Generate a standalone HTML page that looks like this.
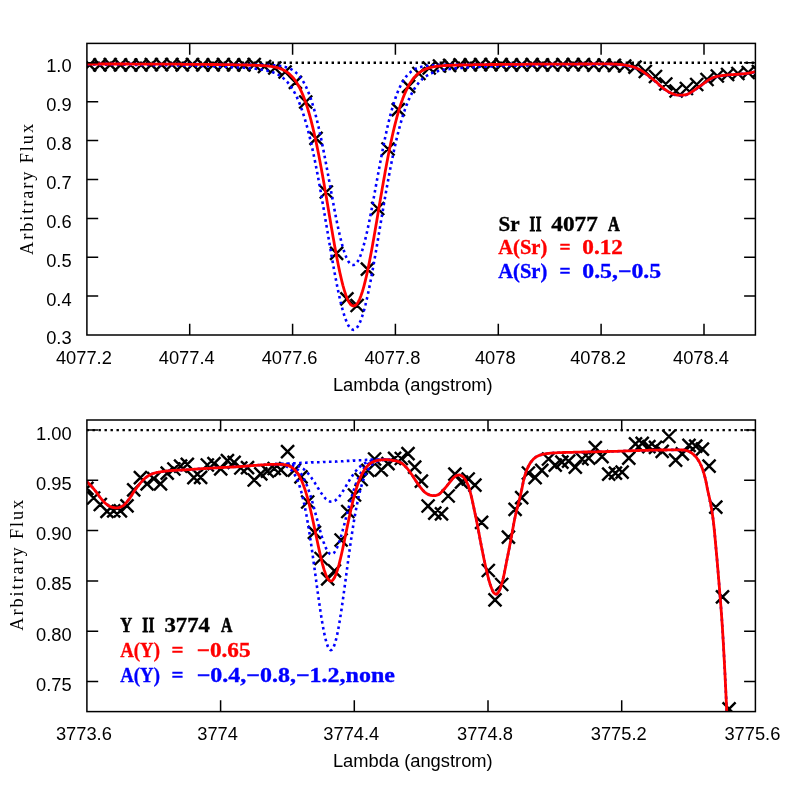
<!DOCTYPE html>
<html><head><meta charset="utf-8"><title>Spectral fits</title>
<style>html,body{margin:0;padding:0;background:#fff}svg{display:block;will-change:transform}</style></head>
<body>
<svg width="797" height="797" viewBox="0 0 797 797">
<rect width="797" height="797" fill="#fff"/>
<defs><clipPath id="c1"><rect x="86.9" y="43.4" width="668.5" height="291.6"/></clipPath><clipPath id="c2"><rect x="86.9" y="420.0" width="668.5" height="291.6"/></clipPath></defs>
<g clip-path="url(#c1)">
<path d="M86.9 62.8H755.4" stroke="#000" stroke-width="2.4" stroke-dasharray="2.4 3.6" stroke-dashoffset="1.3" fill="none"/>
<path d="M83.1 58.3l13.0 13.0M83.1 71.3l13.0 -13.0M93.4 58.4l13.0 13.0M93.4 71.4l13.0 -13.0M103.7 58.2l13.0 13.0M103.7 71.2l13.0 -13.0M114.0 58.3l13.0 13.0M114.0 71.3l13.0 -13.0M124.3 58.5l13.0 13.0M124.3 71.5l13.0 -13.0M134.5 58.5l13.0 13.0M134.5 71.5l13.0 -13.0M144.8 58.1l13.0 13.0M144.8 71.1l13.0 -13.0M155.1 58.1l13.0 13.0M155.1 71.1l13.0 -13.0M165.4 58.0l13.0 13.0M165.4 71.0l13.0 -13.0M175.7 58.3l13.0 13.0M175.7 71.3l13.0 -13.0M186.0 58.0l13.0 13.0M186.0 71.0l13.0 -13.0M196.3 58.3l13.0 13.0M196.3 71.3l13.0 -13.0M206.6 58.4l13.0 13.0M206.6 71.4l13.0 -13.0M216.9 58.2l13.0 13.0M216.9 71.2l13.0 -13.0M227.2 58.4l13.0 13.0M227.2 71.4l13.0 -13.0M237.4 58.4l13.0 13.0M237.4 71.4l13.0 -13.0M247.7 58.0l13.0 13.0M247.7 71.0l13.0 -13.0M258.0 60.0l13.0 13.0M258.0 73.0l13.0 -13.0M268.3 61.5l13.0 13.0M268.3 74.5l13.0 -13.0M278.6 65.5l13.0 13.0M278.6 78.5l13.0 -13.0M288.9 75.8l13.0 13.0M288.9 88.8l13.0 -13.0M299.2 95.5l13.0 13.0M299.2 108.5l13.0 -13.0M309.5 131.9l13.0 13.0M309.5 144.9l13.0 -13.0M319.8 185.5l13.0 13.0M319.8 198.5l13.0 -13.0M330.1 246.8l13.0 13.0M330.1 259.8l13.0 -13.0M340.4 292.3l13.0 13.0M340.4 305.3l13.0 -13.0M350.6 299.0l13.0 13.0M350.6 312.0l13.0 -13.0M360.9 262.7l13.0 13.0M360.9 275.7l13.0 -13.0M371.2 202.0l13.0 13.0M371.2 215.0l13.0 -13.0M381.5 142.5l13.0 13.0M381.5 155.5l13.0 -13.0M391.8 103.2l13.0 13.0M391.8 116.2l13.0 -13.0M402.1 79.9l13.0 13.0M402.1 92.9l13.0 -13.0M412.4 67.0l13.0 13.0M412.4 80.0l13.0 -13.0M422.7 61.5l13.0 13.0M422.7 74.5l13.0 -13.0M433.0 59.5l13.0 13.0M433.0 72.5l13.0 -13.0M443.2 58.8l13.0 13.0M443.2 71.8l13.0 -13.0M453.5 58.3l13.0 13.0M453.5 71.3l13.0 -13.0M463.8 58.3l13.0 13.0M463.8 71.3l13.0 -13.0M474.1 58.2l13.0 13.0M474.1 71.2l13.0 -13.0M484.4 58.2l13.0 13.0M484.4 71.2l13.0 -13.0M494.7 58.2l13.0 13.0M494.7 71.2l13.0 -13.0M505.0 58.4l13.0 13.0M505.0 71.4l13.0 -13.0M515.3 58.3l13.0 13.0M515.3 71.3l13.0 -13.0M525.6 58.1l13.0 13.0M525.6 71.1l13.0 -13.0M535.9 58.3l13.0 13.0M535.9 71.3l13.0 -13.0M546.1 58.5l13.0 13.0M546.1 71.5l13.0 -13.0M556.4 58.2l13.0 13.0M556.4 71.2l13.0 -13.0M566.7 58.1l13.0 13.0M566.7 71.1l13.0 -13.0M577.0 58.2l13.0 13.0M577.0 71.2l13.0 -13.0M587.3 58.6l13.0 13.0M587.3 71.6l13.0 -13.0M597.6 58.5l13.0 13.0M597.6 71.5l13.0 -13.0M607.9 58.8l13.0 13.0M607.9 71.8l13.0 -13.0M618.2 59.5l13.0 13.0M618.2 72.5l13.0 -13.0M628.5 60.7l13.0 13.0M628.5 73.7l13.0 -13.0M638.8 65.0l13.0 13.0M638.8 78.0l13.0 -13.0M649.0 70.0l13.0 13.0M649.0 83.0l13.0 -13.0M659.3 77.5l13.0 13.0M659.3 90.5l13.0 -13.0M669.6 84.5l13.0 13.0M669.6 97.5l13.0 -13.0M679.9 82.0l13.0 13.0M679.9 95.0l13.0 -13.0M690.2 78.0l13.0 13.0M690.2 91.0l13.0 -13.0M700.5 73.0l13.0 13.0M700.5 86.0l13.0 -13.0M710.8 69.5l13.0 13.0M710.8 82.5l13.0 -13.0M721.1 68.0l13.0 13.0M721.1 81.0l13.0 -13.0M731.4 67.0l13.0 13.0M731.4 80.0l13.0 -13.0M741.7 66.0l13.0 13.0M741.7 79.0l13.0 -13.0M751.9 65.0l13.0 13.0M751.9 78.0l13.0 -13.0" stroke="#000" stroke-width="2.45" fill="none"/>
<path d="M86.9 64.5 L87.4 64.5 L87.9 64.5 L88.4 64.5 L88.9 64.5 L89.4 64.5 L89.9 64.5 L90.4 64.5 L90.9 64.5 L91.4 64.5 L91.9 64.5 L92.4 64.5 L92.9 64.5 L93.4 64.5 L93.9 64.5 L94.4 64.5 L94.9 64.5 L95.4 64.5 L95.9 64.5 L96.4 64.5 L96.9 64.6 L97.4 64.6 L97.9 64.6 L98.4 64.6 L98.9 64.6 L99.4 64.6 L99.9 64.6 L100.4 64.6 L100.9 64.6 L101.4 64.6 L101.9 64.6 L102.4 64.6 L102.9 64.6 L103.4 64.6 L103.9 64.6 L104.4 64.6 L104.9 64.6 L105.4 64.6 L105.9 64.6 L106.4 64.6 L106.9 64.6 L107.4 64.6 L107.9 64.6 L108.4 64.6 L108.9 64.6 L109.4 64.6 L109.9 64.6 L110.4 64.6 L110.9 64.6 L111.4 64.6 L111.9 64.7 L112.4 64.7 L112.9 64.7 L113.4 64.7 L113.9 64.7 L114.4 64.7 L114.9 64.7 L115.4 64.7 L115.9 64.7 L116.4 64.7 L116.9 64.7 L117.4 64.7 L117.9 64.7 L118.4 64.7 L118.9 64.7 L119.4 64.7 L119.9 64.7 L120.4 64.7 L120.9 64.7 L121.4 64.7 L121.9 64.7 L122.4 64.7 L122.9 64.7 L123.4 64.7 L123.9 64.7 L124.4 64.8 L124.9 64.8 L125.4 64.8 L125.9 64.8 L126.4 64.8 L126.9 64.8 L127.4 64.8 L127.9 64.8 L128.4 64.8 L128.9 64.8 L129.4 64.8 L129.9 64.8 L130.4 64.8 L130.9 64.8 L131.4 64.8 L131.9 64.8 L132.4 64.8 L132.9 64.8 L133.4 64.8 L133.9 64.8 L134.4 64.8 L134.9 64.8 L135.4 64.9 L135.9 64.9 L136.4 64.9 L136.9 64.9 L137.4 64.9 L137.9 64.9 L138.4 64.9 L138.9 64.9 L139.4 64.9 L139.9 64.9 L140.4 64.9 L140.9 64.9 L141.4 64.9 L141.9 64.9 L142.4 64.9 L142.9 64.9 L143.4 64.9 L143.9 64.9 L144.4 64.9 L144.9 65.0 L145.4 65.0 L145.9 65.0 L146.4 65.0 L146.9 65.0 L147.4 65.0 L147.9 65.0 L148.4 65.0 L148.9 65.0 L149.4 65.0 L149.9 65.0 L150.4 65.0 L150.9 65.0 L151.4 65.0 L151.9 65.0 L152.4 65.0 L152.9 65.0 L153.4 65.1 L153.9 65.1 L154.4 65.1 L154.9 65.1 L155.4 65.1 L155.9 65.1 L156.4 65.1 L156.9 65.1 L157.4 65.1 L157.9 65.1 L158.4 65.1 L158.9 65.1 L159.4 65.1 L159.9 65.1 L160.4 65.1 L160.9 65.2 L161.4 65.2 L161.9 65.2 L162.4 65.2 L162.9 65.2 L163.4 65.2 L163.9 65.2 L164.4 65.2 L164.9 65.2 L165.4 65.2 L165.9 65.2 L166.4 65.2 L166.9 65.2 L167.4 65.2 L167.9 65.3 L168.4 65.3 L168.9 65.3 L169.4 65.3 L169.9 65.3 L170.4 65.3 L170.9 65.3 L171.4 65.3 L171.9 65.3 L172.4 65.3 L172.9 65.3 L173.4 65.3 L173.9 65.4 L174.4 65.4 L174.9 65.4 L175.4 65.4 L175.9 65.4 L176.4 65.4 L176.9 65.4 L177.4 65.4 L177.9 65.4 L178.4 65.4 L178.9 65.4 L179.4 65.5 L179.9 65.5 L180.4 65.5 L180.9 65.5 L181.4 65.5 L181.9 65.5 L182.4 65.5 L182.9 65.5 L183.4 65.5 L183.9 65.5 L184.4 65.5 L184.9 65.6 L185.4 65.6 L185.9 65.6 L186.4 65.6 L186.9 65.6 L187.4 65.6 L187.9 65.6 L188.4 65.6 L188.9 65.6 L189.4 65.7 L189.9 65.7 L190.4 65.7 L190.9 65.7 L191.4 65.7 L191.9 65.7 L192.4 65.7 L192.9 65.7 L193.4 65.7 L193.9 65.8 L194.4 65.8 L194.9 65.8 L195.4 65.8 L195.9 65.8 L196.4 65.8 L196.9 65.8 L197.4 65.8 L197.9 65.9 L198.4 65.9 L198.9 65.9 L199.4 65.9 L199.9 65.9 L200.4 65.9 L200.9 65.9 L201.4 65.9 L201.9 66.0 L202.4 66.0 L202.9 66.0 L203.4 66.0 L203.9 66.0 L204.4 66.0 L204.9 66.0 L205.4 66.1 L205.9 66.1 L206.4 66.1 L206.9 66.1 L207.4 66.1 L207.9 66.1 L208.4 66.2 L208.9 66.2 L209.4 66.2 L209.9 66.2 L210.4 66.2 L210.9 66.2 L211.4 66.2 L211.9 66.3 L212.4 66.3 L212.9 66.3 L213.4 66.3 L213.9 66.3 L214.4 66.3 L214.9 66.4 L215.4 66.4 L215.9 66.4 L216.4 66.4 L216.9 66.4 L217.4 66.5 L217.9 66.5 L218.4 66.5 L218.9 66.5 L219.4 66.5 L219.9 66.5 L220.4 66.6 L220.9 66.6 L221.4 66.6 L221.9 66.6 L222.4 66.6 L222.9 66.7 L223.4 66.7 L223.9 66.7 L224.4 66.7 L224.9 66.8 L225.4 66.8 L225.9 66.8 L226.4 66.8 L226.9 66.8 L227.4 66.9 L227.9 66.9 L228.4 66.9 L228.9 66.9 L229.4 67.0 L229.9 67.0 L230.4 67.0 L230.9 67.0 L231.4 67.1 L231.9 67.1 L232.4 67.1 L232.9 67.1 L233.4 67.2 L233.9 67.2 L234.4 67.2 L234.9 67.2 L235.4 67.3 L235.9 67.3 L236.4 67.3 L236.9 67.3 L237.4 67.4 L237.9 67.4 L238.4 67.4 L238.9 67.5 L239.4 67.5 L239.9 67.5 L240.4 67.6 L240.9 67.6 L241.4 67.6 L241.9 67.7 L242.4 67.7 L242.9 67.7 L243.4 67.8 L243.9 67.8 L244.4 67.8 L244.9 67.9 L245.4 67.9 L245.9 67.9 L246.4 68.0 L246.9 68.0 L247.4 68.0 L247.9 68.1 L248.4 68.1 L248.9 68.2 L249.4 68.2 L249.9 68.3 L250.4 68.3 L250.9 68.3 L251.4 68.4 L251.9 68.4 L252.4 68.5 L252.9 68.5 L253.4 68.6 L253.9 68.6 L254.4 68.7 L254.9 68.7 L255.4 68.8 L255.9 68.8 L256.4 68.9 L256.9 69.0 L257.4 69.0 L257.9 69.1 L258.4 69.2 L258.9 69.2 L259.4 69.3 L259.9 69.4 L260.4 69.4 L260.9 69.5 L261.4 69.6 L261.9 69.7 L262.4 69.7 L262.9 69.8 L263.4 69.9 L263.9 70.0 L264.4 70.1 L264.9 70.2 L265.4 70.3 L265.9 70.4 L266.4 70.5 L266.9 70.6 L267.4 70.7 L267.9 70.9 L268.4 71.0 L268.9 71.1 L269.4 71.2 L269.9 71.4 L270.4 71.5 L270.9 71.7 L271.4 71.8 L271.9 72.0 L272.4 72.2 L272.9 72.3 L273.4 72.5 L273.9 72.7 L274.4 72.9 L274.9 73.1 L275.4 73.3 L275.9 73.6 L276.4 73.8 L276.9 74.0 L277.4 74.3 L277.9 74.5 L278.4 74.8 L278.9 75.1 L279.4 75.4 L279.9 75.7 L280.4 76.0 L280.9 76.4 L281.4 76.7 L281.9 77.1 L282.4 77.4 L282.9 77.8 L283.4 78.2 L283.9 78.7 L284.4 79.1 L284.9 79.6 L285.4 80.0 L285.9 80.5 L286.4 81.0 L286.9 81.6 L287.4 82.1 L287.9 82.7 L288.4 83.3 L288.9 83.9 L289.4 84.5 L289.9 85.2 L290.4 85.9 L290.9 86.6 L291.4 87.3 L291.9 88.1 L292.4 88.9 L292.9 89.7 L293.4 90.5 L293.9 91.4 L294.4 92.3 L294.9 93.2 L295.4 94.2 L295.9 95.2 L296.4 96.2 L296.9 97.3 L297.4 98.4 L297.9 99.5 L298.4 100.7 L298.9 101.8 L299.4 103.1 L299.9 104.3 L300.4 105.6 L300.9 107.0 L301.4 108.4 L301.9 109.8 L302.4 111.2 L302.9 112.7 L303.4 114.3 L303.9 115.8 L304.4 117.5 L304.9 119.1 L305.4 120.8 L305.9 122.5 L306.4 124.3 L306.9 126.1 L307.4 128.0 L307.9 129.9 L308.4 131.8 L308.9 133.8 L309.4 135.8 L309.9 137.9 L310.4 140.0 L310.9 142.2 L311.4 144.4 L311.9 146.6 L312.4 148.9 L312.9 151.2 L313.4 153.5 L313.9 155.9 L314.4 158.3 L314.9 160.8 L315.4 163.3 L315.9 165.8 L316.4 168.4 L316.9 171.0 L317.4 173.6 L317.9 176.3 L318.4 179.0 L318.9 181.7 L319.4 184.5 L319.9 187.3 L320.4 190.1 L320.9 192.9 L321.4 195.8 L321.9 198.6 L322.4 201.5 L322.9 204.4 L323.4 207.4 L323.9 210.3 L324.4 213.3 L324.9 216.2 L325.4 219.2 L325.9 222.2 L326.4 225.2 L326.9 228.1 L327.4 231.1 L327.9 234.1 L328.4 237.1 L328.9 240.1 L329.4 243.0 L329.9 246.0 L330.4 248.9 L330.9 251.8 L331.4 254.7 L331.9 257.6 L332.4 260.5 L332.9 263.3 L333.4 266.1 L333.9 268.9 L334.4 271.6 L334.9 274.3 L335.4 277.0 L335.9 279.6 L336.4 282.2 L336.9 284.8 L337.4 287.3 L337.9 289.7 L338.4 292.1 L338.9 294.4 L339.4 296.7 L339.9 298.9 L340.4 301.1 L340.9 303.1 L341.4 305.2 L341.9 307.1 L342.4 309.0 L342.9 310.8 L343.4 312.5 L343.9 314.2 L344.4 315.8 L344.9 317.3 L345.4 318.7 L345.9 320.1 L346.4 321.3 L346.9 322.5 L347.4 323.6 L347.9 324.6 L348.4 325.5 L348.9 326.3 L349.4 327.1 L349.9 327.7 L350.4 328.3 L350.9 328.7 L351.4 329.1 L351.9 329.4 L352.4 329.6 L352.9 329.7 L353.4 329.8 L353.9 329.7 L354.4 329.6 L354.9 329.4 L355.4 329.1 L355.9 328.7 L356.4 328.2 L356.9 327.6 L357.4 327.0 L357.9 326.2 L358.4 325.4 L358.9 324.5 L359.4 323.5 L359.9 322.4 L360.4 321.2 L360.9 319.9 L361.4 318.6 L361.9 317.1 L362.4 315.6 L362.9 314.0 L363.4 312.4 L363.9 310.6 L364.4 308.8 L364.9 306.9 L365.4 305.0 L365.9 302.9 L366.4 300.8 L366.9 298.7 L367.4 296.5 L367.9 294.2 L368.4 291.9 L368.9 289.5 L369.4 287.0 L369.9 284.5 L370.4 282.0 L370.9 279.4 L371.4 276.8 L371.9 274.1 L372.4 271.4 L372.9 268.6 L373.4 265.9 L373.9 263.0 L374.4 260.2 L374.9 257.3 L375.4 254.5 L375.9 251.6 L376.4 248.6 L376.9 245.7 L377.4 242.7 L377.9 239.8 L378.4 236.8 L378.9 233.8 L379.4 230.8 L379.9 227.9 L380.4 224.9 L380.9 221.9 L381.4 218.9 L381.9 215.9 L382.4 213.0 L382.9 210.0 L383.4 207.1 L383.9 204.1 L384.4 201.2 L384.9 198.3 L385.4 195.5 L385.9 192.6 L386.4 189.8 L386.9 187.0 L387.4 184.2 L387.9 181.5 L388.4 178.7 L388.9 176.0 L389.4 173.4 L389.9 170.7 L390.4 168.1 L390.9 165.6 L391.4 163.1 L391.9 160.6 L392.4 158.1 L392.9 155.7 L393.4 153.3 L393.9 150.9 L394.4 148.6 L394.9 146.4 L395.4 144.2 L395.9 142.0 L396.4 139.8 L396.9 137.7 L397.4 135.7 L397.9 133.6 L398.4 131.6 L398.9 129.7 L399.4 127.8 L399.9 126.0 L400.4 124.1 L400.9 122.4 L401.4 120.6 L401.9 118.9 L402.4 117.3 L402.9 115.7 L403.4 114.1 L403.9 112.6 L404.4 111.1 L404.9 109.6 L405.4 108.2 L405.9 106.9 L406.4 105.5 L406.9 104.2 L407.4 103.0 L407.9 101.7 L408.4 100.5 L408.9 99.4 L409.4 98.3 L409.9 97.2 L410.4 96.1 L410.9 95.1 L411.4 94.1 L411.9 93.1 L412.4 92.2 L412.9 91.3 L413.4 90.4 L413.9 89.6 L414.4 88.8 L414.9 88.0 L415.4 87.3 L415.9 86.5 L416.4 85.8 L416.9 85.1 L417.4 84.5 L417.9 83.8 L418.4 83.2 L418.9 82.6 L419.4 82.1 L419.9 81.5 L420.4 81.0 L420.9 80.5 L421.4 80.0 L421.9 79.5 L422.4 79.1 L422.9 78.6 L423.4 78.2 L423.9 77.8 L424.4 77.4 L424.9 77.0 L425.4 76.7 L425.9 76.3 L426.4 76.0 L426.9 75.7 L427.4 75.4 L427.9 75.1 L428.4 74.8 L428.9 74.5 L429.4 74.3 L429.9 74.0 L430.4 73.8 L430.9 73.5 L431.4 73.3 L431.9 73.1 L432.4 72.9 L432.9 72.7 L433.4 72.5 L433.9 72.3 L434.4 72.1 L434.9 72.0 L435.4 71.8 L435.9 71.7 L436.4 71.5 L436.9 71.4 L437.4 71.2 L437.9 71.1 L438.4 71.0 L438.9 70.8 L439.4 70.7 L439.9 70.6 L440.4 70.5 L440.9 70.4 L441.4 70.3 L441.9 70.2 L442.4 70.1 L442.9 70.0 L443.4 69.9 L443.9 69.8 L444.4 69.7 L444.9 69.7 L445.4 69.6 L445.9 69.5 L446.4 69.4 L446.9 69.3 L447.4 69.3 L447.9 69.2 L448.4 69.1 L448.9 69.1 L449.4 69.0 L449.9 69.0 L450.4 68.9 L450.9 68.8 L451.4 68.8 L451.9 68.7 L452.4 68.7 L452.9 68.6 L453.4 68.6 L453.9 68.5 L454.4 68.5 L454.9 68.4 L455.4 68.4 L455.9 68.3 L456.4 68.3 L456.9 68.2 L457.4 68.2 L457.9 68.2 L458.4 68.1 L458.9 68.1 L459.4 68.0 L459.9 68.0 L460.4 68.0 L460.9 67.9 L461.4 67.9 L461.9 67.9 L462.4 67.8 L462.9 67.8 L463.4 67.8 L463.9 67.7 L464.4 67.7 L464.9 67.7 L465.4 67.6 L465.9 67.6 L466.4 67.6 L466.9 67.5 L467.4 67.5 L467.9 67.5 L468.4 67.4 L468.9 67.4 L469.4 67.4 L469.9 67.3 L470.4 67.3 L470.9 67.3 L471.4 67.3 L471.9 67.2 L472.4 67.2 L472.9 67.2 L473.4 67.2 L473.9 67.1 L474.4 67.1 L474.9 67.1 L475.4 67.1 L475.9 67.0 L476.4 67.0 L476.9 67.0 L477.4 67.0 L477.9 66.9 L478.4 66.9 L478.9 66.9 L479.4 66.9 L479.9 66.8 L480.4 66.8 L480.9 66.8 L481.4 66.8 L481.9 66.8 L482.4 66.7 L482.9 66.7 L483.4 66.7 L483.9 66.7 L484.4 66.6 L484.9 66.6 L485.4 66.6 L485.9 66.6 L486.4 66.6 L486.9 66.5 L487.4 66.5 L487.9 66.5 L488.4 66.5 L488.9 66.5 L489.4 66.5 L489.9 66.4 L490.4 66.4 L490.9 66.4 L491.4 66.4 L491.9 66.4 L492.4 66.3 L492.9 66.3 L493.4 66.3 L493.9 66.3 L494.4 66.3 L494.9 66.3 L495.4 66.2 L495.9 66.2 L496.4 66.2 L496.9 66.2 L497.4 66.2 L497.9 66.2 L498.4 66.1 L498.9 66.1 L499.4 66.1 L499.9 66.1 L500.4 66.1 L500.9 66.1 L501.4 66.1 L501.9 66.0 L502.4 66.0 L502.9 66.0 L503.4 66.0 L503.9 66.0 L504.4 66.0 L504.9 66.0 L505.4 65.9 L505.9 65.9 L506.4 65.9 L506.9 65.9 L507.4 65.9 L507.9 65.9 L508.4 65.9 L508.9 65.9 L509.4 65.8 L509.9 65.8 L510.4 65.8 L510.9 65.8 L511.4 65.8 L511.9 65.8 L512.4 65.8 L512.9 65.8 L513.4 65.7 L513.9 65.7 L514.4 65.7 L514.9 65.7 L515.4 65.7 L515.9 65.7 L516.4 65.7 L516.9 65.7 L517.4 65.7 L517.9 65.6 L518.4 65.6 L518.9 65.6 L519.4 65.6 L519.9 65.6 L520.4 65.6 L520.9 65.6 L521.4 65.6 L521.9 65.6 L522.4 65.5 L522.9 65.5 L523.4 65.5 L523.9 65.5 L524.4 65.5 L524.9 65.5 L525.4 65.5 L525.9 65.5 L526.4 65.5 L526.9 65.5 L527.4 65.4 L527.9 65.4 L528.4 65.4 L528.9 65.4 L529.4 65.4 L529.9 65.4 L530.4 65.4 L530.9 65.4 L531.4 65.4 L531.9 65.4 L532.4 65.4 L532.9 65.4 L533.4 65.3 L533.9 65.3 L534.4 65.3 L534.9 65.3 L535.4 65.3 L535.9 65.3 L536.4 65.3 L536.9 65.3 L537.4 65.3 L537.9 65.3 L538.4 65.3 L538.9 65.3 L539.4 65.2 L539.9 65.2 L540.4 65.2 L540.9 65.2 L541.4 65.2 L541.9 65.2 L542.4 65.2 L542.9 65.2 L543.4 65.2 L543.9 65.2 L544.4 65.2 L544.9 65.2 L545.4 65.2 L545.9 65.2 L546.4 65.1 L546.9 65.1 L547.4 65.1 L547.9 65.1 L548.4 65.1 L548.9 65.1 L549.4 65.1 L549.9 65.1 L550.4 65.1 L550.9 65.1 L551.4 65.1 L551.9 65.1 L552.4 65.1 L552.9 65.1 L553.4 65.1 L553.9 65.0 L554.4 65.0 L554.9 65.0 L555.4 65.0 L555.9 65.0 L556.4 65.0 L556.9 65.0 L557.4 65.0 L557.9 65.0 L558.4 65.0 L558.9 65.0 L559.4 65.0 L559.9 65.0 L560.4 65.0 L560.9 65.0 L561.4 65.0 L561.9 65.0 L562.4 64.9 L562.9 64.9 L563.4 64.9 L563.9 64.9 L564.4 64.9 L564.9 64.9 L565.4 64.9 L565.9 64.9 L566.4 64.9 L566.9 64.9 L567.4 64.9 L567.9 64.9 L568.4 64.9 L568.9 64.9 L569.4 64.9 L569.9 64.9 L570.4 64.9 L570.9 64.9 L571.4 64.9 L571.9 64.8 L572.4 64.8 L572.9 64.8 L573.4 64.8 L573.9 64.8 L574.4 64.8 L574.9 64.8 L575.4 64.8 L575.9 64.8 L576.4 64.8 L576.9 64.8 L577.4 64.8 L577.9 64.8 L578.4 64.8 L578.9 64.8 L579.4 64.8 L579.9 64.8 L580.4 64.8 L580.9 64.8 L581.4 64.8 L581.9 64.8 L582.4 64.7 L582.9 64.7 L583.4 64.7 L583.9 64.7 L584.4 64.7 L584.9 64.7 L585.4 64.7 L585.9 64.7 L586.4 64.7 L586.9 64.7 L587.4 64.7 L587.9 64.7 L588.4 64.7 L588.9 64.7 L589.4 64.6 L589.9 64.6 L590.4 64.6 L590.9 64.6 L591.4 64.6 L591.9 64.6 L592.4 64.6 L592.9 64.6 L593.4 64.6 L593.9 64.6 L594.4 64.6 L594.9 64.6 L595.4 64.6 L595.9 64.6 L596.4 64.6 L596.9 64.5 L597.4 64.5 L597.9 64.5 L598.4 64.5 L598.9 64.5 L599.4 64.5 L599.9 64.5 L600.4 64.5 L600.9 64.5 L601.4 64.5 L601.9 64.5 L602.4 64.5 L602.9 64.5 L603.4 64.5 L603.9 64.5 L604.4 64.5 L604.9 64.5 L605.4 64.5 L605.9 64.5 L606.4 64.5 L606.9 64.5 L607.4 64.5 L607.9 64.5 L608.4 64.5 L608.9 64.5 L609.4 64.5 L609.9 64.5 L610.4 64.5 L610.9 64.5 L611.4 64.5 L611.9 64.6 L612.4 64.6 L612.9 64.6 L613.4 64.6 L613.9 64.6 L614.4 64.6 L614.9 64.7 L615.4 64.7 L615.9 64.7 L616.4 64.7 L616.9 64.8 L617.4 64.8 L617.9 64.9 L618.4 64.9 L618.9 64.9 L619.4 65.0 L619.9 65.0 L620.4 65.1 L620.9 65.1 L621.4 65.2 L621.9 65.2 L622.4 65.3 L622.9 65.3 L623.4 65.4 L623.9 65.4 L624.4 65.5 L624.9 65.6 L625.4 65.6 L625.9 65.7 L626.4 65.8 L626.9 65.9 L627.4 66.0 L627.9 66.1 L628.4 66.2 L628.9 66.3 L629.4 66.4 L629.9 66.5 L630.4 66.6 L630.9 66.8 L631.4 66.9 L631.9 67.0 L632.4 67.1 L632.9 67.3 L633.4 67.5 L633.9 67.6 L634.4 67.8 L634.9 68.0 L635.4 68.2 L635.9 68.4 L636.4 68.6 L636.9 68.8 L637.4 69.0 L637.9 69.2 L638.4 69.5 L638.9 69.7 L639.4 69.9 L639.9 70.2 L640.4 70.5 L640.9 70.8 L641.4 71.1 L641.9 71.4 L642.4 71.7 L642.9 72.0 L643.4 72.4 L643.9 72.7 L644.4 73.1 L644.9 73.5 L645.4 73.8 L645.9 74.2 L646.4 74.6 L646.9 75.0 L647.4 75.4 L647.9 75.8 L648.4 76.2 L648.9 76.6 L649.4 77.0 L649.9 77.4 L650.4 77.8 L650.9 78.2 L651.4 78.6 L651.9 79.0 L652.4 79.4 L652.9 79.8 L653.4 80.2 L653.9 80.5 L654.4 80.9 L654.9 81.3 L655.4 81.7 L655.9 82.1 L656.4 82.5 L656.9 83.0 L657.4 83.4 L657.9 83.9 L658.4 84.3 L658.9 84.8 L659.4 85.3 L659.9 85.8 L660.4 86.2 L660.9 86.7 L661.4 87.1 L661.9 87.5 L662.4 87.9 L662.9 88.3 L663.4 88.7 L663.9 89.1 L664.4 89.5 L664.9 89.8 L665.4 90.2 L665.9 90.5 L666.4 90.8 L666.9 91.1 L667.4 91.5 L667.9 91.7 L668.4 92.0 L668.9 92.3 L669.4 92.6 L669.9 92.9 L670.4 93.2 L670.9 93.4 L671.4 93.7 L671.9 93.9 L672.4 94.1 L672.9 94.3 L673.4 94.5 L673.9 94.6 L674.4 94.7 L674.9 94.9 L675.4 95.0 L675.9 95.1 L676.4 95.3 L676.9 95.3 L677.4 95.4 L677.9 95.5 L678.4 95.5 L678.9 95.6 L679.4 95.5 L679.9 95.5 L680.4 95.5 L680.9 95.5 L681.4 95.5 L681.9 95.5 L682.4 95.4 L682.9 95.4 L683.4 95.4 L683.9 95.3 L684.4 95.3 L684.9 95.2 L685.4 95.1 L685.9 95.0 L686.4 94.9 L686.9 94.7 L687.4 94.5 L687.9 94.3 L688.4 94.1 L688.9 93.8 L689.4 93.6 L689.9 93.4 L690.4 93.1 L690.9 92.8 L691.4 92.5 L691.9 92.1 L692.4 91.8 L692.9 91.4 L693.4 91.1 L693.9 90.7 L694.4 90.3 L694.9 90.0 L695.4 89.6 L695.9 89.3 L696.4 88.9 L696.9 88.5 L697.4 88.2 L697.9 87.8 L698.4 87.5 L698.9 87.1 L699.4 86.8 L699.9 86.4 L700.4 86.1 L700.9 85.7 L701.4 85.4 L701.9 85.1 L702.4 84.7 L702.9 84.4 L703.4 84.0 L703.9 83.7 L704.4 83.3 L704.9 83.0 L705.4 82.6 L705.9 82.2 L706.4 81.8 L706.9 81.4 L707.4 81.0 L707.9 80.7 L708.4 80.3 L708.9 80.0 L709.4 79.7 L709.9 79.5 L710.4 79.2 L710.9 78.9 L711.4 78.7 L711.9 78.4 L712.4 78.2 L712.9 78.0 L713.4 77.8 L713.9 77.6 L714.4 77.4 L714.9 77.2 L715.4 77.1 L715.9 77.0 L716.4 76.9 L716.9 76.7 L717.4 76.6 L717.9 76.5 L718.4 76.4 L718.9 76.4 L719.4 76.3 L719.9 76.2 L720.4 76.1 L720.9 76.0 L721.4 76.0 L721.9 75.9 L722.4 75.8 L722.9 75.7 L723.4 75.7 L723.9 75.6 L724.4 75.6 L724.9 75.5 L725.4 75.4 L725.9 75.4 L726.4 75.3 L726.9 75.3 L727.4 75.3 L727.9 75.2 L728.4 75.2 L728.9 75.1 L729.4 75.1 L729.9 75.1 L730.4 75.0 L730.9 75.0 L731.4 74.9 L731.9 74.9 L732.4 74.9 L732.9 74.9 L733.4 74.8 L733.9 74.8 L734.4 74.8 L734.9 74.7 L735.4 74.7 L735.9 74.6 L736.4 74.6 L736.9 74.6 L737.4 74.5 L737.9 74.5 L738.4 74.5 L738.9 74.4 L739.4 74.4 L739.9 74.3 L740.4 74.3 L740.9 74.3 L741.4 74.2 L741.9 74.2 L742.4 74.1 L742.9 74.1 L743.4 74.1 L743.9 74.0 L744.4 74.0 L744.9 73.9 L745.4 73.9 L745.9 73.8 L746.4 73.7 L746.9 73.7 L747.4 73.6 L747.9 73.5 L748.4 73.5 L748.9 73.4 L749.4 73.3 L749.9 73.2 L750.4 73.1 L750.9 73.0 L751.4 72.8 L751.9 72.7 L752.4 72.6 L752.9 72.5 L753.4 72.4 L753.9 72.3 L754.4 72.1 L754.9 72.0 L755.4 71.9" stroke="#00f" stroke-width="2.6" stroke-dasharray="2.6 3.4" fill="none"/>
<path d="M86.9 63.9 L87.4 63.9 L87.9 63.9 L88.4 63.9 L88.9 63.9 L89.4 63.9 L89.9 63.9 L90.4 63.9 L90.9 63.9 L91.4 63.9 L91.9 63.9 L92.4 63.9 L92.9 63.9 L93.4 63.9 L93.9 63.9 L94.4 63.9 L94.9 63.9 L95.4 63.9 L95.9 63.9 L96.4 63.9 L96.9 63.9 L97.4 63.9 L97.9 63.9 L98.4 63.9 L98.9 63.9 L99.4 63.9 L99.9 63.9 L100.4 63.9 L100.9 63.9 L101.4 63.9 L101.9 63.9 L102.4 63.9 L102.9 63.9 L103.4 63.9 L103.9 63.9 L104.4 63.9 L104.9 63.9 L105.4 63.9 L105.9 63.9 L106.4 63.9 L106.9 63.9 L107.4 63.9 L107.9 63.9 L108.4 63.9 L108.9 63.9 L109.4 63.9 L109.9 63.9 L110.4 63.9 L110.9 63.9 L111.4 63.9 L111.9 63.9 L112.4 63.9 L112.9 63.9 L113.4 63.9 L113.9 63.9 L114.4 63.9 L114.9 63.9 L115.4 63.9 L115.9 63.9 L116.4 63.9 L116.9 63.9 L117.4 63.9 L117.9 63.9 L118.4 63.9 L118.9 63.9 L119.4 63.9 L119.9 63.9 L120.4 63.9 L120.9 63.9 L121.4 63.9 L121.9 63.9 L122.4 63.9 L122.9 63.9 L123.4 63.9 L123.9 63.9 L124.4 63.9 L124.9 63.9 L125.4 63.9 L125.9 63.9 L126.4 63.9 L126.9 63.9 L127.4 63.9 L127.9 63.9 L128.4 63.9 L128.9 63.9 L129.4 63.9 L129.9 63.9 L130.4 63.9 L130.9 63.9 L131.4 63.9 L131.9 64.0 L132.4 64.0 L132.9 64.0 L133.4 64.0 L133.9 64.0 L134.4 64.0 L134.9 64.0 L135.4 64.0 L135.9 64.0 L136.4 64.0 L136.9 64.0 L137.4 64.0 L137.9 64.0 L138.4 64.0 L138.9 64.0 L139.4 64.0 L139.9 64.0 L140.4 64.0 L140.9 64.0 L141.4 64.0 L141.9 64.0 L142.4 64.0 L142.9 64.0 L143.4 64.0 L143.9 64.0 L144.4 64.0 L144.9 64.0 L145.4 64.0 L145.9 64.0 L146.4 64.0 L146.9 64.0 L147.4 64.0 L147.9 64.0 L148.4 64.0 L148.9 64.0 L149.4 64.0 L149.9 64.0 L150.4 64.0 L150.9 64.0 L151.4 64.0 L151.9 64.0 L152.4 64.0 L152.9 64.0 L153.4 64.0 L153.9 64.0 L154.4 64.0 L154.9 64.0 L155.4 64.0 L155.9 64.0 L156.4 64.0 L156.9 64.0 L157.4 64.0 L157.9 64.0 L158.4 64.0 L158.9 64.0 L159.4 64.0 L159.9 64.0 L160.4 64.0 L160.9 64.0 L161.4 64.0 L161.9 64.0 L162.4 64.0 L162.9 64.0 L163.4 64.0 L163.9 64.0 L164.4 64.0 L164.9 64.0 L165.4 64.0 L165.9 64.0 L166.4 64.0 L166.9 64.0 L167.4 64.0 L167.9 64.0 L168.4 64.0 L168.9 64.0 L169.4 64.0 L169.9 64.0 L170.4 64.0 L170.9 64.0 L171.4 64.0 L171.9 64.0 L172.4 64.0 L172.9 64.0 L173.4 64.0 L173.9 64.1 L174.4 64.1 L174.9 64.1 L175.4 64.1 L175.9 64.1 L176.4 64.1 L176.9 64.1 L177.4 64.1 L177.9 64.1 L178.4 64.1 L178.9 64.1 L179.4 64.1 L179.9 64.1 L180.4 64.1 L180.9 64.1 L181.4 64.1 L181.9 64.1 L182.4 64.1 L182.9 64.1 L183.4 64.1 L183.9 64.1 L184.4 64.1 L184.9 64.1 L185.4 64.1 L185.9 64.1 L186.4 64.1 L186.9 64.1 L187.4 64.1 L187.9 64.1 L188.4 64.1 L188.9 64.1 L189.4 64.1 L189.9 64.1 L190.4 64.1 L190.9 64.1 L191.4 64.1 L191.9 64.1 L192.4 64.1 L192.9 64.1 L193.4 64.1 L193.9 64.1 L194.4 64.1 L194.9 64.1 L195.4 64.1 L195.9 64.1 L196.4 64.1 L196.9 64.1 L197.4 64.1 L197.9 64.1 L198.4 64.2 L198.9 64.2 L199.4 64.2 L199.9 64.2 L200.4 64.2 L200.9 64.2 L201.4 64.2 L201.9 64.2 L202.4 64.2 L202.9 64.2 L203.4 64.2 L203.9 64.2 L204.4 64.2 L204.9 64.2 L205.4 64.2 L205.9 64.2 L206.4 64.2 L206.9 64.2 L207.4 64.2 L207.9 64.2 L208.4 64.2 L208.9 64.2 L209.4 64.2 L209.9 64.2 L210.4 64.2 L210.9 64.2 L211.4 64.2 L211.9 64.2 L212.4 64.2 L212.9 64.2 L213.4 64.2 L213.9 64.2 L214.4 64.2 L214.9 64.2 L215.4 64.2 L215.9 64.3 L216.4 64.3 L216.9 64.3 L217.4 64.3 L217.9 64.3 L218.4 64.3 L218.9 64.3 L219.4 64.3 L219.9 64.3 L220.4 64.3 L220.9 64.3 L221.4 64.3 L221.9 64.3 L222.4 64.3 L222.9 64.3 L223.4 64.3 L223.9 64.3 L224.4 64.3 L224.9 64.3 L225.4 64.3 L225.9 64.3 L226.4 64.3 L226.9 64.3 L227.4 64.3 L227.9 64.3 L228.4 64.4 L228.9 64.4 L229.4 64.4 L229.9 64.4 L230.4 64.4 L230.9 64.4 L231.4 64.4 L231.9 64.4 L232.4 64.4 L232.9 64.4 L233.4 64.4 L233.9 64.4 L234.4 64.4 L234.9 64.4 L235.4 64.4 L235.9 64.4 L236.4 64.4 L236.9 64.4 L237.4 64.4 L237.9 64.4 L238.4 64.5 L238.9 64.5 L239.4 64.5 L239.9 64.5 L240.4 64.5 L240.9 64.5 L241.4 64.5 L241.9 64.5 L242.4 64.5 L242.9 64.5 L243.4 64.5 L243.9 64.5 L244.4 64.5 L244.9 64.5 L245.4 64.5 L245.9 64.5 L246.4 64.6 L246.9 64.6 L247.4 64.6 L247.9 64.6 L248.4 64.6 L248.9 64.6 L249.4 64.6 L249.9 64.6 L250.4 64.6 L250.9 64.6 L251.4 64.6 L251.9 64.6 L252.4 64.6 L252.9 64.7 L253.4 64.7 L253.9 64.7 L254.4 64.7 L254.9 64.7 L255.4 64.7 L255.9 64.7 L256.4 64.7 L256.9 64.7 L257.4 64.7 L257.9 64.7 L258.4 64.8 L258.9 64.8 L259.4 64.8 L259.9 64.8 L260.4 64.8 L260.9 64.8 L261.4 64.8 L261.9 64.8 L262.4 64.9 L262.9 64.9 L263.4 64.9 L263.9 64.9 L264.4 64.9 L264.9 64.9 L265.4 64.9 L265.9 65.0 L266.4 65.0 L266.9 65.0 L267.4 65.0 L267.9 65.0 L268.4 65.0 L268.9 65.1 L269.4 65.1 L269.9 65.1 L270.4 65.1 L270.9 65.2 L271.4 65.2 L271.9 65.2 L272.4 65.2 L272.9 65.3 L273.4 65.3 L273.9 65.3 L274.4 65.4 L274.9 65.4 L275.4 65.5 L275.9 65.5 L276.4 65.5 L276.9 65.6 L277.4 65.6 L277.9 65.7 L278.4 65.8 L278.9 65.8 L279.4 65.9 L279.9 65.9 L280.4 66.0 L280.9 66.1 L281.4 66.2 L281.9 66.3 L282.4 66.4 L282.9 66.5 L283.4 66.6 L283.9 66.7 L284.4 66.8 L284.9 66.9 L285.4 67.0 L285.9 67.2 L286.4 67.3 L286.9 67.5 L287.4 67.6 L287.9 67.8 L288.4 68.0 L288.9 68.2 L289.4 68.4 L289.9 68.6 L290.4 68.9 L290.9 69.1 L291.4 69.4 L291.9 69.6 L292.4 69.9 L292.9 70.2 L293.4 70.6 L293.9 70.9 L294.4 71.3 L294.9 71.6 L295.4 72.0 L295.9 72.5 L296.4 72.9 L296.9 73.4 L297.4 73.8 L297.9 74.3 L298.4 74.9 L298.9 75.4 L299.4 76.0 L299.9 76.6 L300.4 77.3 L300.9 78.0 L301.4 78.7 L301.9 79.4 L302.4 80.2 L302.9 81.0 L303.4 81.8 L303.9 82.7 L304.4 83.6 L304.9 84.5 L305.4 85.5 L305.9 86.5 L306.4 87.6 L306.9 88.7 L307.4 89.8 L307.9 91.0 L308.4 92.2 L308.9 93.5 L309.4 94.8 L309.9 96.2 L310.4 97.6 L310.9 99.0 L311.4 100.5 L311.9 102.0 L312.4 103.6 L312.9 105.3 L313.4 106.9 L313.9 108.7 L314.4 110.4 L314.9 112.3 L315.4 114.1 L315.9 116.0 L316.4 118.0 L316.9 120.0 L317.4 122.1 L317.9 124.2 L318.4 126.3 L318.9 128.5 L319.4 130.7 L319.9 133.0 L320.4 135.3 L320.9 137.6 L321.4 140.0 L321.9 142.5 L322.4 144.9 L322.9 147.4 L323.4 149.9 L323.9 152.5 L324.4 155.1 L324.9 157.7 L325.4 160.3 L325.9 163.0 L326.4 165.7 L326.9 168.4 L327.4 171.1 L327.9 173.8 L328.4 176.6 L328.9 179.3 L329.4 182.1 L329.9 184.8 L330.4 187.6 L330.9 190.3 L331.4 193.1 L331.9 195.8 L332.4 198.5 L332.9 201.2 L333.4 203.9 L333.9 206.6 L334.4 209.2 L334.9 211.9 L335.4 214.4 L335.9 217.0 L336.4 219.5 L336.9 222.0 L337.4 224.4 L337.9 226.8 L338.4 229.1 L338.9 231.4 L339.4 233.6 L339.9 235.8 L340.4 237.9 L340.9 239.9 L341.4 241.9 L341.9 243.8 L342.4 245.7 L342.9 247.4 L343.4 249.1 L343.9 250.7 L344.4 252.2 L344.9 253.7 L345.4 255.1 L345.9 256.3 L346.4 257.5 L346.9 258.6 L347.4 259.7 L347.9 260.6 L348.4 261.4 L348.9 262.2 L349.4 262.8 L349.9 263.4 L350.4 263.9 L350.9 264.3 L351.4 264.6 L351.9 264.8 L352.4 264.9 L352.9 265.0 L353.4 265.0 L353.9 264.9 L354.4 264.7 L354.9 264.4 L355.4 264.1 L355.9 263.6 L356.4 263.1 L356.9 262.5 L357.4 261.8 L357.9 261.0 L358.4 260.1 L358.9 259.1 L359.4 258.1 L359.9 256.9 L360.4 255.7 L360.9 254.4 L361.4 252.9 L361.9 251.5 L362.4 249.9 L362.9 248.2 L363.4 246.5 L363.9 244.7 L364.4 242.8 L364.9 240.9 L365.4 238.9 L365.9 236.8 L366.4 234.7 L366.9 232.5 L367.4 230.2 L367.9 227.9 L368.4 225.5 L368.9 223.1 L369.4 220.7 L369.9 218.2 L370.4 215.7 L370.9 213.1 L371.4 210.5 L371.9 207.9 L372.4 205.2 L372.9 202.5 L373.4 199.8 L373.9 197.1 L374.4 194.4 L374.9 191.6 L375.4 188.9 L375.9 186.1 L376.4 183.4 L376.9 180.6 L377.4 177.9 L377.9 175.1 L378.4 172.4 L378.9 169.7 L379.4 167.0 L379.9 164.3 L380.4 161.6 L380.9 159.0 L381.4 156.3 L381.9 153.7 L382.4 151.2 L382.9 148.6 L383.4 146.1 L383.9 143.6 L384.4 141.2 L384.9 138.8 L385.4 136.4 L385.9 134.1 L386.4 131.8 L386.9 129.5 L387.4 127.3 L387.9 125.2 L388.4 123.1 L388.9 121.0 L389.4 119.0 L389.9 117.0 L390.4 115.0 L390.9 113.1 L391.4 111.3 L391.9 109.5 L392.4 107.8 L392.9 106.1 L393.4 104.4 L393.9 102.8 L394.4 101.2 L394.9 99.7 L395.4 98.3 L395.9 96.8 L396.4 95.5 L396.9 94.1 L397.4 92.8 L397.9 91.6 L398.4 90.4 L398.9 89.2 L399.4 88.1 L399.9 87.0 L400.4 86.0 L400.9 85.0 L401.4 84.0 L401.9 83.1 L402.4 82.2 L402.9 81.4 L403.4 80.5 L403.9 79.8 L404.4 79.0 L404.9 78.3 L405.4 77.6 L405.9 76.9 L406.4 76.3 L406.9 75.7 L407.4 75.1 L407.9 74.6 L408.4 74.1 L408.9 73.6 L409.4 73.1 L409.9 72.7 L410.4 72.2 L410.9 71.8 L411.4 71.4 L411.9 71.1 L412.4 70.7 L412.9 70.4 L413.4 70.1 L413.9 69.8 L414.4 69.5 L414.9 69.2 L415.4 69.0 L415.9 68.7 L416.4 68.5 L416.9 68.3 L417.4 68.1 L417.9 67.9 L418.4 67.7 L418.9 67.6 L419.4 67.4 L419.9 67.2 L420.4 67.1 L420.9 67.0 L421.4 66.8 L421.9 66.7 L422.4 66.6 L422.9 66.5 L423.4 66.4 L423.9 66.3 L424.4 66.2 L424.9 66.1 L425.4 66.1 L425.9 66.0 L426.4 65.9 L426.9 65.8 L427.4 65.8 L427.9 65.7 L428.4 65.7 L428.9 65.6 L429.4 65.6 L429.9 65.5 L430.4 65.5 L430.9 65.4 L431.4 65.4 L431.9 65.4 L432.4 65.3 L432.9 65.3 L433.4 65.3 L433.9 65.2 L434.4 65.2 L434.9 65.2 L435.4 65.1 L435.9 65.1 L436.4 65.1 L436.9 65.1 L437.4 65.1 L437.9 65.0 L438.4 65.0 L438.9 65.0 L439.4 65.0 L439.9 65.0 L440.4 64.9 L440.9 64.9 L441.4 64.9 L441.9 64.9 L442.4 64.9 L442.9 64.9 L443.4 64.9 L443.9 64.8 L444.4 64.8 L444.9 64.8 L445.4 64.8 L445.9 64.8 L446.4 64.8 L446.9 64.8 L447.4 64.8 L447.9 64.8 L448.4 64.7 L448.9 64.7 L449.4 64.7 L449.9 64.7 L450.4 64.7 L450.9 64.7 L451.4 64.7 L451.9 64.7 L452.4 64.7 L452.9 64.7 L453.4 64.6 L453.9 64.6 L454.4 64.6 L454.9 64.6 L455.4 64.6 L455.9 64.6 L456.4 64.6 L456.9 64.6 L457.4 64.6 L457.9 64.6 L458.4 64.6 L458.9 64.6 L459.4 64.6 L459.9 64.5 L460.4 64.5 L460.9 64.5 L461.4 64.5 L461.9 64.5 L462.4 64.5 L462.9 64.5 L463.4 64.5 L463.9 64.5 L464.4 64.5 L464.9 64.5 L465.4 64.5 L465.9 64.5 L466.4 64.5 L466.9 64.5 L467.4 64.5 L467.9 64.5 L468.4 64.4 L468.9 64.4 L469.4 64.4 L469.9 64.4 L470.4 64.4 L470.9 64.4 L471.4 64.4 L471.9 64.4 L472.4 64.4 L472.9 64.4 L473.4 64.4 L473.9 64.4 L474.4 64.4 L474.9 64.4 L475.4 64.4 L475.9 64.4 L476.4 64.4 L476.9 64.4 L477.4 64.4 L477.9 64.3 L478.4 64.3 L478.9 64.3 L479.4 64.3 L479.9 64.3 L480.4 64.3 L480.9 64.3 L481.4 64.3 L481.9 64.3 L482.4 64.3 L482.9 64.3 L483.4 64.3 L483.9 64.3 L484.4 64.3 L484.9 64.3 L485.4 64.3 L485.9 64.3 L486.4 64.3 L486.9 64.3 L487.4 64.3 L487.9 64.3 L488.4 64.3 L488.9 64.3 L489.4 64.3 L489.9 64.3 L490.4 64.3 L490.9 64.2 L491.4 64.2 L491.9 64.2 L492.4 64.2 L492.9 64.2 L493.4 64.2 L493.9 64.2 L494.4 64.2 L494.9 64.2 L495.4 64.2 L495.9 64.2 L496.4 64.2 L496.9 64.2 L497.4 64.2 L497.9 64.2 L498.4 64.2 L498.9 64.2 L499.4 64.2 L499.9 64.2 L500.4 64.2 L500.9 64.2 L501.4 64.2 L501.9 64.2 L502.4 64.2 L502.9 64.2 L503.4 64.2 L503.9 64.2 L504.4 64.2 L504.9 64.2 L505.4 64.2 L505.9 64.2 L506.4 64.2 L506.9 64.2 L507.4 64.2 L507.9 64.1 L508.4 64.1 L508.9 64.1 L509.4 64.1 L509.9 64.1 L510.4 64.1 L510.9 64.1 L511.4 64.1 L511.9 64.1 L512.4 64.1 L512.9 64.1 L513.4 64.1 L513.9 64.1 L514.4 64.1 L514.9 64.1 L515.4 64.1 L515.9 64.1 L516.4 64.1 L516.9 64.1 L517.4 64.1 L517.9 64.1 L518.4 64.1 L518.9 64.1 L519.4 64.1 L519.9 64.1 L520.4 64.1 L520.9 64.1 L521.4 64.1 L521.9 64.1 L522.4 64.1 L522.9 64.1 L523.4 64.1 L523.9 64.1 L524.4 64.1 L524.9 64.1 L525.4 64.1 L525.9 64.1 L526.4 64.1 L526.9 64.1 L527.4 64.1 L527.9 64.1 L528.4 64.1 L528.9 64.1 L529.4 64.1 L529.9 64.1 L530.4 64.1 L530.9 64.1 L531.4 64.1 L531.9 64.1 L532.4 64.1 L532.9 64.0 L533.4 64.0 L533.9 64.0 L534.4 64.0 L534.9 64.0 L535.4 64.0 L535.9 64.0 L536.4 64.0 L536.9 64.0 L537.4 64.0 L537.9 64.0 L538.4 64.0 L538.9 64.0 L539.4 64.0 L539.9 64.0 L540.4 64.0 L540.9 64.0 L541.4 64.0 L541.9 64.0 L542.4 64.0 L542.9 64.0 L543.4 64.0 L543.9 64.0 L544.4 64.0 L544.9 64.0 L545.4 64.0 L545.9 64.0 L546.4 64.0 L546.9 64.0 L547.4 64.0 L547.9 64.0 L548.4 64.0 L548.9 64.0 L549.4 64.0 L549.9 64.0 L550.4 64.0 L550.9 64.0 L551.4 64.0 L551.9 64.0 L552.4 64.0 L552.9 64.0 L553.4 64.0 L553.9 64.0 L554.4 64.0 L554.9 64.0 L555.4 64.0 L555.9 64.0 L556.4 64.0 L556.9 64.0 L557.4 64.0 L557.9 64.0 L558.4 64.0 L558.9 64.0 L559.4 64.0 L559.9 64.0 L560.4 64.0 L560.9 64.0 L561.4 64.0 L561.9 64.0 L562.4 64.0 L562.9 64.0 L563.4 64.0 L563.9 64.0 L564.4 64.0 L564.9 64.0 L565.4 64.0 L565.9 64.0 L566.4 64.0 L566.9 64.0 L567.4 64.0 L567.9 64.0 L568.4 64.0 L568.9 64.0 L569.4 64.0 L569.9 64.0 L570.4 64.0 L570.9 64.0 L571.4 64.0 L571.9 64.0 L572.4 64.0 L572.9 64.0 L573.4 64.0 L573.9 64.0 L574.4 63.9 L574.9 63.9 L575.4 63.9 L575.9 63.9 L576.4 63.9 L576.9 63.9 L577.4 63.9 L577.9 63.9 L578.4 63.9 L578.9 63.9 L579.4 63.9 L579.9 63.9 L580.4 63.9 L580.9 63.9 L581.4 63.9 L581.9 63.9 L582.4 63.9 L582.9 63.9 L583.4 63.9 L583.9 63.9 L584.4 63.9 L584.9 63.9 L585.4 63.9 L585.9 63.9 L586.4 63.9 L586.9 63.9 L587.4 63.9 L587.9 63.9 L588.4 63.9 L588.9 63.9 L589.4 63.9 L589.9 63.9 L590.4 63.9 L590.9 63.9 L591.4 63.9 L591.9 63.9 L592.4 63.9 L592.9 63.8 L593.4 63.8 L593.9 63.8 L594.4 63.8 L594.9 63.8 L595.4 63.8 L595.9 63.8 L596.4 63.8 L596.9 63.8 L597.4 63.8 L597.9 63.8 L598.4 63.8 L598.9 63.8 L599.4 63.8 L599.9 63.8 L600.4 63.8 L600.9 63.8 L601.4 63.8 L601.9 63.8 L602.4 63.8 L602.9 63.8 L603.4 63.8 L603.9 63.8 L604.4 63.8 L604.9 63.8 L605.4 63.8 L605.9 63.8 L606.4 63.8 L606.9 63.8 L607.4 63.8 L607.9 63.9 L608.4 63.9 L608.9 63.9 L609.4 63.9 L609.9 63.9 L610.4 63.9 L610.9 63.9 L611.4 63.9 L611.9 63.9 L612.4 63.9 L612.9 63.9 L613.4 64.0 L613.9 64.0 L614.4 64.0 L614.9 64.0 L615.4 64.1 L615.9 64.1 L616.4 64.1 L616.9 64.2 L617.4 64.2 L617.9 64.2 L618.4 64.3 L618.9 64.3 L619.4 64.4 L619.9 64.4 L620.4 64.5 L620.9 64.5 L621.4 64.6 L621.9 64.6 L622.4 64.7 L622.9 64.7 L623.4 64.8 L623.9 64.8 L624.4 64.9 L624.9 65.0 L625.4 65.1 L625.9 65.1 L626.4 65.2 L626.9 65.3 L627.4 65.4 L627.9 65.5 L628.4 65.6 L628.9 65.7 L629.4 65.8 L629.9 66.0 L630.4 66.1 L630.9 66.2 L631.4 66.3 L631.9 66.5 L632.4 66.6 L632.9 66.7 L633.4 66.9 L633.9 67.1 L634.4 67.2 L634.9 67.4 L635.4 67.6 L635.9 67.8 L636.4 68.0 L636.9 68.3 L637.4 68.5 L637.9 68.7 L638.4 68.9 L638.9 69.2 L639.4 69.4 L639.9 69.7 L640.4 69.9 L640.9 70.2 L641.4 70.5 L641.9 70.9 L642.4 71.2 L642.9 71.5 L643.4 71.9 L643.9 72.2 L644.4 72.6 L644.9 73.0 L645.4 73.3 L645.9 73.7 L646.4 74.1 L646.9 74.5 L647.4 74.9 L647.9 75.3 L648.4 75.7 L648.9 76.1 L649.4 76.5 L649.9 76.9 L650.4 77.3 L650.9 77.7 L651.4 78.1 L651.9 78.5 L652.4 78.9 L652.9 79.3 L653.4 79.7 L653.9 80.1 L654.4 80.5 L654.9 80.9 L655.4 81.3 L655.9 81.7 L656.4 82.1 L656.9 82.5 L657.4 82.9 L657.9 83.4 L658.4 83.9 L658.9 84.4 L659.4 84.8 L659.9 85.3 L660.4 85.8 L660.9 86.2 L661.4 86.7 L661.9 87.1 L662.4 87.5 L662.9 87.9 L663.4 88.3 L663.9 88.6 L664.4 89.0 L664.9 89.4 L665.4 89.7 L665.9 90.1 L666.4 90.4 L666.9 90.7 L667.4 91.0 L667.9 91.3 L668.4 91.6 L668.9 91.9 L669.4 92.2 L669.9 92.5 L670.4 92.8 L670.9 93.0 L671.4 93.3 L671.9 93.5 L672.4 93.7 L672.9 93.9 L673.4 94.0 L673.9 94.2 L674.4 94.3 L674.9 94.5 L675.4 94.6 L675.9 94.7 L676.4 94.8 L676.9 94.9 L677.4 95.0 L677.9 95.1 L678.4 95.1 L678.9 95.1 L679.4 95.1 L679.9 95.1 L680.4 95.1 L680.9 95.1 L681.4 95.1 L681.9 95.1 L682.4 95.0 L682.9 95.0 L683.4 95.0 L683.9 94.9 L684.4 94.9 L684.9 94.8 L685.4 94.7 L685.9 94.6 L686.4 94.5 L686.9 94.3 L687.4 94.1 L687.9 93.9 L688.4 93.7 L688.9 93.5 L689.4 93.2 L689.9 93.0 L690.4 92.7 L690.9 92.4 L691.4 92.1 L691.9 91.7 L692.4 91.4 L692.9 91.0 L693.4 90.7 L693.9 90.3 L694.4 90.0 L694.9 89.6 L695.4 89.2 L695.9 88.9 L696.4 88.5 L696.9 88.2 L697.4 87.8 L697.9 87.4 L698.4 87.1 L698.9 86.7 L699.4 86.4 L699.9 86.1 L700.4 85.7 L700.9 85.4 L701.4 85.0 L701.9 84.7 L702.4 84.4 L702.9 84.0 L703.4 83.7 L703.9 83.3 L704.4 83.0 L704.9 82.6 L705.4 82.2 L705.9 81.8 L706.4 81.5 L706.9 81.1 L707.4 80.7 L707.9 80.3 L708.4 80.0 L708.9 79.7 L709.4 79.4 L709.9 79.1 L710.4 78.8 L710.9 78.6 L711.4 78.3 L711.9 78.1 L712.4 77.9 L712.9 77.6 L713.4 77.4 L713.9 77.2 L714.4 77.1 L714.9 76.9 L715.4 76.8 L715.9 76.6 L716.4 76.5 L716.9 76.4 L717.4 76.3 L717.9 76.2 L718.4 76.1 L718.9 76.0 L719.4 75.9 L719.9 75.9 L720.4 75.8 L720.9 75.7 L721.4 75.6 L721.9 75.6 L722.4 75.5 L722.9 75.4 L723.4 75.4 L723.9 75.3 L724.4 75.2 L724.9 75.2 L725.4 75.1 L725.9 75.1 L726.4 75.0 L726.9 75.0 L727.4 74.9 L727.9 74.9 L728.4 74.9 L728.9 74.8 L729.4 74.8 L729.9 74.7 L730.4 74.7 L730.9 74.7 L731.4 74.6 L731.9 74.6 L732.4 74.6 L732.9 74.5 L733.4 74.5 L733.9 74.5 L734.4 74.5 L734.9 74.4 L735.4 74.4 L735.9 74.4 L736.4 74.3 L736.9 74.3 L737.4 74.2 L737.9 74.2 L738.4 74.2 L738.9 74.1 L739.4 74.1 L739.9 74.0 L740.4 74.0 L740.9 74.0 L741.4 73.9 L741.9 73.9 L742.4 73.9 L742.9 73.8 L743.4 73.8 L743.9 73.7 L744.4 73.7 L744.9 73.6 L745.4 73.6 L745.9 73.5 L746.4 73.5 L746.9 73.4 L747.4 73.3 L747.9 73.3 L748.4 73.2 L748.9 73.1 L749.4 73.0 L749.9 72.9 L750.4 72.8 L750.9 72.7 L751.4 72.6 L751.9 72.5 L752.4 72.3 L752.9 72.2 L753.4 72.1 L753.9 72.0 L754.4 71.9 L754.9 71.7 L755.4 71.6" stroke="#00f" stroke-width="2.6" stroke-dasharray="2.6 3.4" fill="none"/>
<path d="M86.9 64.0 L87.4 64.0 L87.9 64.0 L88.4 64.0 L88.9 64.0 L89.4 64.0 L89.9 64.0 L90.4 64.0 L90.9 64.0 L91.4 64.0 L91.9 64.0 L92.4 64.0 L92.9 64.0 L93.4 64.0 L93.9 64.0 L94.4 64.0 L94.9 64.0 L95.4 64.0 L95.9 64.0 L96.4 64.0 L96.9 64.0 L97.4 64.0 L97.9 64.0 L98.4 64.0 L98.9 64.0 L99.4 64.0 L99.9 64.0 L100.4 64.0 L100.9 64.0 L101.4 64.0 L101.9 64.0 L102.4 64.0 L102.9 64.0 L103.4 64.0 L103.9 64.0 L104.4 64.0 L104.9 64.0 L105.4 64.0 L105.9 64.0 L106.4 64.0 L106.9 64.0 L107.4 64.0 L107.9 64.0 L108.4 64.0 L108.9 64.0 L109.4 64.0 L109.9 64.0 L110.4 64.0 L110.9 64.0 L111.4 64.0 L111.9 64.0 L112.4 64.0 L112.9 64.0 L113.4 64.0 L113.9 64.0 L114.4 64.0 L114.9 64.0 L115.4 64.0 L115.9 64.0 L116.4 64.0 L116.9 64.0 L117.4 64.0 L117.9 64.0 L118.4 64.0 L118.9 64.0 L119.4 64.0 L119.9 64.0 L120.4 64.0 L120.9 64.0 L121.4 64.0 L121.9 64.0 L122.4 64.0 L122.9 64.0 L123.4 64.0 L123.9 64.0 L124.4 64.0 L124.9 64.0 L125.4 64.0 L125.9 64.0 L126.4 64.0 L126.9 64.0 L127.4 64.0 L127.9 64.0 L128.4 64.0 L128.9 64.0 L129.4 64.0 L129.9 64.1 L130.4 64.1 L130.9 64.1 L131.4 64.1 L131.9 64.1 L132.4 64.1 L132.9 64.1 L133.4 64.1 L133.9 64.1 L134.4 64.1 L134.9 64.1 L135.4 64.1 L135.9 64.1 L136.4 64.1 L136.9 64.1 L137.4 64.1 L137.9 64.1 L138.4 64.1 L138.9 64.1 L139.4 64.1 L139.9 64.1 L140.4 64.1 L140.9 64.1 L141.4 64.1 L141.9 64.1 L142.4 64.1 L142.9 64.1 L143.4 64.1 L143.9 64.1 L144.4 64.1 L144.9 64.1 L145.4 64.1 L145.9 64.1 L146.4 64.1 L146.9 64.1 L147.4 64.1 L147.9 64.1 L148.4 64.1 L148.9 64.1 L149.4 64.1 L149.9 64.1 L150.4 64.1 L150.9 64.1 L151.4 64.1 L151.9 64.1 L152.4 64.1 L152.9 64.1 L153.4 64.1 L153.9 64.1 L154.4 64.1 L154.9 64.1 L155.4 64.1 L155.9 64.1 L156.4 64.1 L156.9 64.1 L157.4 64.1 L157.9 64.1 L158.4 64.1 L158.9 64.1 L159.4 64.1 L159.9 64.1 L160.4 64.2 L160.9 64.2 L161.4 64.2 L161.9 64.2 L162.4 64.2 L162.9 64.2 L163.4 64.2 L163.9 64.2 L164.4 64.2 L164.9 64.2 L165.4 64.2 L165.9 64.2 L166.4 64.2 L166.9 64.2 L167.4 64.2 L167.9 64.2 L168.4 64.2 L168.9 64.2 L169.4 64.2 L169.9 64.2 L170.4 64.2 L170.9 64.2 L171.4 64.2 L171.9 64.2 L172.4 64.2 L172.9 64.2 L173.4 64.2 L173.9 64.2 L174.4 64.2 L174.9 64.2 L175.4 64.2 L175.9 64.2 L176.4 64.2 L176.9 64.2 L177.4 64.2 L177.9 64.2 L178.4 64.2 L178.9 64.2 L179.4 64.2 L179.9 64.2 L180.4 64.2 L180.9 64.2 L181.4 64.3 L181.9 64.3 L182.4 64.3 L182.9 64.3 L183.4 64.3 L183.9 64.3 L184.4 64.3 L184.9 64.3 L185.4 64.3 L185.9 64.3 L186.4 64.3 L186.9 64.3 L187.4 64.3 L187.9 64.3 L188.4 64.3 L188.9 64.3 L189.4 64.3 L189.9 64.3 L190.4 64.3 L190.9 64.3 L191.4 64.3 L191.9 64.3 L192.4 64.3 L192.9 64.3 L193.4 64.3 L193.9 64.3 L194.4 64.3 L194.9 64.3 L195.4 64.3 L195.9 64.3 L196.4 64.3 L196.9 64.4 L197.4 64.4 L197.9 64.4 L198.4 64.4 L198.9 64.4 L199.4 64.4 L199.9 64.4 L200.4 64.4 L200.9 64.4 L201.4 64.4 L201.9 64.4 L202.4 64.4 L202.9 64.4 L203.4 64.4 L203.9 64.4 L204.4 64.4 L204.9 64.4 L205.4 64.4 L205.9 64.4 L206.4 64.4 L206.9 64.4 L207.4 64.4 L207.9 64.4 L208.4 64.4 L208.9 64.5 L209.4 64.5 L209.9 64.5 L210.4 64.5 L210.9 64.5 L211.4 64.5 L211.9 64.5 L212.4 64.5 L212.9 64.5 L213.4 64.5 L213.9 64.5 L214.4 64.5 L214.9 64.5 L215.4 64.5 L215.9 64.5 L216.4 64.5 L216.9 64.5 L217.4 64.5 L217.9 64.5 L218.4 64.5 L218.9 64.6 L219.4 64.6 L219.9 64.6 L220.4 64.6 L220.9 64.6 L221.4 64.6 L221.9 64.6 L222.4 64.6 L222.9 64.6 L223.4 64.6 L223.9 64.6 L224.4 64.6 L224.9 64.6 L225.4 64.6 L225.9 64.6 L226.4 64.6 L226.9 64.7 L227.4 64.7 L227.9 64.7 L228.4 64.7 L228.9 64.7 L229.4 64.7 L229.9 64.7 L230.4 64.7 L230.9 64.7 L231.4 64.7 L231.9 64.7 L232.4 64.7 L232.9 64.7 L233.4 64.7 L233.9 64.8 L234.4 64.8 L234.9 64.8 L235.4 64.8 L235.9 64.8 L236.4 64.8 L236.9 64.8 L237.4 64.8 L237.9 64.8 L238.4 64.8 L238.9 64.8 L239.4 64.8 L239.9 64.9 L240.4 64.9 L240.9 64.9 L241.4 64.9 L241.9 64.9 L242.4 64.9 L242.9 64.9 L243.4 64.9 L243.9 64.9 L244.4 64.9 L244.9 65.0 L245.4 65.0 L245.9 65.0 L246.4 65.0 L246.9 65.0 L247.4 65.0 L247.9 65.0 L248.4 65.0 L248.9 65.1 L249.4 65.1 L249.9 65.1 L250.4 65.1 L250.9 65.1 L251.4 65.1 L251.9 65.1 L252.4 65.2 L252.9 65.2 L253.4 65.2 L253.9 65.2 L254.4 65.2 L254.9 65.2 L255.4 65.3 L255.9 65.3 L256.4 65.3 L256.9 65.3 L257.4 65.3 L257.9 65.4 L258.4 65.4 L258.9 65.4 L259.4 65.4 L259.9 65.5 L260.4 65.5 L260.9 65.5 L261.4 65.5 L261.9 65.6 L262.4 65.6 L262.9 65.6 L263.4 65.7 L263.9 65.7 L264.4 65.7 L264.9 65.8 L265.4 65.8 L265.9 65.9 L266.4 65.9 L266.9 65.9 L267.4 66.0 L267.9 66.0 L268.4 66.1 L268.9 66.2 L269.4 66.2 L269.9 66.3 L270.4 66.3 L270.9 66.4 L271.4 66.5 L271.9 66.6 L272.4 66.6 L272.9 66.7 L273.4 66.8 L273.9 66.9 L274.4 67.0 L274.9 67.1 L275.4 67.2 L275.9 67.3 L276.4 67.5 L276.9 67.6 L277.4 67.7 L277.9 67.9 L278.4 68.0 L278.9 68.2 L279.4 68.3 L279.9 68.5 L280.4 68.7 L280.9 68.9 L281.4 69.1 L281.9 69.3 L282.4 69.5 L282.9 69.7 L283.4 70.0 L283.9 70.2 L284.4 70.5 L284.9 70.8 L285.4 71.1 L285.9 71.4 L286.4 71.7 L286.9 72.0 L287.4 72.4 L287.9 72.8 L288.4 73.1 L288.9 73.6 L289.4 74.0 L289.9 74.4 L290.4 74.9 L290.9 75.4 L291.4 75.9 L291.9 76.4 L292.4 77.0 L292.9 77.5 L293.4 78.1 L293.9 78.7 L294.4 79.4 L294.9 80.1 L295.4 80.8 L295.9 81.5 L296.4 82.3 L296.9 83.0 L297.4 83.9 L297.9 84.7 L298.4 85.6 L298.9 86.5 L299.4 87.5 L299.9 88.4 L300.4 89.5 L300.9 90.5 L301.4 91.6 L301.9 92.7 L302.4 93.9 L302.9 95.1 L303.4 96.3 L303.9 97.6 L304.4 98.9 L304.9 100.3 L305.4 101.7 L305.9 103.1 L306.4 104.6 L306.9 106.1 L307.4 107.7 L307.9 109.3 L308.4 111.0 L308.9 112.7 L309.4 114.4 L309.9 116.2 L310.4 118.0 L310.9 119.9 L311.4 121.8 L311.9 123.8 L312.4 125.8 L312.9 127.9 L313.4 130.0 L313.9 132.1 L314.4 134.3 L314.9 136.5 L315.4 138.8 L315.9 141.1 L316.4 143.5 L316.9 145.9 L317.4 148.3 L317.9 150.8 L318.4 153.3 L318.9 155.8 L319.4 158.4 L319.9 161.1 L320.4 163.7 L320.9 166.4 L321.4 169.1 L321.9 171.9 L322.4 174.6 L322.9 177.4 L323.4 180.3 L323.9 183.1 L324.4 186.0 L324.9 188.9 L325.4 191.8 L325.9 194.7 L326.4 197.6 L326.9 200.6 L327.4 203.5 L327.9 206.5 L328.4 209.4 L328.9 212.4 L329.4 215.4 L329.9 218.3 L330.4 221.3 L330.9 224.2 L331.4 227.2 L331.9 230.1 L332.4 233.0 L332.9 235.9 L333.4 238.7 L333.9 241.6 L334.4 244.4 L334.9 247.2 L335.4 249.9 L335.9 252.6 L336.4 255.3 L336.9 257.9 L337.4 260.5 L337.9 263.1 L338.4 265.5 L338.9 268.0 L339.4 270.4 L339.9 272.7 L340.4 274.9 L340.9 277.1 L341.4 279.3 L341.9 281.3 L342.4 283.3 L342.9 285.3 L343.4 287.1 L343.9 288.9 L344.4 290.6 L344.9 292.2 L345.4 293.7 L345.9 295.2 L346.4 296.5 L346.9 297.8 L347.4 299.0 L347.9 300.1 L348.4 301.1 L348.9 302.0 L349.4 302.8 L349.9 303.5 L350.4 304.2 L350.9 304.7 L351.4 305.1 L351.9 305.5 L352.4 305.7 L352.9 305.9 L353.4 306.0 L353.9 305.9 L354.4 305.8 L354.9 305.6 L355.4 305.3 L355.9 305.0 L356.4 304.5 L356.9 303.9 L357.4 303.2 L357.9 302.5 L358.4 301.6 L358.9 300.6 L359.4 299.6 L359.9 298.5 L360.4 297.2 L360.9 295.9 L361.4 294.5 L361.9 293.0 L362.4 291.5 L362.9 289.8 L363.4 288.1 L363.9 286.3 L364.4 284.4 L364.9 282.4 L365.4 280.4 L365.9 278.3 L366.4 276.2 L366.9 273.9 L367.4 271.6 L367.9 269.3 L368.4 266.9 L368.9 264.4 L369.4 261.9 L369.9 259.3 L370.4 256.7 L370.9 254.1 L371.4 251.4 L371.9 248.7 L372.4 245.9 L372.9 243.1 L373.4 240.3 L373.9 237.4 L374.4 234.6 L374.9 231.7 L375.4 228.8 L375.9 225.8 L376.4 222.9 L376.9 219.9 L377.4 217.0 L377.9 214.0 L378.4 211.1 L378.9 208.1 L379.4 205.1 L379.9 202.2 L380.4 199.2 L380.9 196.3 L381.4 193.4 L381.9 190.4 L382.4 187.5 L382.9 184.7 L383.4 181.8 L383.9 179.0 L384.4 176.2 L384.9 173.4 L385.4 170.6 L385.9 167.9 L386.4 165.2 L386.9 162.5 L387.4 159.9 L387.9 157.3 L388.4 154.7 L388.9 152.2 L389.4 149.7 L389.9 147.2 L390.4 144.8 L390.9 142.4 L391.4 140.1 L391.9 137.8 L392.4 135.5 L392.9 133.3 L393.4 131.1 L393.9 129.0 L394.4 126.9 L394.9 124.9 L395.4 122.9 L395.9 121.0 L396.4 119.1 L396.9 117.2 L397.4 115.4 L397.9 113.6 L398.4 111.9 L398.9 110.2 L399.4 108.6 L399.9 107.0 L400.4 105.4 L400.9 103.9 L401.4 102.5 L401.9 101.0 L402.4 99.7 L402.9 98.3 L403.4 97.0 L403.9 95.7 L404.4 94.5 L404.9 93.3 L405.4 92.2 L405.9 91.1 L406.4 90.0 L406.9 89.0 L407.4 88.0 L407.9 87.0 L408.4 86.1 L408.9 85.2 L409.4 84.3 L409.9 83.5 L410.4 82.7 L410.9 81.9 L411.4 81.2 L411.9 80.4 L412.4 79.8 L412.9 79.1 L413.4 78.5 L413.9 77.8 L414.4 77.3 L414.9 76.7 L415.4 76.2 L415.9 75.6 L416.4 75.1 L416.9 74.7 L417.4 74.2 L417.9 73.8 L418.4 73.4 L418.9 73.0 L419.4 72.6 L419.9 72.2 L420.4 71.9 L420.9 71.5 L421.4 71.2 L421.9 70.9 L422.4 70.6 L422.9 70.4 L423.4 70.1 L423.9 69.9 L424.4 69.6 L424.9 69.4 L425.4 69.2 L425.9 69.0 L426.4 68.8 L426.9 68.6 L427.4 68.4 L427.9 68.2 L428.4 68.1 L428.9 67.9 L429.4 67.8 L429.9 67.7 L430.4 67.5 L430.9 67.4 L431.4 67.3 L431.9 67.2 L432.4 67.1 L432.9 67.0 L433.4 66.9 L433.9 66.8 L434.4 66.7 L434.9 66.6 L435.4 66.5 L435.9 66.4 L436.4 66.4 L436.9 66.3 L437.4 66.2 L437.9 66.2 L438.4 66.1 L438.9 66.1 L439.4 66.0 L439.9 66.0 L440.4 65.9 L440.9 65.9 L441.4 65.8 L441.9 65.8 L442.4 65.8 L442.9 65.7 L443.4 65.7 L443.9 65.6 L444.4 65.6 L444.9 65.6 L445.4 65.5 L445.9 65.5 L446.4 65.5 L446.9 65.5 L447.4 65.4 L447.9 65.4 L448.4 65.4 L448.9 65.4 L449.4 65.3 L449.9 65.3 L450.4 65.3 L450.9 65.3 L451.4 65.3 L451.9 65.2 L452.4 65.2 L452.9 65.2 L453.4 65.2 L453.9 65.2 L454.4 65.2 L454.9 65.1 L455.4 65.1 L455.9 65.1 L456.4 65.1 L456.9 65.1 L457.4 65.1 L457.9 65.1 L458.4 65.0 L458.9 65.0 L459.4 65.0 L459.9 65.0 L460.4 65.0 L460.9 65.0 L461.4 65.0 L461.9 65.0 L462.4 65.0 L462.9 64.9 L463.4 64.9 L463.9 64.9 L464.4 64.9 L464.9 64.9 L465.4 64.9 L465.9 64.9 L466.4 64.9 L466.9 64.9 L467.4 64.9 L467.9 64.8 L468.4 64.8 L468.9 64.8 L469.4 64.8 L469.9 64.8 L470.4 64.8 L470.9 64.8 L471.4 64.8 L471.9 64.8 L472.4 64.8 L472.9 64.8 L473.4 64.7 L473.9 64.7 L474.4 64.7 L474.9 64.7 L475.4 64.7 L475.9 64.7 L476.4 64.7 L476.9 64.7 L477.4 64.7 L477.9 64.7 L478.4 64.7 L478.9 64.7 L479.4 64.7 L479.9 64.7 L480.4 64.6 L480.9 64.6 L481.4 64.6 L481.9 64.6 L482.4 64.6 L482.9 64.6 L483.4 64.6 L483.9 64.6 L484.4 64.6 L484.9 64.6 L485.4 64.6 L485.9 64.6 L486.4 64.6 L486.9 64.6 L487.4 64.6 L487.9 64.6 L488.4 64.5 L488.9 64.5 L489.4 64.5 L489.9 64.5 L490.4 64.5 L490.9 64.5 L491.4 64.5 L491.9 64.5 L492.4 64.5 L492.9 64.5 L493.4 64.5 L493.9 64.5 L494.4 64.5 L494.9 64.5 L495.4 64.5 L495.9 64.5 L496.4 64.5 L496.9 64.5 L497.4 64.5 L497.9 64.5 L498.4 64.4 L498.9 64.4 L499.4 64.4 L499.9 64.4 L500.4 64.4 L500.9 64.4 L501.4 64.4 L501.9 64.4 L502.4 64.4 L502.9 64.4 L503.4 64.4 L503.9 64.4 L504.4 64.4 L504.9 64.4 L505.4 64.4 L505.9 64.4 L506.4 64.4 L506.9 64.4 L507.4 64.4 L507.9 64.4 L508.4 64.4 L508.9 64.4 L509.4 64.4 L509.9 64.4 L510.4 64.3 L510.9 64.3 L511.4 64.3 L511.9 64.3 L512.4 64.3 L512.9 64.3 L513.4 64.3 L513.9 64.3 L514.4 64.3 L514.9 64.3 L515.4 64.3 L515.9 64.3 L516.4 64.3 L516.9 64.3 L517.4 64.3 L517.9 64.3 L518.4 64.3 L518.9 64.3 L519.4 64.3 L519.9 64.3 L520.4 64.3 L520.9 64.3 L521.4 64.3 L521.9 64.3 L522.4 64.3 L522.9 64.3 L523.4 64.3 L523.9 64.3 L524.4 64.3 L524.9 64.3 L525.4 64.3 L525.9 64.2 L526.4 64.2 L526.9 64.2 L527.4 64.2 L527.9 64.2 L528.4 64.2 L528.9 64.2 L529.4 64.2 L529.9 64.2 L530.4 64.2 L530.9 64.2 L531.4 64.2 L531.9 64.2 L532.4 64.2 L532.9 64.2 L533.4 64.2 L533.9 64.2 L534.4 64.2 L534.9 64.2 L535.4 64.2 L535.9 64.2 L536.4 64.2 L536.9 64.2 L537.4 64.2 L537.9 64.2 L538.4 64.2 L538.9 64.2 L539.4 64.2 L539.9 64.2 L540.4 64.2 L540.9 64.2 L541.4 64.2 L541.9 64.2 L542.4 64.2 L542.9 64.2 L543.4 64.2 L543.9 64.2 L544.4 64.2 L544.9 64.2 L545.4 64.2 L545.9 64.2 L546.4 64.2 L546.9 64.1 L547.4 64.1 L547.9 64.1 L548.4 64.1 L548.9 64.1 L549.4 64.1 L549.9 64.1 L550.4 64.1 L550.9 64.1 L551.4 64.1 L551.9 64.1 L552.4 64.1 L552.9 64.1 L553.4 64.1 L553.9 64.1 L554.4 64.1 L554.9 64.1 L555.4 64.1 L555.9 64.1 L556.4 64.1 L556.9 64.1 L557.4 64.1 L557.9 64.1 L558.4 64.1 L558.9 64.1 L559.4 64.1 L559.9 64.1 L560.4 64.1 L560.9 64.1 L561.4 64.1 L561.9 64.1 L562.4 64.1 L562.9 64.1 L563.4 64.1 L563.9 64.1 L564.4 64.1 L564.9 64.1 L565.4 64.1 L565.9 64.1 L566.4 64.1 L566.9 64.1 L567.4 64.1 L567.9 64.1 L568.4 64.1 L568.9 64.1 L569.4 64.1 L569.9 64.1 L570.4 64.1 L570.9 64.1 L571.4 64.1 L571.9 64.1 L572.4 64.1 L572.9 64.1 L573.4 64.1 L573.9 64.1 L574.4 64.1 L574.9 64.1 L575.4 64.1 L575.9 64.1 L576.4 64.1 L576.9 64.1 L577.4 64.1 L577.9 64.0 L578.4 64.0 L578.9 64.0 L579.4 64.0 L579.9 64.0 L580.4 64.0 L580.9 64.0 L581.4 64.0 L581.9 64.0 L582.4 64.0 L582.9 64.0 L583.4 64.0 L583.9 64.0 L584.4 64.0 L584.9 64.0 L585.4 64.0 L585.9 64.0 L586.4 64.0 L586.9 64.0 L587.4 64.0 L587.9 64.0 L588.4 64.0 L588.9 64.0 L589.4 64.0 L589.9 64.0 L590.4 64.0 L590.9 64.0 L591.4 64.0 L591.9 64.0 L592.4 63.9 L592.9 63.9 L593.4 63.9 L593.9 63.9 L594.4 63.9 L594.9 63.9 L595.4 63.9 L595.9 63.9 L596.4 63.9 L596.9 63.9 L597.4 63.9 L597.9 63.9 L598.4 63.9 L598.9 63.9 L599.4 63.9 L599.9 63.9 L600.4 63.9 L600.9 63.9 L601.4 63.9 L601.9 63.9 L602.4 63.9 L602.9 63.9 L603.4 63.9 L603.9 63.9 L604.4 63.9 L604.9 63.9 L605.4 63.9 L605.9 63.9 L606.4 63.9 L606.9 63.9 L607.4 63.9 L607.9 63.9 L608.4 63.9 L608.9 63.9 L609.4 64.0 L609.9 64.0 L610.4 64.0 L610.9 64.0 L611.4 64.0 L611.9 64.0 L612.4 64.0 L612.9 64.0 L613.4 64.0 L613.9 64.1 L614.4 64.1 L614.9 64.1 L615.4 64.1 L615.9 64.2 L616.4 64.2 L616.9 64.2 L617.4 64.3 L617.9 64.3 L618.4 64.4 L618.9 64.4 L619.4 64.4 L619.9 64.5 L620.4 64.5 L620.9 64.6 L621.4 64.6 L621.9 64.7 L622.4 64.7 L622.9 64.8 L623.4 64.8 L623.9 64.9 L624.4 65.0 L624.9 65.1 L625.4 65.1 L625.9 65.2 L626.4 65.3 L626.9 65.4 L627.4 65.5 L627.9 65.6 L628.4 65.7 L628.9 65.8 L629.4 65.9 L629.9 66.0 L630.4 66.1 L630.9 66.3 L631.4 66.4 L631.9 66.5 L632.4 66.7 L632.9 66.8 L633.4 67.0 L633.9 67.1 L634.4 67.3 L634.9 67.5 L635.4 67.7 L635.9 67.9 L636.4 68.1 L636.9 68.3 L637.4 68.5 L637.9 68.8 L638.4 69.0 L638.9 69.2 L639.4 69.5 L639.9 69.7 L640.4 70.0 L640.9 70.3 L641.4 70.6 L641.9 70.9 L642.4 71.3 L642.9 71.6 L643.4 71.9 L643.9 72.3 L644.4 72.7 L644.9 73.0 L645.4 73.4 L645.9 73.7 L646.4 74.1 L646.9 74.5 L647.4 74.9 L647.9 75.3 L648.4 75.8 L648.9 76.2 L649.4 76.6 L649.9 77.0 L650.4 77.4 L650.9 77.8 L651.4 78.2 L651.9 78.6 L652.4 79.0 L652.9 79.4 L653.4 79.7 L653.9 80.1 L654.4 80.5 L654.9 80.9 L655.4 81.3 L655.9 81.7 L656.4 82.1 L656.9 82.6 L657.4 83.0 L657.9 83.5 L658.4 83.9 L658.9 84.4 L659.4 84.9 L659.9 85.4 L660.4 85.8 L660.9 86.3 L661.4 86.7 L661.9 87.1 L662.4 87.5 L662.9 87.9 L663.4 88.3 L663.9 88.7 L664.4 89.1 L664.9 89.4 L665.4 89.8 L665.9 90.1 L666.4 90.4 L666.9 90.8 L667.4 91.1 L667.9 91.4 L668.4 91.7 L668.9 92.0 L669.4 92.2 L669.9 92.5 L670.4 92.8 L670.9 93.1 L671.4 93.3 L671.9 93.5 L672.4 93.8 L672.9 93.9 L673.4 94.1 L673.9 94.2 L674.4 94.4 L674.9 94.5 L675.4 94.7 L675.9 94.8 L676.4 94.9 L676.9 95.0 L677.4 95.1 L677.9 95.1 L678.4 95.2 L678.9 95.2 L679.4 95.2 L679.9 95.2 L680.4 95.2 L680.9 95.2 L681.4 95.1 L681.9 95.1 L682.4 95.1 L682.9 95.0 L683.4 95.0 L683.9 95.0 L684.4 94.9 L684.9 94.9 L685.4 94.8 L685.9 94.7 L686.4 94.5 L686.9 94.4 L687.4 94.2 L687.9 94.0 L688.4 93.7 L688.9 93.5 L689.4 93.3 L689.9 93.0 L690.4 92.8 L690.9 92.5 L691.4 92.1 L691.9 91.8 L692.4 91.4 L692.9 91.1 L693.4 90.7 L693.9 90.4 L694.4 90.0 L694.9 89.7 L695.4 89.3 L695.9 88.9 L696.4 88.6 L696.9 88.2 L697.4 87.8 L697.9 87.5 L698.4 87.1 L698.9 86.8 L699.4 86.4 L699.9 86.1 L700.4 85.8 L700.9 85.4 L701.4 85.1 L701.9 84.7 L702.4 84.4 L702.9 84.1 L703.4 83.7 L703.9 83.4 L704.4 83.0 L704.9 82.6 L705.4 82.3 L705.9 81.9 L706.4 81.5 L706.9 81.1 L707.4 80.7 L707.9 80.4 L708.4 80.0 L708.9 79.7 L709.4 79.4 L709.9 79.2 L710.4 78.9 L710.9 78.6 L711.4 78.4 L711.9 78.1 L712.4 77.9 L712.9 77.7 L713.4 77.5 L713.9 77.3 L714.4 77.1 L714.9 77.0 L715.4 76.8 L715.9 76.7 L716.4 76.6 L716.9 76.5 L717.4 76.3 L717.9 76.2 L718.4 76.2 L718.9 76.1 L719.4 76.0 L719.9 75.9 L720.4 75.8 L720.9 75.7 L721.4 75.7 L721.9 75.6 L722.4 75.5 L722.9 75.5 L723.4 75.4 L723.9 75.3 L724.4 75.3 L724.9 75.2 L725.4 75.2 L725.9 75.1 L726.4 75.1 L726.9 75.0 L727.4 75.0 L727.9 74.9 L728.4 74.9 L728.9 74.9 L729.4 74.8 L729.9 74.8 L730.4 74.7 L730.9 74.7 L731.4 74.7 L731.9 74.6 L732.4 74.6 L732.9 74.6 L733.4 74.6 L733.9 74.5 L734.4 74.5 L734.9 74.5 L735.4 74.4 L735.9 74.4 L736.4 74.4 L736.9 74.3 L737.4 74.3 L737.9 74.2 L738.4 74.2 L738.9 74.2 L739.4 74.1 L739.9 74.1 L740.4 74.0 L740.9 74.0 L741.4 74.0 L741.9 73.9 L742.4 73.9 L742.9 73.8 L743.4 73.8 L743.9 73.8 L744.4 73.7 L744.9 73.7 L745.4 73.6 L745.9 73.6 L746.4 73.5 L746.9 73.4 L747.4 73.4 L747.9 73.3 L748.4 73.2 L748.9 73.1 L749.4 73.0 L749.9 72.9 L750.4 72.8 L750.9 72.7 L751.4 72.6 L751.9 72.5 L752.4 72.4 L752.9 72.3 L753.4 72.1 L753.9 72.0 L754.4 71.9 L754.9 71.8 L755.4 71.6" stroke="#f00" stroke-width="2.8" fill="none" stroke-linejoin="round"/>
</g>
<path d="M189.7 335.0v-11.3M189.7 43.4v11.3M292.6 335.0v-11.3M292.6 43.4v11.3M395.4 335.0v-11.3M395.4 43.4v11.3M498.3 335.0v-11.3M498.3 43.4v11.3M601.1 335.0v-11.3M601.1 43.4v11.3M704.0 335.0v-11.3M704.0 43.4v11.3M86.9 296.1h11.3M755.4 296.1h-11.3M86.9 257.2h11.3M755.4 257.2h-11.3M86.9 218.4h11.3M755.4 218.4h-11.3M86.9 179.5h11.3M755.4 179.5h-11.3M86.9 140.6h11.3M755.4 140.6h-11.3M86.9 101.7h11.3M755.4 101.7h-11.3M86.9 62.8h11.3M755.4 62.8h-11.3" stroke="#000" stroke-width="1.5" fill="none"/>
<rect x="86.9" y="43.4" width="668.5" height="291.6" fill="none" stroke="#000" stroke-width="1.5"/>
<text x="83.9" y="363.6" text-anchor="middle" font-family="Liberation Sans, sans-serif" font-size="18.3" fill="#000">4077.2</text>
<text x="186.7" y="363.6" text-anchor="middle" font-family="Liberation Sans, sans-serif" font-size="18.3" fill="#000">4077.4</text>
<text x="289.6" y="363.6" text-anchor="middle" font-family="Liberation Sans, sans-serif" font-size="18.3" fill="#000">4077.6</text>
<text x="392.4" y="363.6" text-anchor="middle" font-family="Liberation Sans, sans-serif" font-size="18.3" fill="#000">4077.8</text>
<text x="495.3" y="363.6" text-anchor="middle" font-family="Liberation Sans, sans-serif" font-size="18.3" fill="#000">4078</text>
<text x="598.1" y="363.6" text-anchor="middle" font-family="Liberation Sans, sans-serif" font-size="18.3" fill="#000">4078.2</text>
<text x="701.0" y="363.6" text-anchor="middle" font-family="Liberation Sans, sans-serif" font-size="18.3" fill="#000">4078.4</text>
<text x="71.6" y="344.4" text-anchor="end" font-family="Liberation Sans, sans-serif" font-size="18.3" fill="#000">0.3</text>
<text x="71.6" y="305.5" text-anchor="end" font-family="Liberation Sans, sans-serif" font-size="18.3" fill="#000">0.4</text>
<text x="71.6" y="266.6" text-anchor="end" font-family="Liberation Sans, sans-serif" font-size="18.3" fill="#000">0.5</text>
<text x="71.6" y="227.8" text-anchor="end" font-family="Liberation Sans, sans-serif" font-size="18.3" fill="#000">0.6</text>
<text x="71.6" y="188.9" text-anchor="end" font-family="Liberation Sans, sans-serif" font-size="18.3" fill="#000">0.7</text>
<text x="71.6" y="150.0" text-anchor="end" font-family="Liberation Sans, sans-serif" font-size="18.3" fill="#000">0.8</text>
<text x="71.6" y="111.1" text-anchor="end" font-family="Liberation Sans, sans-serif" font-size="18.3" fill="#000">0.9</text>
<text x="71.6" y="72.2" text-anchor="end" font-family="Liberation Sans, sans-serif" font-size="18.3" fill="#000">1.0</text>
<g clip-path="url(#c2)">
<path d="M86.9 430.1H755.4" stroke="#000" stroke-width="2.4" stroke-dasharray="2.4 3.6" stroke-dashoffset="0.4" fill="none"/>
<path d="M80.4 481.8l13.0 13.0M80.4 494.8l13.0 -13.0M87.1 491.5l13.0 13.0M87.1 504.5l13.0 -13.0M93.8 498.0l13.0 13.0M93.8 511.0l13.0 -13.0M100.5 504.9l13.0 13.0M100.5 517.9l13.0 -13.0M107.2 504.3l13.0 13.0M107.2 517.3l13.0 -13.0M113.9 504.3l13.0 13.0M113.9 517.3l13.0 -13.0M120.5 499.3l13.0 13.0M120.5 512.3l13.0 -13.0M127.2 483.3l13.0 13.0M127.2 496.3l13.0 -13.0M133.9 471.1l13.0 13.0M133.9 484.1l13.0 -13.0M140.6 477.3l13.0 13.0M140.6 490.3l13.0 -13.0M147.3 472.2l13.0 13.0M147.3 485.2l13.0 -13.0M154.0 477.3l13.0 13.0M154.0 490.3l13.0 -13.0M160.7 466.7l13.0 13.0M160.7 479.7l13.0 -13.0M167.4 462.5l13.0 13.0M167.4 475.5l13.0 -13.0M174.1 459.7l13.0 13.0M174.1 472.7l13.0 -13.0M180.8 457.9l13.0 13.0M180.8 470.9l13.0 -13.0M187.4 471.1l13.0 13.0M187.4 484.1l13.0 -13.0M194.1 470.8l13.0 13.0M194.1 483.8l13.0 -13.0M200.8 458.5l13.0 13.0M200.8 471.5l13.0 -13.0M207.5 457.2l13.0 13.0M207.5 470.2l13.0 -13.0M214.2 462.4l13.0 13.0M214.2 475.4l13.0 -13.0M220.9 454.1l13.0 13.0M220.9 467.1l13.0 -13.0M227.6 455.8l13.0 13.0M227.6 468.8l13.0 -13.0M234.3 461.5l13.0 13.0M234.3 474.5l13.0 -13.0M241.0 461.1l13.0 13.0M241.0 474.1l13.0 -13.0M247.7 473.5l13.0 13.0M247.7 486.5l13.0 -13.0M254.3 467.3l13.0 13.0M254.3 480.3l13.0 -13.0M261.0 464.6l13.0 13.0M261.0 477.6l13.0 -13.0M267.7 462.0l13.0 13.0M267.7 475.0l13.0 -13.0M274.4 463.3l13.0 13.0M274.4 476.3l13.0 -13.0M281.1 445.2l13.0 13.0M281.1 458.2l13.0 -13.0M287.8 463.7l13.0 13.0M287.8 476.7l13.0 -13.0M294.5 470.3l13.0 13.0M294.5 483.3l13.0 -13.0M301.2 495.5l13.0 13.0M301.2 508.5l13.0 -13.0M307.9 525.8l13.0 13.0M307.9 538.8l13.0 -13.0M314.6 552.0l13.0 13.0M314.6 565.0l13.0 -13.0M321.2 572.4l13.0 13.0M321.2 585.4l13.0 -13.0M327.9 564.3l13.0 13.0M327.9 577.3l13.0 -13.0M334.6 533.5l13.0 13.0M334.6 546.5l13.0 -13.0M341.3 505.0l13.0 13.0M341.3 518.0l13.0 -13.0M348.0 488.5l13.0 13.0M348.0 501.5l13.0 -13.0M354.7 473.0l13.0 13.0M354.7 486.0l13.0 -13.0M361.4 463.8l13.0 13.0M361.4 476.8l13.0 -13.0M368.1 452.5l13.0 13.0M368.1 465.5l13.0 -13.0M374.8 463.3l13.0 13.0M374.8 476.3l13.0 -13.0M381.5 457.2l13.0 13.0M381.5 470.2l13.0 -13.0M388.1 451.9l13.0 13.0M388.1 464.9l13.0 -13.0M394.8 452.0l13.0 13.0M394.8 465.0l13.0 -13.0M401.5 447.1l13.0 13.0M401.5 460.1l13.0 -13.0M408.2 460.6l13.0 13.0M408.2 473.6l13.0 -13.0M414.9 474.7l13.0 13.0M414.9 487.7l13.0 -13.0M421.6 499.5l13.0 13.0M421.6 512.5l13.0 -13.0M428.3 506.6l13.0 13.0M428.3 519.6l13.0 -13.0M435.0 507.4l13.0 13.0M435.0 520.4l13.0 -13.0M441.7 489.5l13.0 13.0M441.7 502.5l13.0 -13.0M448.4 467.6l13.0 13.0M448.4 480.6l13.0 -13.0M455.0 475.7l13.0 13.0M455.0 488.7l13.0 -13.0M461.7 472.5l13.0 13.0M461.7 485.5l13.0 -13.0M468.4 478.7l13.0 13.0M468.4 491.7l13.0 -13.0M475.1 515.9l13.0 13.0M475.1 528.9l13.0 -13.0M481.8 564.0l13.0 13.0M481.8 577.0l13.0 -13.0M488.5 593.3l13.0 13.0M488.5 606.3l13.0 -13.0M495.2 578.0l13.0 13.0M495.2 591.0l13.0 -13.0M501.9 530.6l13.0 13.0M501.9 543.6l13.0 -13.0M508.6 502.8l13.0 13.0M508.6 515.8l13.0 -13.0M515.2 491.2l13.0 13.0M515.2 504.2l13.0 -13.0M521.9 466.5l13.0 13.0M521.9 479.5l13.0 -13.0M528.6 471.2l13.0 13.0M528.6 484.2l13.0 -13.0M535.3 463.9l13.0 13.0M535.3 476.9l13.0 -13.0M542.0 452.5l13.0 13.0M542.0 465.5l13.0 -13.0M548.7 458.6l13.0 13.0M548.7 471.6l13.0 -13.0M555.4 455.6l13.0 13.0M555.4 468.6l13.0 -13.0M562.1 454.6l13.0 13.0M562.1 467.6l13.0 -13.0M568.8 460.6l13.0 13.0M568.8 473.6l13.0 -13.0M575.5 452.5l13.0 13.0M575.5 465.5l13.0 -13.0M582.2 451.6l13.0 13.0M582.2 464.6l13.0 -13.0M588.8 441.1l13.0 13.0M588.8 454.1l13.0 -13.0M595.5 450.1l13.0 13.0M595.5 463.1l13.0 -13.0M602.2 467.7l13.0 13.0M602.2 480.7l13.0 -13.0M608.9 466.7l13.0 13.0M608.9 479.7l13.0 -13.0M615.6 465.7l13.0 13.0M615.6 478.7l13.0 -13.0M622.3 451.6l13.0 13.0M622.3 464.6l13.0 -13.0M629.0 437.3l13.0 13.0M629.0 450.3l13.0 -13.0M635.7 436.8l13.0 13.0M635.7 449.8l13.0 -13.0M642.4 440.1l13.0 13.0M642.4 453.1l13.0 -13.0M649.0 440.8l13.0 13.0M649.0 453.8l13.0 -13.0M655.7 444.9l13.0 13.0M655.7 457.9l13.0 -13.0M662.4 430.0l13.0 13.0M662.4 443.0l13.0 -13.0M669.1 453.6l13.0 13.0M669.1 466.6l13.0 -13.0M675.8 447.4l13.0 13.0M675.8 460.4l13.0 -13.0M682.5 438.8l13.0 13.0M682.5 451.8l13.0 -13.0M689.2 439.6l13.0 13.0M689.2 452.6l13.0 -13.0M695.9 442.6l13.0 13.0M695.9 455.6l13.0 -13.0M702.6 459.7l13.0 13.0M702.6 472.7l13.0 -13.0M709.3 500.6l13.0 13.0M709.3 513.6l13.0 -13.0M716.0 590.4l13.0 13.0M716.0 603.4l13.0 -13.0M722.6 702.4l13.0 13.0M722.6 715.4l13.0 -13.0" stroke="#000" stroke-width="2.45" fill="none"/>
<path d="M86.9 481.7 L87.3 482.1 L87.7 482.5 L88.1 482.9 L88.5 483.3 L88.9 483.7 L89.3 484.1 L89.7 484.5 L90.1 484.9 L90.5 485.3 L90.9 485.8 L91.3 486.2 L91.7 486.6 L92.1 487.0 L92.5 487.5 L92.9 487.9 L93.3 488.4 L93.7 488.8 L94.1 489.3 L94.5 489.8 L94.9 490.3 L95.3 490.8 L95.7 491.3 L96.1 491.9 L96.5 492.4 L96.9 493.0 L97.3 493.6 L97.7 494.1 L98.1 494.7 L98.5 495.2 L98.9 495.8 L99.3 496.3 L99.7 496.8 L100.1 497.3 L100.5 497.8 L100.9 498.3 L101.3 498.8 L101.7 499.3 L102.1 499.8 L102.5 500.2 L102.9 500.7 L103.3 501.2 L103.7 501.6 L104.1 502.1 L104.5 502.5 L104.9 502.9 L105.3 503.2 L105.7 503.6 L106.1 503.9 L106.5 504.2 L106.9 504.5 L107.3 504.8 L107.7 505.1 L108.1 505.4 L108.5 505.6 L108.9 505.9 L109.3 506.1 L109.7 506.4 L110.1 506.6 L110.5 506.8 L110.9 506.9 L111.3 507.1 L111.7 507.2 L112.1 507.3 L112.5 507.4 L112.9 507.5 L113.3 507.5 L113.7 507.6 L114.1 507.7 L114.5 507.7 L114.9 507.8 L115.3 507.8 L115.7 507.8 L116.1 507.9 L116.5 507.9 L116.9 507.9 L117.3 507.9 L117.7 507.9 L118.1 507.8 L118.5 507.7 L118.9 507.6 L119.3 507.5 L119.7 507.4 L120.1 507.2 L120.5 507.1 L120.9 506.9 L121.3 506.7 L121.7 506.5 L122.1 506.3 L122.5 506.1 L122.9 505.9 L123.3 505.6 L123.7 505.3 L124.1 505.0 L124.5 504.6 L124.9 504.2 L125.3 503.7 L125.7 503.3 L126.1 502.8 L126.5 502.4 L126.9 501.9 L127.3 501.4 L127.7 500.9 L128.1 500.4 L128.5 499.9 L128.9 499.4 L129.3 498.9 L129.7 498.3 L130.1 497.7 L130.5 497.1 L130.9 496.4 L131.3 495.8 L131.7 495.2 L132.1 494.5 L132.5 493.9 L132.9 493.2 L133.3 492.6 L133.7 492.0 L134.1 491.4 L134.5 490.9 L134.9 490.3 L135.3 489.7 L135.7 489.2 L136.1 488.6 L136.5 488.1 L136.9 487.5 L137.3 487.0 L137.7 486.4 L138.1 485.9 L138.5 485.4 L138.9 484.9 L139.3 484.4 L139.7 483.9 L140.1 483.4 L140.5 483.0 L140.9 482.5 L141.3 482.0 L141.7 481.6 L142.1 481.2 L142.5 480.7 L142.9 480.3 L143.3 479.9 L143.7 479.5 L144.1 479.1 L144.5 478.7 L144.9 478.3 L145.3 478.0 L145.7 477.7 L146.1 477.3 L146.5 477.1 L146.9 476.8 L147.3 476.5 L147.7 476.2 L148.1 476.0 L148.5 475.7 L148.9 475.5 L149.3 475.2 L149.7 475.0 L150.1 474.8 L150.5 474.6 L150.9 474.4 L151.3 474.2 L151.7 474.0 L152.1 473.9 L152.5 473.7 L152.9 473.6 L153.3 473.5 L153.7 473.4 L154.1 473.2 L154.5 473.1 L154.9 473.0 L155.3 472.9 L155.7 472.8 L156.1 472.7 L156.5 472.6 L156.9 472.5 L157.3 472.5 L157.7 472.4 L158.1 472.3 L158.5 472.2 L158.9 472.1 L159.3 472.1 L159.7 472.0 L160.1 471.9 L160.5 471.9 L160.9 471.8 L161.3 471.7 L161.7 471.7 L162.1 471.6 L162.5 471.5 L162.9 471.5 L163.3 471.4 L163.7 471.4 L164.1 471.3 L164.5 471.2 L164.9 471.2 L165.3 471.1 L165.7 471.1 L166.1 471.0 L166.5 471.0 L166.9 470.9 L167.3 470.9 L167.7 470.8 L168.1 470.8 L168.5 470.8 L168.9 470.7 L169.3 470.7 L169.7 470.7 L170.1 470.6 L170.5 470.6 L170.9 470.6 L171.3 470.5 L171.7 470.5 L172.1 470.5 L172.5 470.5 L172.9 470.4 L173.3 470.4 L173.7 470.4 L174.1 470.4 L174.5 470.4 L174.9 470.3 L175.3 470.3 L175.7 470.3 L176.1 470.3 L176.5 470.3 L176.9 470.2 L177.3 470.2 L177.7 470.2 L178.1 470.2 L178.5 470.2 L178.9 470.2 L179.3 470.1 L179.7 470.1 L180.1 470.1 L180.5 470.1 L180.9 470.1 L181.3 470.1 L181.7 470.0 L182.1 470.0 L182.5 470.0 L182.9 470.0 L183.3 470.0 L183.7 469.9 L184.1 469.9 L184.5 469.9 L184.9 469.9 L185.3 469.8 L185.7 469.8 L186.1 469.8 L186.5 469.8 L186.9 469.7 L187.3 469.7 L187.7 469.7 L188.1 469.7 L188.5 469.6 L188.9 469.6 L189.3 469.6 L189.7 469.6 L190.1 469.5 L190.5 469.5 L190.9 469.5 L191.3 469.4 L191.7 469.4 L192.1 469.4 L192.5 469.4 L192.9 469.3 L193.3 469.3 L193.7 469.3 L194.1 469.2 L194.5 469.2 L194.9 469.2 L195.3 469.2 L195.7 469.1 L196.1 469.1 L196.5 469.1 L196.9 469.0 L197.3 469.0 L197.7 469.0 L198.1 469.0 L198.5 468.9 L198.9 468.9 L199.3 468.9 L199.7 468.9 L200.1 468.8 L200.5 468.8 L200.9 468.8 L201.3 468.7 L201.7 468.7 L202.1 468.7 L202.5 468.7 L202.9 468.6 L203.3 468.6 L203.7 468.6 L204.1 468.6 L204.5 468.5 L204.9 468.5 L205.3 468.5 L205.7 468.5 L206.1 468.4 L206.5 468.4 L206.9 468.4 L207.3 468.4 L207.7 468.4 L208.1 468.3 L208.5 468.3 L208.9 468.3 L209.3 468.3 L209.7 468.2 L210.1 468.2 L210.5 468.2 L210.9 468.2 L211.3 468.1 L211.7 468.1 L212.1 468.1 L212.5 468.1 L212.9 468.0 L213.3 468.0 L213.7 468.0 L214.1 468.0 L214.5 467.9 L214.9 467.9 L215.3 467.9 L215.7 467.9 L216.1 467.9 L216.5 467.8 L216.9 467.8 L217.3 467.8 L217.7 467.8 L218.1 467.7 L218.5 467.7 L218.9 467.7 L219.3 467.7 L219.7 467.6 L220.1 467.6 L220.5 467.6 L220.9 467.6 L221.3 467.6 L221.7 467.5 L222.1 467.5 L222.5 467.5 L222.9 467.5 L223.3 467.5 L223.7 467.4 L224.1 467.4 L224.5 467.4 L224.9 467.4 L225.3 467.4 L225.7 467.3 L226.1 467.3 L226.5 467.3 L226.9 467.3 L227.3 467.3 L227.7 467.2 L228.1 467.2 L228.5 467.2 L228.9 467.2 L229.3 467.2 L229.7 467.1 L230.1 467.1 L230.5 467.1 L230.9 467.1 L231.3 467.1 L231.7 467.1 L232.1 467.0 L232.5 467.0 L232.9 467.0 L233.3 467.0 L233.7 467.0 L234.1 466.9 L234.5 466.9 L234.9 466.9 L235.3 466.9 L235.7 466.8 L236.1 466.8 L236.5 466.8 L236.9 466.8 L237.3 466.8 L237.7 466.7 L238.1 466.7 L238.5 466.7 L238.9 466.7 L239.3 466.6 L239.7 466.6 L240.1 466.6 L240.5 466.6 L240.9 466.5 L241.3 466.5 L241.7 466.5 L242.1 466.5 L242.5 466.4 L242.9 466.4 L243.3 466.4 L243.7 466.3 L244.1 466.3 L244.5 466.3 L244.9 466.2 L245.3 466.2 L245.7 466.2 L246.1 466.1 L246.5 466.1 L246.9 466.1 L247.3 466.0 L247.7 466.0 L248.1 466.0 L248.5 465.9 L248.9 465.9 L249.3 465.9 L249.7 465.8 L250.1 465.8 L250.5 465.8 L250.9 465.7 L251.3 465.7 L251.7 465.7 L252.1 465.6 L252.5 465.6 L252.9 465.6 L253.3 465.5 L253.7 465.5 L254.1 465.5 L254.5 465.4 L254.9 465.4 L255.3 465.4 L255.7 465.3 L256.1 465.3 L256.5 465.3 L256.9 465.3 L257.3 465.2 L257.7 465.2 L258.1 465.2 L258.5 465.1 L258.9 465.1 L259.3 465.1 L259.7 465.1 L260.1 465.0 L260.5 465.0 L260.9 465.0 L261.3 464.9 L261.7 464.9 L262.1 464.9 L262.5 464.9 L262.9 464.8 L263.3 464.8 L263.7 464.8 L264.1 464.8 L264.5 464.7 L264.9 464.7 L265.3 464.7 L265.7 464.7 L266.1 464.6 L266.5 464.6 L266.9 464.6 L267.3 464.6 L267.7 464.5 L268.1 464.5 L268.5 464.5 L268.9 464.5 L269.3 464.4 L269.7 464.4 L270.1 464.4 L270.5 464.4 L270.9 464.4 L271.3 464.3 L271.7 464.3 L272.1 464.3 L272.5 464.3 L272.9 464.3 L273.3 464.2 L273.7 464.2 L274.1 464.2 L274.5 464.2 L274.9 464.2 L275.3 464.1 L275.7 464.1 L276.1 464.1 L276.5 464.1 L276.9 464.1 L277.3 464.0 L277.7 464.0 L278.1 464.0 L278.5 464.0 L278.9 464.0 L279.3 464.0 L279.7 463.9 L280.1 463.9 L280.5 463.9 L280.9 463.9 L281.3 463.9 L281.7 463.9 L282.1 463.8 L282.5 463.8 L282.9 463.8 L283.3 463.8 L283.7 463.8 L284.1 463.8 L284.5 463.7 L284.9 463.7 L285.3 463.7 L285.7 463.7 L286.1 463.7 L286.5 463.7 L286.9 463.6 L287.3 463.6 L287.7 463.6 L288.1 463.6 L288.5 463.6 L288.9 463.6 L289.3 463.5 L289.7 463.5 L290.1 463.5 L290.5 463.5 L290.9 463.5 L291.3 463.4 L291.7 463.4 L292.1 463.4 L292.5 463.4 L292.9 463.4 L293.3 463.3 L293.7 463.3 L294.1 463.3 L294.5 463.3 L294.9 463.3 L295.3 463.2 L295.7 463.2 L296.1 463.2 L296.5 463.2 L296.9 463.1 L297.3 463.1 L297.7 463.1 L298.1 463.1 L298.5 463.1 L298.9 463.0 L299.3 463.0 L299.7 463.0 L300.1 463.0 L300.5 463.0 L300.9 462.9 L301.3 462.9 L301.7 462.9 L302.1 462.9 L302.5 462.9 L302.9 462.8 L303.3 462.8 L303.7 462.8 L304.1 462.8 L304.5 462.8 L304.9 462.7 L305.3 462.7 L305.7 462.7 L306.1 462.7 L306.5 462.7 L306.9 462.6 L307.3 462.6 L307.7 462.6 L308.1 462.6 L308.5 462.6 L308.9 462.5 L309.3 462.5 L309.7 462.5 L310.1 462.5 L310.5 462.5 L310.9 462.5 L311.3 462.4 L311.7 462.4 L312.1 462.4 L312.5 462.4 L312.9 462.4 L313.3 462.4 L313.7 462.4 L314.1 462.3 L314.5 462.3 L314.9 462.3 L315.3 462.3 L315.7 462.3 L316.1 462.3 L316.5 462.3 L316.9 462.2 L317.3 462.2 L317.7 462.2 L318.1 462.2 L318.5 462.2 L318.9 462.2 L319.3 462.2 L319.7 462.2 L320.1 462.1 L320.5 462.1 L320.9 462.1 L321.3 462.1 L321.7 462.1 L322.1 462.1 L322.5 462.1 L322.9 462.1 L323.3 462.0 L323.7 462.0 L324.1 462.0 L324.5 462.0 L324.9 462.0 L325.3 462.0 L325.7 462.0 L326.1 461.9 L326.5 461.9 L326.9 461.9 L327.3 461.9 L327.7 461.9 L328.1 461.9 L328.5 461.9 L328.9 461.8 L329.3 461.8 L329.7 461.8 L330.1 461.8 L330.5 461.8 L330.9 461.8 L331.3 461.7 L331.7 461.7 L332.1 461.7 L332.5 461.7 L332.9 461.7 L333.3 461.7 L333.7 461.6 L334.1 461.6 L334.5 461.6 L334.9 461.6 L335.3 461.6 L335.7 461.5 L336.1 461.5 L336.5 461.5 L336.9 461.5 L337.3 461.5 L337.7 461.4 L338.1 461.4 L338.5 461.4 L338.9 461.4 L339.3 461.4 L339.7 461.3 L340.1 461.3 L340.5 461.3 L340.9 461.3 L341.3 461.3 L341.7 461.2 L342.1 461.2 L342.5 461.2 L342.9 461.2 L343.3 461.2 L343.7 461.1 L344.1 461.1 L344.5 461.1 L344.9 461.1 L345.3 461.0 L345.7 461.0 L346.1 461.0 L346.5 461.0 L346.9 461.0 L347.3 460.9 L347.7 460.9 L348.1 460.9 L348.5 460.9 L348.9 460.9 L349.3 460.8 L349.7 460.8 L350.1 460.8 L350.5 460.8 L350.9 460.8 L351.3 460.7 L351.7 460.7 L352.1 460.7 L352.5 460.7 L352.9 460.6 L353.3 460.6 L353.7 460.6 L354.1 460.6 L354.5 460.6 L354.9 460.5 L355.3 460.5 L355.7 460.5 L356.1 460.5 L356.5 460.5 L356.9 460.4 L357.3 460.4 L357.7 460.4 L358.1 460.4 L358.5 460.3 L358.9 460.3 L359.3 460.3 L359.7 460.3 L360.1 460.3 L360.5 460.2 L360.9 460.2 L361.3 460.2 L361.7 460.2 L362.1 460.2 L362.5 460.1 L362.9 460.1 L363.3 460.1 L363.7 460.1 L364.1 460.0 L364.5 460.0 L364.9 460.0 L365.3 460.0 L365.7 460.0 L366.1 459.9 L366.5 459.9 L366.9 459.9 L367.3 459.9 L367.7 459.8 L368.1 459.8 L368.5 459.8 L368.9 459.8 L369.3 459.7 L369.7 459.7 L370.1 459.7 L370.5 459.7 L370.9 459.6 L371.3 459.6 L371.7 459.6 L372.1 459.6 L372.5 459.6 L372.9 459.5 L373.3 459.5 L373.7 459.5 L374.1 459.5 L374.5 459.5 L374.9 459.5 L375.3 459.5 L375.7 459.5 L376.1 459.5 L376.5 459.5 L376.9 459.5 L377.3 459.5 L377.7 459.5 L378.1 459.5 L378.5 459.5 L378.9 459.5 L379.3 459.5 L379.7 459.5 L380.1 459.5 L380.5 459.5 L380.9 459.5 L381.3 459.5 L381.7 459.5 L382.1 459.5 L382.5 459.5 L382.9 459.5 L383.3 459.5 L383.7 459.5 L384.1 459.5 L384.5 459.5 L384.9 459.5 L385.3 459.5 L385.7 459.5 L386.1 459.5 L386.5 459.5 L386.9 459.5 L387.3 459.6 L387.7 459.6 L388.1 459.7 L388.5 459.7 L388.9 459.8 L389.3 459.8 L389.7 459.9 L390.1 460.0 L390.5 460.0 L390.9 460.1 L391.3 460.2 L391.7 460.2 L392.1 460.3 L392.5 460.4 L392.9 460.4 L393.3 460.5 L393.7 460.5 L394.1 460.6 L394.5 460.6 L394.9 460.7 L395.3 460.8 L395.7 460.8 L396.1 460.9 L396.5 461.0 L396.9 461.1 L397.3 461.2 L397.7 461.4 L398.1 461.5 L398.5 461.7 L398.9 461.8 L399.3 462.0 L399.7 462.2 L400.1 462.3 L400.5 462.5 L400.9 462.7 L401.3 463.0 L401.7 463.2 L402.1 463.5 L402.5 463.8 L402.9 464.1 L403.3 464.5 L403.7 464.8 L404.1 465.2 L404.5 465.6 L404.9 466.0 L405.3 466.4 L405.7 466.8 L406.1 467.2 L406.5 467.6 L406.9 468.1 L407.3 468.6 L407.7 469.0 L408.1 469.5 L408.5 470.1 L408.9 470.6 L409.3 471.1 L409.7 471.7 L410.1 472.2 L410.5 472.8 L410.9 473.3 L411.3 473.9 L411.7 474.5 L412.1 475.0 L412.5 475.6 L412.9 476.3 L413.3 476.9 L413.7 477.5 L414.1 478.1 L414.5 478.8 L414.9 479.4 L415.3 480.0 L415.7 480.6 L416.1 481.2 L416.5 481.8 L416.9 482.4 L417.3 483.0 L417.7 483.6 L418.1 484.2 L418.5 484.7 L418.9 485.3 L419.3 485.9 L419.7 486.4 L420.1 487.0 L420.5 487.5 L420.9 488.0 L421.3 488.4 L421.7 488.9 L422.1 489.4 L422.5 489.8 L422.9 490.3 L423.3 490.7 L423.7 491.2 L424.1 491.6 L424.5 491.9 L424.9 492.3 L425.3 492.6 L425.7 492.9 L426.1 493.2 L426.5 493.4 L426.9 493.7 L427.3 493.9 L427.7 494.1 L428.1 494.3 L428.5 494.5 L428.9 494.7 L429.3 494.9 L429.7 495.0 L430.1 495.2 L430.5 495.3 L430.9 495.4 L431.3 495.4 L431.7 495.5 L432.1 495.5 L432.5 495.6 L432.9 495.6 L433.3 495.7 L433.7 495.7 L434.1 495.7 L434.5 495.7 L434.9 495.7 L435.3 495.6 L435.7 495.5 L436.1 495.4 L436.5 495.3 L436.9 495.2 L437.3 495.0 L437.7 494.9 L438.1 494.7 L438.5 494.6 L438.9 494.3 L439.3 494.1 L439.7 493.8 L440.1 493.4 L440.5 493.1 L440.9 492.7 L441.3 492.2 L441.7 491.8 L442.1 491.4 L442.5 490.9 L442.9 490.5 L443.3 490.1 L443.7 489.7 L444.1 489.2 L444.5 488.8 L444.9 488.3 L445.3 487.8 L445.7 487.3 L446.1 486.8 L446.5 486.3 L446.9 485.8 L447.3 485.3 L447.7 484.8 L448.1 484.3 L448.5 483.8 L448.9 483.3 L449.3 482.8 L449.7 482.3 L450.1 481.8 L450.5 481.3 L450.9 480.8 L451.3 480.3 L451.7 479.8 L452.1 479.3 L452.5 478.9 L452.9 478.5 L453.3 478.1 L453.7 477.7 L454.1 477.4 L454.5 477.0 L454.9 476.7 L455.3 476.3 L455.7 476.0 L456.1 475.8 L456.5 475.5 L456.9 475.4 L457.3 475.3 L457.7 475.2 L458.1 475.1 L458.5 475.1 L458.9 475.0 L459.3 475.0 L459.7 475.0 L460.1 475.1 L460.5 475.2 L460.9 475.4 L461.3 475.6 L461.7 475.8 L462.1 476.1 L462.5 476.4 L462.9 476.7 L463.3 477.1 L463.7 477.5 L464.1 478.0 L464.5 478.5 L464.9 479.0 L465.3 479.6 L465.7 480.2 L466.1 480.9 L466.5 481.6 L466.9 482.5 L467.3 483.4 L467.7 484.3 L468.1 485.3 L468.5 486.3 L468.9 487.5 L469.3 488.8 L469.7 490.2 L470.1 491.6 L470.5 493.1 L470.9 494.7 L471.3 496.3 L471.7 497.9 L472.1 499.6 L472.5 501.4 L472.9 503.3 L473.3 505.2 L473.7 507.1 L474.1 509.0 L474.5 510.9 L474.9 512.8 L475.3 514.7 L475.7 516.6 L476.1 518.6 L476.5 520.5 L476.9 522.5 L477.3 524.5 L477.7 526.6 L478.1 528.7 L478.5 530.8 L478.9 532.9 L479.3 535.1 L479.7 537.2 L480.1 539.4 L480.5 541.5 L480.9 543.6 L481.3 545.7 L481.7 547.7 L482.1 549.7 L482.5 551.7 L482.9 553.7 L483.3 555.7 L483.7 557.7 L484.1 559.6 L484.5 561.5 L484.9 563.4 L485.3 565.2 L485.7 567.0 L486.1 568.7 L486.5 570.4 L486.9 572.1 L487.3 573.7 L487.7 575.4 L488.1 577.0 L488.5 578.6 L488.9 580.1 L489.3 581.5 L489.7 582.9 L490.1 584.2 L490.5 585.3 L490.9 586.4 L491.3 587.5 L491.7 588.6 L492.1 589.6 L492.5 590.6 L492.9 591.4 L493.3 592.1 L493.7 592.7 L494.1 593.1 L494.5 593.4 L494.9 593.7 L495.3 593.9 L495.7 594.1 L496.1 594.2 L496.5 594.2 L496.9 594.0 L497.3 593.6 L497.7 593.1 L498.1 592.6 L498.5 592.0 L498.9 591.4 L499.3 590.6 L499.7 589.8 L500.1 588.8 L500.5 587.7 L500.9 586.5 L501.3 585.2 L501.7 583.9 L502.1 582.5 L502.5 581.1 L502.9 579.6 L503.3 577.9 L503.7 576.1 L504.1 574.3 L504.5 572.3 L504.9 570.3 L505.3 568.3 L505.7 566.2 L506.1 564.2 L506.5 562.1 L506.9 560.1 L507.3 558.1 L507.7 556.1 L508.1 554.1 L508.5 552.0 L508.9 550.0 L509.3 547.9 L509.7 545.8 L510.1 543.7 L510.5 541.6 L510.9 539.5 L511.3 537.3 L511.7 535.2 L512.1 533.0 L512.5 530.8 L512.9 528.6 L513.3 526.3 L513.7 524.0 L514.1 521.9 L514.5 519.9 L514.9 518.0 L515.3 516.1 L515.7 514.3 L516.1 512.6 L516.5 510.9 L516.9 509.4 L517.3 507.8 L517.7 506.3 L518.1 504.7 L518.5 503.1 L518.9 501.5 L519.3 500.0 L519.7 498.4 L520.1 496.7 L520.5 495.1 L520.9 493.4 L521.3 491.6 L521.7 489.7 L522.1 487.7 L522.5 485.7 L522.9 483.7 L523.3 481.8 L523.7 480.1 L524.1 478.5 L524.5 476.9 L524.9 475.5 L525.3 474.1 L525.7 472.9 L526.1 471.7 L526.5 470.7 L526.9 469.6 L527.3 468.7 L527.7 467.8 L528.1 467.0 L528.5 466.2 L528.9 465.4 L529.3 464.7 L529.7 464.0 L530.1 463.3 L530.5 462.7 L530.9 462.1 L531.3 461.6 L531.7 461.1 L532.1 460.6 L532.5 460.1 L532.9 459.7 L533.3 459.2 L533.7 458.8 L534.1 458.5 L534.5 458.1 L534.9 457.8 L535.3 457.5 L535.7 457.2 L536.1 457.0 L536.5 456.7 L536.9 456.5 L537.3 456.3 L537.7 456.1 L538.1 455.9 L538.5 455.7 L538.9 455.5 L539.3 455.4 L539.7 455.2 L540.1 455.1 L540.5 455.0 L540.9 454.9 L541.3 454.7 L541.7 454.6 L542.1 454.5 L542.5 454.4 L542.9 454.3 L543.3 454.2 L543.7 454.1 L544.1 454.1 L544.5 454.0 L544.9 453.9 L545.3 453.8 L545.7 453.8 L546.1 453.7 L546.5 453.7 L546.9 453.6 L547.3 453.6 L547.7 453.5 L548.1 453.5 L548.5 453.4 L548.9 453.4 L549.3 453.3 L549.7 453.3 L550.1 453.2 L550.5 453.2 L550.9 453.2 L551.3 453.1 L551.7 453.1 L552.1 453.1 L552.5 453.0 L552.9 453.0 L553.3 453.0 L553.7 452.9 L554.1 452.9 L554.5 452.9 L554.9 452.9 L555.3 452.8 L555.7 452.8 L556.1 452.8 L556.5 452.8 L556.9 452.8 L557.3 452.7 L557.7 452.7 L558.1 452.7 L558.5 452.7 L558.9 452.7 L559.3 452.7 L559.7 452.6 L560.1 452.6 L560.5 452.6 L560.9 452.6 L561.3 452.6 L561.7 452.6 L562.1 452.6 L562.5 452.5 L562.9 452.5 L563.3 452.5 L563.7 452.5 L564.1 452.5 L564.5 452.5 L564.9 452.5 L565.3 452.5 L565.7 452.4 L566.1 452.4 L566.5 452.4 L566.9 452.4 L567.3 452.4 L567.7 452.4 L568.1 452.4 L568.5 452.4 L568.9 452.4 L569.3 452.4 L569.7 452.3 L570.1 452.3 L570.5 452.3 L570.9 452.3 L571.3 452.3 L571.7 452.3 L572.1 452.3 L572.5 452.3 L572.9 452.3 L573.3 452.3 L573.7 452.2 L574.1 452.2 L574.5 452.2 L574.9 452.2 L575.3 452.2 L575.7 452.2 L576.1 452.2 L576.5 452.2 L576.9 452.2 L577.3 452.2 L577.7 452.2 L578.1 452.2 L578.5 452.1 L578.9 452.1 L579.3 452.1 L579.7 452.1 L580.1 452.1 L580.5 452.1 L580.9 452.1 L581.3 452.1 L581.7 452.1 L582.1 452.1 L582.5 452.1 L582.9 452.1 L583.3 452.1 L583.7 452.0 L584.1 452.0 L584.5 452.0 L584.9 452.0 L585.3 452.0 L585.7 452.0 L586.1 452.0 L586.5 452.0 L586.9 452.0 L587.3 452.0 L587.7 452.0 L588.1 452.0 L588.5 451.9 L588.9 451.9 L589.3 451.9 L589.7 451.9 L590.1 451.9 L590.5 451.9 L590.9 451.9 L591.3 451.9 L591.7 451.9 L592.1 451.9 L592.5 451.9 L592.9 451.9 L593.3 451.8 L593.7 451.8 L594.1 451.8 L594.5 451.8 L594.9 451.8 L595.3 451.8 L595.7 451.8 L596.1 451.8 L596.5 451.8 L596.9 451.8 L597.3 451.8 L597.7 451.7 L598.1 451.7 L598.5 451.7 L598.9 451.7 L599.3 451.7 L599.7 451.7 L600.1 451.7 L600.5 451.7 L600.9 451.7 L601.3 451.7 L601.7 451.7 L602.1 451.6 L602.5 451.6 L602.9 451.6 L603.3 451.6 L603.7 451.6 L604.1 451.6 L604.5 451.6 L604.9 451.6 L605.3 451.6 L605.7 451.6 L606.1 451.6 L606.5 451.5 L606.9 451.5 L607.3 451.5 L607.7 451.5 L608.1 451.5 L608.5 451.5 L608.9 451.5 L609.3 451.5 L609.7 451.5 L610.1 451.5 L610.5 451.4 L610.9 451.4 L611.3 451.4 L611.7 451.4 L612.1 451.4 L612.5 451.4 L612.9 451.4 L613.3 451.4 L613.7 451.4 L614.1 451.4 L614.5 451.3 L614.9 451.3 L615.3 451.3 L615.7 451.3 L616.1 451.3 L616.5 451.3 L616.9 451.3 L617.3 451.3 L617.7 451.3 L618.1 451.2 L618.5 451.2 L618.9 451.2 L619.3 451.2 L619.7 451.2 L620.1 451.2 L620.5 451.2 L620.9 451.1 L621.3 451.1 L621.7 451.1 L622.1 451.1 L622.5 451.1 L622.9 451.1 L623.3 451.1 L623.7 451.0 L624.1 451.0 L624.5 451.0 L624.9 451.0 L625.3 451.0 L625.7 451.0 L626.1 451.0 L626.5 450.9 L626.9 450.9 L627.3 450.9 L627.7 450.9 L628.1 450.9 L628.5 450.9 L628.9 450.8 L629.3 450.8 L629.7 450.8 L630.1 450.8 L630.5 450.8 L630.9 450.8 L631.3 450.8 L631.7 450.7 L632.1 450.7 L632.5 450.7 L632.9 450.7 L633.3 450.7 L633.7 450.7 L634.1 450.7 L634.5 450.6 L634.9 450.6 L635.3 450.6 L635.7 450.6 L636.1 450.6 L636.5 450.6 L636.9 450.6 L637.3 450.5 L637.7 450.5 L638.1 450.5 L638.5 450.5 L638.9 450.5 L639.3 450.5 L639.7 450.5 L640.1 450.4 L640.5 450.4 L640.9 450.4 L641.3 450.4 L641.7 450.4 L642.1 450.4 L642.5 450.4 L642.9 450.4 L643.3 450.4 L643.7 450.3 L644.1 450.3 L644.5 450.3 L644.9 450.3 L645.3 450.3 L645.7 450.3 L646.1 450.3 L646.5 450.3 L646.9 450.3 L647.3 450.3 L647.7 450.3 L648.1 450.3 L648.5 450.3 L648.9 450.2 L649.3 450.2 L649.7 450.2 L650.1 450.2 L650.5 450.2 L650.9 450.2 L651.3 450.2 L651.7 450.2 L652.1 450.2 L652.5 450.2 L652.9 450.2 L653.3 450.2 L653.7 450.2 L654.1 450.1 L654.5 450.1 L654.9 450.1 L655.3 450.1 L655.7 450.1 L656.1 450.1 L656.5 450.1 L656.9 450.1 L657.3 450.1 L657.7 450.1 L658.1 450.1 L658.5 450.1 L658.9 450.1 L659.3 450.1 L659.7 450.0 L660.1 450.0 L660.5 450.0 L660.9 450.0 L661.3 450.0 L661.7 450.0 L662.1 450.0 L662.5 450.0 L662.9 450.0 L663.3 450.0 L663.7 450.0 L664.1 450.0 L664.5 450.0 L664.9 450.0 L665.3 450.0 L665.7 450.0 L666.1 450.0 L666.5 450.0 L666.9 450.0 L667.3 449.9 L667.7 449.9 L668.1 449.9 L668.5 449.9 L668.9 449.9 L669.3 449.9 L669.7 449.9 L670.1 449.9 L670.5 449.9 L670.9 449.9 L671.3 449.9 L671.7 449.9 L672.1 449.9 L672.5 449.9 L672.9 449.9 L673.3 449.9 L673.7 449.9 L674.1 449.9 L674.5 449.9 L674.9 449.9 L675.3 449.9 L675.7 449.9 L676.1 449.9 L676.5 449.9 L676.9 449.9 L677.3 449.9 L677.7 449.9 L678.1 449.9 L678.5 449.9 L678.9 449.9 L679.3 449.9 L679.7 449.9 L680.1 449.9 L680.5 449.9 L680.9 449.9 L681.3 450.0 L681.7 450.0 L682.1 450.0 L682.5 450.0 L682.9 450.0 L683.3 450.0 L683.7 450.0 L684.1 450.1 L684.5 450.2 L684.9 450.2 L685.3 450.3 L685.7 450.4 L686.1 450.5 L686.5 450.6 L686.9 450.7 L687.3 450.8 L687.7 451.0 L688.1 451.1 L688.5 451.3 L688.9 451.5 L689.3 451.6 L689.7 451.8 L690.1 452.0 L690.5 452.3 L690.9 452.5 L691.3 452.8 L691.7 453.0 L692.1 453.3 L692.5 453.6 L692.9 454.0 L693.3 454.3 L693.7 454.6 L694.1 455.0 L694.5 455.4 L694.9 455.8 L695.3 456.2 L695.7 456.7 L696.1 457.2 L696.5 457.7 L696.9 458.2 L697.3 458.8 L697.7 459.3 L698.1 459.9 L698.5 460.6 L698.9 461.2 L699.3 461.9 L699.7 462.7 L700.1 463.4 L700.5 464.3 L700.9 465.1 L701.3 466.0 L701.7 467.0 L702.1 467.9 L702.5 469.0 L702.9 470.1 L703.3 471.4 L703.7 472.7 L704.1 474.1 L704.5 475.5 L704.9 477.0 L705.3 478.6 L705.7 480.4 L706.1 482.3 L706.5 484.3 L706.9 486.3 L707.3 488.4 L707.7 490.3 L708.1 492.1 L708.5 493.8 L708.9 495.5 L709.3 497.3 L709.7 499.1 L710.1 501.0 L710.5 503.1 L710.9 505.2 L711.3 507.4 L711.7 509.8 L712.1 512.2 L712.5 514.9 L712.9 517.7 L713.3 520.8 L713.7 524.2 L714.1 528.0 L714.5 532.0 L714.9 536.2 L715.3 540.6 L715.7 545.0 L716.1 549.3 L716.5 553.7 L716.9 558.1 L717.3 562.7 L717.7 567.3 L718.1 572.1 L718.5 576.9 L718.9 581.7 L719.3 586.6 L719.7 591.5 L720.1 596.5 L720.5 601.4 L720.9 606.5 L721.3 611.8 L721.7 617.3 L722.1 623.1 L722.5 629.2 L722.9 635.8 L723.3 642.7 L723.7 649.9 L724.1 657.2 L724.5 664.8 L724.9 672.5 L725.3 680.6 L725.7 689.0 L726.1 697.5 L726.5 706.1 L726.9 714.7 L727.3 723.4 L727.7 732.1 L728.1 741.0 L728.5 750.0 L728.9 759.1" stroke="#00f" stroke-width="2.6" stroke-dasharray="2.6 3.4" fill="none"/>
<path d="M268.0 464.6 L268.4 464.5 L268.8 464.5 L269.2 464.5 L269.6 464.5 L270.0 464.5 L270.4 464.5 L270.8 464.4 L271.2 464.4 L271.6 464.4 L272.0 464.4 L272.4 464.4 L272.8 464.4 L273.2 464.4 L273.6 464.4 L274.0 464.4 L274.4 464.4 L274.8 464.4 L275.2 464.4 L275.6 464.4 L276.0 464.4 L276.4 464.4 L276.8 464.4 L277.2 464.5 L277.6 464.5 L278.0 464.5 L278.4 464.5 L278.8 464.6 L279.2 464.6 L279.6 464.6 L280.0 464.7 L280.4 464.7 L280.8 464.8 L281.2 464.8 L281.6 464.9 L282.0 465.0 L282.4 465.1 L282.8 465.2 L283.2 465.3 L283.6 465.4 L284.0 465.5 L284.4 465.6 L284.8 465.7 L285.2 465.9 L285.6 466.0 L286.0 466.2 L286.4 466.4 L286.8 466.6 L287.2 466.8 L287.6 467.0 L288.0 467.3 L288.4 467.5 L288.8 467.8 L289.2 468.1 L289.6 468.4 L290.0 468.8 L290.4 469.1 L290.8 469.5 L291.2 469.9 L291.6 470.4 L292.0 470.8 L292.4 471.3 L292.8 471.8 L293.2 472.4 L293.6 473.0 L294.0 473.6 L294.4 474.2 L294.8 474.9 L295.2 475.6 L295.6 476.4 L296.0 477.2 L296.4 478.0 L296.8 478.9 L297.2 479.8 L297.6 480.7 L298.0 481.7 L298.4 482.8 L298.8 483.9 L299.2 485.0 L299.6 486.2 L300.0 487.5 L300.4 488.8 L300.8 490.1 L301.2 491.5 L301.6 493.0 L302.0 494.5 L302.4 496.1 L302.8 497.7 L303.2 499.4 L303.6 501.1 L304.0 502.9 L304.4 504.8 L304.8 506.7 L305.2 508.7 L305.6 510.7 L306.0 512.8 L306.4 514.9 L306.8 517.1 L307.2 519.4 L307.6 521.7 L308.0 524.0 L308.4 526.4 L308.8 528.9 L309.2 531.4 L309.6 534.0 L310.0 536.6 L310.4 539.2 L310.8 541.9 L311.2 544.6 L311.6 547.4 L312.0 550.2 L312.4 553.1 L312.8 555.9 L313.2 558.8 L313.6 561.7 L314.0 564.7 L314.4 567.6 L314.8 570.6 L315.2 573.5 L315.6 576.5 L316.0 579.5 L316.4 582.4 L316.8 585.4 L317.2 588.3 L317.6 591.3 L318.0 594.2 L318.4 597.1 L318.8 599.9 L319.2 602.7 L319.6 605.5 L320.0 608.2 L320.4 610.9 L320.8 613.6 L321.2 616.1 L321.6 618.6 L322.0 621.1 L322.4 623.4 L322.8 625.7 L323.2 627.9 L323.6 630.1 L324.0 632.1 L324.4 634.1 L324.8 635.9 L325.2 637.7 L325.6 639.3 L326.0 640.8 L326.4 642.3 L326.8 643.6 L327.2 644.8 L327.6 645.9 L328.0 646.8 L328.4 647.7 L328.8 648.4 L329.2 649.0 L329.6 649.4 L330.0 649.8 L330.4 650.0 L330.8 650.1 L331.2 650.0 L331.6 649.8 L332.0 649.5 L332.4 649.1 L332.8 648.5 L333.2 647.8 L333.6 647.0 L334.0 646.1 L334.4 645.0 L334.8 643.9 L335.2 642.6 L335.6 641.2 L336.0 639.7 L336.4 638.0 L336.8 636.3 L337.2 634.5 L337.6 632.5 L338.0 630.5 L338.4 628.4 L338.8 626.2 L339.2 623.9 L339.6 621.5 L340.0 619.1 L340.4 616.6 L340.8 614.0 L341.2 611.4 L341.6 608.7 L342.0 606.0 L342.4 603.2 L342.8 600.3 L343.2 597.5 L343.6 594.6 L344.0 591.6 L344.4 588.7 L344.8 585.7 L345.2 582.7 L345.6 579.7 L346.0 576.7 L346.4 573.7 L346.8 570.7 L347.2 567.7 L347.6 564.7 L348.0 561.7 L348.4 558.8 L348.8 555.8 L349.2 552.9 L349.6 550.0 L350.0 547.2 L350.4 544.4 L350.8 541.6 L351.2 538.8 L351.6 536.1 L352.0 533.5 L352.4 530.8 L352.8 528.3 L353.2 525.7 L353.6 523.3 L354.0 520.8 L354.4 518.5 L354.8 516.1 L355.2 513.9 L355.6 511.7 L356.0 509.5 L356.4 507.4 L356.8 505.4 L357.2 503.4 L357.6 501.5 L358.0 499.6 L358.4 497.8 L358.8 496.0 L359.2 494.3 L359.6 492.7 L360.0 491.1 L360.4 489.6 L360.8 488.1 L361.2 486.7 L361.6 485.3 L362.0 484.0 L362.4 482.8 L362.8 481.5 L363.2 480.4 L363.6 479.3 L364.0 478.2 L364.4 477.2 L364.8 476.2 L365.2 475.2 L365.6 474.4 L366.0 473.5 L366.4 472.7 L366.8 471.9 L367.2 471.2 L367.6 470.4 L368.0 469.8 L368.4 469.1 L368.8 468.5 L369.2 467.9 L369.6 467.4 L370.0 466.9 L370.4 466.4 L370.8 465.9 L371.2 465.5 L371.6 465.1 L372.0 464.7 L372.4 464.3 L372.8 464.0 L373.2 463.7 L373.6 463.4 L374.0 463.1 L374.4 462.8 L374.8 462.6 L375.2 462.3 L375.6 462.1 L376.0 461.9 L376.4 461.8 L376.8 461.6 L377.2 461.4 L377.6 461.3 L378.0 461.1 L378.4 461.0 L378.8 460.9 L379.2 460.8 L379.6 460.7 L380.0 460.6 L380.4 460.5 L380.8 460.4 L381.2 460.3 L381.6 460.3 L382.0 460.2 L382.4 460.2 L382.8 460.1 L383.2 460.0 L383.6 460.0 L384.0 460.0 L384.4 459.9 L384.8 459.9 L385.2 459.8 L385.6 459.8 L386.0 459.8 L386.4 459.8 L386.8 459.8 L387.2 459.8 L387.6 459.8 L388.0 459.8 L388.4 459.9 L388.8 459.9 L389.2 460.0 L389.6 460.0 L390.0 460.1 L390.4 460.1 L390.8 460.2 L391.2 460.2 L391.6 460.3" stroke="#00f" stroke-width="2.6" stroke-dasharray="2.6 3.4" fill="none"/>
<path d="M268.0 464.5 L268.4 464.5 L268.8 464.5 L269.2 464.5 L269.6 464.4 L270.0 464.4 L270.4 464.4 L270.8 464.4 L271.2 464.4 L271.6 464.3 L272.0 464.3 L272.4 464.3 L272.8 464.3 L273.2 464.3 L273.6 464.3 L274.0 464.2 L274.4 464.2 L274.8 464.2 L275.2 464.2 L275.6 464.2 L276.0 464.2 L276.4 464.2 L276.8 464.2 L277.2 464.2 L277.6 464.1 L278.0 464.1 L278.4 464.1 L278.8 464.1 L279.2 464.1 L279.6 464.1 L280.0 464.1 L280.4 464.1 L280.8 464.1 L281.2 464.1 L281.6 464.2 L282.0 464.2 L282.4 464.2 L282.8 464.2 L283.2 464.2 L283.6 464.2 L284.0 464.3 L284.4 464.3 L284.8 464.3 L285.2 464.4 L285.6 464.4 L286.0 464.4 L286.4 464.5 L286.8 464.6 L287.2 464.6 L287.6 464.7 L288.0 464.8 L288.4 464.8 L288.8 464.9 L289.2 465.0 L289.6 465.1 L290.0 465.2 L290.4 465.3 L290.8 465.5 L291.2 465.6 L291.6 465.7 L292.0 465.9 L292.4 466.1 L292.8 466.3 L293.2 466.4 L293.6 466.7 L294.0 466.9 L294.4 467.1 L294.8 467.4 L295.2 467.6 L295.6 467.9 L296.0 468.2 L296.4 468.5 L296.8 468.9 L297.2 469.2 L297.6 469.6 L298.0 470.0 L298.4 470.4 L298.8 470.8 L299.2 471.3 L299.6 471.8 L300.0 472.3 L300.4 472.8 L300.8 473.4 L301.2 474.0 L301.6 474.6 L302.0 475.2 L302.4 475.9 L302.8 476.6 L303.2 477.3 L303.6 478.1 L304.0 478.9 L304.4 479.7 L304.8 480.5 L305.2 481.4 L305.6 482.3 L306.0 483.2 L306.4 484.2 L306.8 485.2 L307.2 486.2 L307.6 487.3 L308.0 488.4 L308.4 489.5 L308.8 490.6 L309.2 491.8 L309.6 493.0 L310.0 494.2 L310.4 495.5 L310.8 496.8 L311.2 498.1 L311.6 499.4 L312.0 500.8 L312.4 502.2 L312.8 503.6 L313.2 505.0 L313.6 506.4 L314.0 507.9 L314.4 509.4 L314.8 510.8 L315.2 512.3 L315.6 513.8 L316.0 515.3 L316.4 516.8 L316.8 518.4 L317.2 519.9 L317.6 521.4 L318.0 522.9 L318.4 524.4 L318.8 525.9 L319.2 527.4 L319.6 528.8 L320.0 530.3 L320.4 531.7 L320.8 533.1 L321.2 534.5 L321.6 535.8 L322.0 537.2 L322.4 538.4 L322.8 539.7 L323.2 540.9 L323.6 542.1 L324.0 543.2 L324.4 544.3 L324.8 545.4 L325.2 546.4 L325.6 547.3 L326.0 548.2 L326.4 549.0 L326.8 549.8 L327.2 550.5 L327.6 551.2 L328.0 551.8 L328.4 552.3 L328.8 552.8 L329.2 553.2 L329.6 553.5 L330.0 553.8 L330.4 554.0 L330.8 554.2 L331.2 554.2 L331.6 554.2 L332.0 554.2 L332.4 554.0 L332.8 553.8 L333.2 553.5 L333.6 553.2 L334.0 552.8 L334.4 552.3 L334.8 551.8 L335.2 551.2 L335.6 550.5 L336.0 549.8 L336.4 549.0 L336.8 548.2 L337.2 547.3 L337.6 546.3 L338.0 545.3 L338.4 544.3 L338.8 543.2 L339.2 542.0 L339.6 540.8 L340.0 539.6 L340.4 538.3 L340.8 537.0 L341.2 535.7 L341.6 534.3 L342.0 532.9 L342.4 531.5 L342.8 530.0 L343.2 528.5 L343.6 527.1 L344.0 525.6 L344.4 524.0 L344.8 522.5 L345.2 521.0 L345.6 519.4 L346.0 517.9 L346.4 516.3 L346.8 514.8 L347.2 513.2 L347.6 511.7 L348.0 510.2 L348.4 508.7 L348.8 507.1 L349.2 505.6 L349.6 504.2 L350.0 502.7 L350.4 501.3 L350.8 499.8 L351.2 498.4 L351.6 497.0 L352.0 495.7 L352.4 494.3 L352.8 493.0 L353.2 491.7 L353.6 490.5 L354.0 489.3 L354.4 488.1 L354.8 486.9 L355.2 485.7 L355.6 484.6 L356.0 483.5 L356.4 482.5 L356.8 481.5 L357.2 480.5 L357.6 479.5 L358.0 478.6 L358.4 477.7 L358.8 476.8 L359.2 476.0 L359.6 475.2 L360.0 474.4 L360.4 473.6 L360.8 472.9 L361.2 472.2 L361.6 471.5 L362.0 470.9 L362.4 470.3 L362.8 469.7 L363.2 469.1 L363.6 468.6 L364.0 468.1 L364.4 467.6 L364.8 467.1 L365.2 466.7 L365.6 466.2 L366.0 465.8 L366.4 465.4 L366.8 465.1 L367.2 464.7 L367.6 464.4 L368.0 464.1 L368.4 463.8 L368.8 463.5 L369.2 463.2 L369.6 462.9 L370.0 462.7 L370.4 462.5 L370.8 462.2 L371.2 462.0 L371.6 461.8 L372.0 461.7 L372.4 461.5 L372.8 461.3 L373.2 461.2 L373.6 461.0 L374.0 460.9 L374.4 460.8 L374.8 460.7 L375.2 460.6 L375.6 460.5 L376.0 460.4 L376.4 460.4 L376.8 460.3 L377.2 460.2 L377.6 460.2 L378.0 460.1 L378.4 460.1 L378.8 460.0 L379.2 460.0 L379.6 459.9 L380.0 459.9 L380.4 459.9 L380.8 459.8 L381.2 459.8 L381.6 459.8 L382.0 459.8 L382.4 459.7 L382.8 459.7 L383.2 459.7 L383.6 459.7 L384.0 459.7 L384.4 459.6 L384.8 459.6 L385.2 459.6 L385.6 459.6 L386.0 459.6 L386.4 459.6 L386.8 459.6 L387.2 459.6 L387.6 459.7 L388.0 459.7 L388.4 459.8 L388.8 459.8 L389.2 459.9 L389.6 459.9 L390.0 460.0 L390.4 460.1 L390.8 460.1 L391.2 460.2 L391.6 460.3" stroke="#00f" stroke-width="2.6" stroke-dasharray="2.6 3.4" fill="none"/>
<path d="M268.0 464.5 L268.4 464.5 L268.8 464.5 L269.2 464.4 L269.6 464.4 L270.0 464.4 L270.4 464.4 L270.8 464.4 L271.2 464.3 L271.6 464.3 L272.0 464.3 L272.4 464.3 L272.8 464.3 L273.2 464.3 L273.6 464.2 L274.0 464.2 L274.4 464.2 L274.8 464.2 L275.2 464.2 L275.6 464.2 L276.0 464.1 L276.4 464.1 L276.8 464.1 L277.2 464.1 L277.6 464.1 L278.0 464.1 L278.4 464.1 L278.8 464.0 L279.2 464.0 L279.6 464.0 L280.0 464.0 L280.4 464.0 L280.8 464.0 L281.2 464.0 L281.6 464.0 L282.0 464.0 L282.4 464.0 L282.8 464.0 L283.2 464.0 L283.6 464.0 L284.0 464.0 L284.4 464.0 L284.8 464.0 L285.2 464.0 L285.6 464.0 L286.0 464.0 L286.4 464.0 L286.8 464.0 L287.2 464.0 L287.6 464.0 L288.0 464.1 L288.4 464.1 L288.8 464.1 L289.2 464.1 L289.6 464.2 L290.0 464.2 L290.4 464.2 L290.8 464.3 L291.2 464.3 L291.6 464.4 L292.0 464.4 L292.4 464.5 L292.8 464.5 L293.2 464.6 L293.6 464.7 L294.0 464.8 L294.4 464.9 L294.8 464.9 L295.2 465.0 L295.6 465.1 L296.0 465.3 L296.4 465.4 L296.8 465.5 L297.2 465.6 L297.6 465.8 L298.0 465.9 L298.4 466.1 L298.8 466.3 L299.2 466.4 L299.6 466.6 L300.0 466.8 L300.4 467.0 L300.8 467.3 L301.2 467.5 L301.6 467.7 L302.0 468.0 L302.4 468.3 L302.8 468.6 L303.2 468.8 L303.6 469.1 L304.0 469.5 L304.4 469.8 L304.8 470.1 L305.2 470.5 L305.6 470.9 L306.0 471.3 L306.4 471.6 L306.8 472.1 L307.2 472.5 L307.6 472.9 L308.0 473.4 L308.4 473.8 L308.8 474.3 L309.2 474.8 L309.6 475.3 L310.0 475.8 L310.4 476.3 L310.8 476.9 L311.2 477.4 L311.6 478.0 L312.0 478.6 L312.4 479.2 L312.8 479.7 L313.2 480.3 L313.6 480.9 L314.0 481.6 L314.4 482.2 L314.8 482.8 L315.2 483.4 L315.6 484.1 L316.0 484.7 L316.4 485.4 L316.8 486.0 L317.2 486.7 L317.6 487.3 L318.0 488.0 L318.4 488.6 L318.8 489.2 L319.2 489.9 L319.6 490.5 L320.0 491.1 L320.4 491.7 L320.8 492.4 L321.2 493.0 L321.6 493.5 L322.0 494.1 L322.4 494.7 L322.8 495.2 L323.2 495.8 L323.6 496.3 L324.0 496.8 L324.4 497.2 L324.8 497.7 L325.2 498.1 L325.6 498.6 L326.0 499.0 L326.4 499.3 L326.8 499.7 L327.2 500.0 L327.6 500.3 L328.0 500.6 L328.4 500.8 L328.8 501.0 L329.2 501.2 L329.6 501.4 L330.0 501.5 L330.4 501.6 L330.8 501.7 L331.2 501.7 L331.6 501.7 L332.0 501.7 L332.4 501.7 L332.8 501.6 L333.2 501.5 L333.6 501.3 L334.0 501.2 L334.4 501.0 L334.8 500.8 L335.2 500.5 L335.6 500.2 L336.0 499.9 L336.4 499.6 L336.8 499.2 L337.2 498.9 L337.6 498.5 L338.0 498.0 L338.4 497.6 L338.8 497.1 L339.2 496.6 L339.6 496.1 L340.0 495.6 L340.4 495.0 L340.8 494.4 L341.2 493.9 L341.6 493.3 L342.0 492.7 L342.4 492.0 L342.8 491.4 L343.2 490.8 L343.6 490.1 L344.0 489.5 L344.4 488.8 L344.8 488.1 L345.2 487.5 L345.6 486.8 L346.0 486.1 L346.4 485.4 L346.8 484.7 L347.2 484.1 L347.6 483.4 L348.0 482.7 L348.4 482.0 L348.8 481.4 L349.2 480.7 L349.6 480.0 L350.0 479.4 L350.4 478.7 L350.8 478.1 L351.2 477.5 L351.6 476.9 L352.0 476.3 L352.4 475.7 L352.8 475.1 L353.2 474.5 L353.6 473.9 L354.0 473.4 L354.4 472.8 L354.8 472.3 L355.2 471.8 L355.6 471.3 L356.0 470.8 L356.4 470.3 L356.8 469.9 L357.2 469.4 L357.6 469.0 L358.0 468.5 L358.4 468.1 L358.8 467.7 L359.2 467.3 L359.6 467.0 L360.0 466.6 L360.4 466.3 L360.8 465.9 L361.2 465.6 L361.6 465.3 L362.0 465.0 L362.4 464.7 L362.8 464.4 L363.2 464.2 L363.6 463.9 L364.0 463.7 L364.4 463.5 L364.8 463.2 L365.2 463.0 L365.6 462.8 L366.0 462.6 L366.4 462.4 L366.8 462.2 L367.2 462.1 L367.6 461.9 L368.0 461.7 L368.4 461.6 L368.8 461.4 L369.2 461.3 L369.6 461.2 L370.0 461.1 L370.4 460.9 L370.8 460.8 L371.2 460.7 L371.6 460.6 L372.0 460.5 L372.4 460.4 L372.8 460.4 L373.2 460.3 L373.6 460.2 L374.0 460.2 L374.4 460.1 L374.8 460.1 L375.2 460.0 L375.6 460.0 L376.0 459.9 L376.4 459.9 L376.8 459.9 L377.2 459.8 L377.6 459.8 L378.0 459.8 L378.4 459.8 L378.8 459.7 L379.2 459.7 L379.6 459.7 L380.0 459.7 L380.4 459.7 L380.8 459.7 L381.2 459.6 L381.6 459.6 L382.0 459.6 L382.4 459.6 L382.8 459.6 L383.2 459.6 L383.6 459.6 L384.0 459.6 L384.4 459.6 L384.8 459.6 L385.2 459.6 L385.6 459.5 L386.0 459.5 L386.4 459.6 L386.8 459.6 L387.2 459.6 L387.6 459.6 L388.0 459.7 L388.4 459.7 L388.8 459.8 L389.2 459.8 L389.6 459.9 L390.0 460.0 L390.4 460.0 L390.8 460.1 L391.2 460.2 L391.6 460.2" stroke="#00f" stroke-width="2.6" stroke-dasharray="2.6 3.4" fill="none"/>
<path d="M86.9 481.7 L87.3 482.1 L87.7 482.5 L88.1 482.9 L88.5 483.3 L88.9 483.7 L89.3 484.1 L89.7 484.5 L90.1 484.9 L90.5 485.3 L90.9 485.8 L91.3 486.2 L91.7 486.6 L92.1 487.0 L92.5 487.5 L92.9 487.9 L93.3 488.4 L93.7 488.8 L94.1 489.3 L94.5 489.8 L94.9 490.3 L95.3 490.8 L95.7 491.3 L96.1 491.9 L96.5 492.4 L96.9 493.0 L97.3 493.6 L97.7 494.1 L98.1 494.7 L98.5 495.2 L98.9 495.8 L99.3 496.3 L99.7 496.8 L100.1 497.3 L100.5 497.8 L100.9 498.3 L101.3 498.8 L101.7 499.3 L102.1 499.8 L102.5 500.2 L102.9 500.7 L103.3 501.2 L103.7 501.6 L104.1 502.1 L104.5 502.5 L104.9 502.9 L105.3 503.2 L105.7 503.6 L106.1 503.9 L106.5 504.2 L106.9 504.5 L107.3 504.8 L107.7 505.1 L108.1 505.4 L108.5 505.6 L108.9 505.9 L109.3 506.1 L109.7 506.4 L110.1 506.6 L110.5 506.8 L110.9 506.9 L111.3 507.1 L111.7 507.2 L112.1 507.3 L112.5 507.4 L112.9 507.5 L113.3 507.5 L113.7 507.6 L114.1 507.7 L114.5 507.7 L114.9 507.8 L115.3 507.8 L115.7 507.8 L116.1 507.9 L116.5 507.9 L116.9 507.9 L117.3 507.9 L117.7 507.9 L118.1 507.8 L118.5 507.7 L118.9 507.6 L119.3 507.5 L119.7 507.4 L120.1 507.2 L120.5 507.1 L120.9 506.9 L121.3 506.7 L121.7 506.5 L122.1 506.3 L122.5 506.1 L122.9 505.9 L123.3 505.6 L123.7 505.3 L124.1 505.0 L124.5 504.6 L124.9 504.2 L125.3 503.7 L125.7 503.3 L126.1 502.8 L126.5 502.4 L126.9 501.9 L127.3 501.4 L127.7 500.9 L128.1 500.4 L128.5 499.9 L128.9 499.4 L129.3 498.9 L129.7 498.3 L130.1 497.7 L130.5 497.1 L130.9 496.4 L131.3 495.8 L131.7 495.2 L132.1 494.5 L132.5 493.9 L132.9 493.2 L133.3 492.6 L133.7 492.0 L134.1 491.4 L134.5 490.9 L134.9 490.3 L135.3 489.7 L135.7 489.2 L136.1 488.6 L136.5 488.1 L136.9 487.5 L137.3 487.0 L137.7 486.4 L138.1 485.9 L138.5 485.4 L138.9 484.9 L139.3 484.4 L139.7 483.9 L140.1 483.4 L140.5 483.0 L140.9 482.5 L141.3 482.0 L141.7 481.6 L142.1 481.2 L142.5 480.7 L142.9 480.3 L143.3 479.9 L143.7 479.5 L144.1 479.1 L144.5 478.7 L144.9 478.3 L145.3 478.0 L145.7 477.7 L146.1 477.3 L146.5 477.1 L146.9 476.8 L147.3 476.5 L147.7 476.2 L148.1 476.0 L148.5 475.7 L148.9 475.5 L149.3 475.2 L149.7 475.0 L150.1 474.8 L150.5 474.6 L150.9 474.4 L151.3 474.2 L151.7 474.0 L152.1 473.9 L152.5 473.7 L152.9 473.6 L153.3 473.5 L153.7 473.4 L154.1 473.2 L154.5 473.1 L154.9 473.0 L155.3 472.9 L155.7 472.8 L156.1 472.7 L156.5 472.6 L156.9 472.5 L157.3 472.5 L157.7 472.4 L158.1 472.3 L158.5 472.2 L158.9 472.1 L159.3 472.1 L159.7 472.0 L160.1 471.9 L160.5 471.9 L160.9 471.8 L161.3 471.7 L161.7 471.7 L162.1 471.6 L162.5 471.5 L162.9 471.5 L163.3 471.4 L163.7 471.4 L164.1 471.3 L164.5 471.2 L164.9 471.2 L165.3 471.1 L165.7 471.1 L166.1 471.0 L166.5 471.0 L166.9 470.9 L167.3 470.9 L167.7 470.8 L168.1 470.8 L168.5 470.8 L168.9 470.7 L169.3 470.7 L169.7 470.7 L170.1 470.6 L170.5 470.6 L170.9 470.6 L171.3 470.5 L171.7 470.5 L172.1 470.5 L172.5 470.5 L172.9 470.4 L173.3 470.4 L173.7 470.4 L174.1 470.4 L174.5 470.4 L174.9 470.3 L175.3 470.3 L175.7 470.3 L176.1 470.3 L176.5 470.3 L176.9 470.2 L177.3 470.2 L177.7 470.2 L178.1 470.2 L178.5 470.2 L178.9 470.2 L179.3 470.1 L179.7 470.1 L180.1 470.1 L180.5 470.1 L180.9 470.1 L181.3 470.1 L181.7 470.0 L182.1 470.0 L182.5 470.0 L182.9 470.0 L183.3 470.0 L183.7 469.9 L184.1 469.9 L184.5 469.9 L184.9 469.9 L185.3 469.8 L185.7 469.8 L186.1 469.8 L186.5 469.8 L186.9 469.7 L187.3 469.7 L187.7 469.7 L188.1 469.7 L188.5 469.6 L188.9 469.6 L189.3 469.6 L189.7 469.6 L190.1 469.5 L190.5 469.5 L190.9 469.5 L191.3 469.4 L191.7 469.4 L192.1 469.4 L192.5 469.4 L192.9 469.3 L193.3 469.3 L193.7 469.3 L194.1 469.2 L194.5 469.2 L194.9 469.2 L195.3 469.2 L195.7 469.1 L196.1 469.1 L196.5 469.1 L196.9 469.0 L197.3 469.0 L197.7 469.0 L198.1 469.0 L198.5 468.9 L198.9 468.9 L199.3 468.9 L199.7 468.9 L200.1 468.8 L200.5 468.8 L200.9 468.8 L201.3 468.7 L201.7 468.7 L202.1 468.7 L202.5 468.7 L202.9 468.6 L203.3 468.6 L203.7 468.6 L204.1 468.6 L204.5 468.5 L204.9 468.5 L205.3 468.5 L205.7 468.5 L206.1 468.4 L206.5 468.4 L206.9 468.4 L207.3 468.4 L207.7 468.4 L208.1 468.3 L208.5 468.3 L208.9 468.3 L209.3 468.3 L209.7 468.2 L210.1 468.2 L210.5 468.2 L210.9 468.2 L211.3 468.1 L211.7 468.1 L212.1 468.1 L212.5 468.1 L212.9 468.0 L213.3 468.0 L213.7 468.0 L214.1 468.0 L214.5 467.9 L214.9 467.9 L215.3 467.9 L215.7 467.9 L216.1 467.9 L216.5 467.8 L216.9 467.8 L217.3 467.8 L217.7 467.8 L218.1 467.7 L218.5 467.7 L218.9 467.7 L219.3 467.7 L219.7 467.6 L220.1 467.6 L220.5 467.6 L220.9 467.6 L221.3 467.6 L221.7 467.5 L222.1 467.5 L222.5 467.5 L222.9 467.5 L223.3 467.5 L223.7 467.4 L224.1 467.4 L224.5 467.4 L224.9 467.4 L225.3 467.4 L225.7 467.3 L226.1 467.3 L226.5 467.3 L226.9 467.3 L227.3 467.3 L227.7 467.2 L228.1 467.2 L228.5 467.2 L228.9 467.2 L229.3 467.2 L229.7 467.1 L230.1 467.1 L230.5 467.1 L230.9 467.1 L231.3 467.1 L231.7 467.1 L232.1 467.0 L232.5 467.0 L232.9 467.0 L233.3 467.0 L233.7 467.0 L234.1 466.9 L234.5 466.9 L234.9 466.9 L235.3 466.9 L235.7 466.8 L236.1 466.8 L236.5 466.8 L236.9 466.8 L237.3 466.8 L237.7 466.7 L238.1 466.7 L238.5 466.7 L238.9 466.7 L239.3 466.6 L239.7 466.6 L240.1 466.6 L240.5 466.6 L240.9 466.5 L241.3 466.5 L241.7 466.5 L242.1 466.5 L242.5 466.4 L242.9 466.4 L243.3 466.4 L243.7 466.3 L244.1 466.3 L244.5 466.3 L244.9 466.2 L245.3 466.2 L245.7 466.2 L246.1 466.1 L246.5 466.1 L246.9 466.1 L247.3 466.0 L247.7 466.0 L248.1 466.0 L248.5 465.9 L248.9 465.9 L249.3 465.9 L249.7 465.8 L250.1 465.8 L250.5 465.8 L250.9 465.7 L251.3 465.7 L251.7 465.7 L252.1 465.6 L252.5 465.6 L252.9 465.6 L253.3 465.5 L253.7 465.5 L254.1 465.5 L254.5 465.4 L254.9 465.4 L255.3 465.4 L255.7 465.3 L256.1 465.3 L256.5 465.3 L256.9 465.3 L257.3 465.2 L257.7 465.2 L258.1 465.2 L258.5 465.1 L258.9 465.1 L259.3 465.1 L259.7 465.1 L260.1 465.0 L260.5 465.0 L260.9 465.0 L261.3 465.0 L261.7 464.9 L262.1 464.9 L262.5 464.9 L262.9 464.8 L263.3 464.8 L263.7 464.8 L264.1 464.8 L264.5 464.7 L264.9 464.7 L265.3 464.7 L265.7 464.7 L266.1 464.6 L266.5 464.6 L266.9 464.6 L267.3 464.6 L267.7 464.5 L268.1 464.5 L268.5 464.5 L268.9 464.5 L269.3 464.5 L269.7 464.4 L270.1 464.4 L270.5 464.4 L270.9 464.4 L271.3 464.4 L271.7 464.4 L272.1 464.3 L272.5 464.3 L272.9 464.3 L273.3 464.3 L273.7 464.3 L274.1 464.3 L274.5 464.3 L274.9 464.3 L275.3 464.3 L275.7 464.3 L276.1 464.3 L276.5 464.2 L276.9 464.2 L277.3 464.2 L277.7 464.3 L278.1 464.3 L278.5 464.3 L278.9 464.3 L279.3 464.3 L279.7 464.3 L280.1 464.3 L280.5 464.3 L280.9 464.4 L281.3 464.4 L281.7 464.4 L282.1 464.4 L282.5 464.5 L282.9 464.5 L283.3 464.6 L283.7 464.6 L284.1 464.7 L284.5 464.7 L284.9 464.8 L285.3 464.9 L285.7 465.0 L286.1 465.1 L286.5 465.2 L286.9 465.3 L287.3 465.4 L287.7 465.5 L288.1 465.6 L288.5 465.8 L288.9 465.9 L289.3 466.1 L289.7 466.3 L290.1 466.4 L290.5 466.6 L290.9 466.9 L291.3 467.1 L291.7 467.3 L292.1 467.6 L292.5 467.9 L292.9 468.2 L293.3 468.5 L293.7 468.8 L294.1 469.2 L294.5 469.6 L294.9 470.0 L295.3 470.4 L295.7 470.8 L296.1 471.3 L296.5 471.8 L296.9 472.3 L297.3 472.8 L297.7 473.4 L298.1 474.0 L298.5 474.6 L298.9 475.3 L299.3 476.0 L299.7 476.7 L300.1 477.5 L300.5 478.3 L300.9 479.1 L301.3 479.9 L301.7 480.8 L302.1 481.8 L302.5 482.7 L302.9 483.7 L303.3 484.8 L303.7 485.8 L304.1 487.0 L304.5 488.1 L304.9 489.3 L305.3 490.5 L305.7 491.8 L306.1 493.1 L306.5 494.4 L306.9 495.8 L307.3 497.2 L307.7 498.7 L308.1 500.2 L308.5 501.7 L308.9 503.2 L309.3 504.8 L309.7 506.5 L310.1 508.1 L310.5 509.8 L310.9 511.5 L311.3 513.3 L311.7 515.0 L312.1 516.8 L312.5 518.6 L312.9 520.5 L313.3 522.3 L313.7 524.2 L314.1 526.1 L314.5 528.0 L314.9 529.9 L315.3 531.8 L315.7 533.7 L316.1 535.6 L316.5 537.5 L316.9 539.4 L317.3 541.3 L317.7 543.2 L318.1 545.1 L318.5 547.0 L318.9 548.8 L319.3 550.6 L319.7 552.4 L320.1 554.2 L320.5 555.9 L320.9 557.6 L321.3 559.3 L321.7 560.9 L322.1 562.5 L322.5 564.1 L322.9 565.5 L323.3 567.0 L323.7 568.3 L324.1 569.7 L324.5 570.9 L324.9 572.1 L325.3 573.2 L325.7 574.3 L326.1 575.3 L326.5 576.2 L326.9 577.1 L327.3 577.8 L327.7 578.5 L328.1 579.1 L328.5 579.6 L328.9 580.1 L329.3 580.5 L329.7 580.7 L330.1 580.9 L330.5 581.0 L330.9 581.1 L331.3 581.0 L331.7 580.9 L332.1 580.6 L332.5 580.3 L332.9 579.9 L333.3 579.4 L333.7 578.9 L334.1 578.2 L334.5 577.5 L334.9 576.7 L335.3 575.8 L335.7 574.9 L336.1 573.9 L336.5 572.8 L336.9 571.6 L337.3 570.4 L337.7 569.1 L338.1 567.7 L338.5 566.3 L338.9 564.9 L339.3 563.3 L339.7 561.8 L340.1 560.2 L340.5 558.5 L340.9 556.8 L341.3 555.1 L341.7 553.3 L342.1 551.5 L342.5 549.7 L342.9 547.8 L343.3 545.9 L343.7 544.0 L344.1 542.1 L344.5 540.2 L344.9 538.2 L345.3 536.3 L345.7 534.3 L346.1 532.4 L346.5 530.4 L346.9 528.5 L347.3 526.6 L347.7 524.6 L348.1 522.7 L348.5 520.8 L348.9 518.9 L349.3 517.1 L349.7 515.2 L350.1 513.4 L350.5 511.6 L350.9 509.8 L351.3 508.0 L351.7 506.3 L352.1 504.6 L352.5 503.0 L352.9 501.3 L353.3 499.7 L353.7 498.2 L354.1 496.7 L354.5 495.2 L354.9 493.7 L355.3 492.3 L355.7 490.9 L356.1 489.6 L356.5 488.3 L356.9 487.0 L357.3 485.8 L357.7 484.6 L358.1 483.4 L358.5 482.3 L358.9 481.2 L359.3 480.2 L359.7 479.2 L360.1 478.2 L360.5 477.3 L360.9 476.4 L361.3 475.5 L361.7 474.7 L362.1 473.9 L362.5 473.1 L362.9 472.4 L363.3 471.7 L363.7 471.0 L364.1 470.3 L364.5 469.7 L364.9 469.1 L365.3 468.6 L365.7 468.1 L366.1 467.5 L366.5 467.1 L366.9 466.6 L367.3 466.1 L367.7 465.7 L368.1 465.3 L368.5 464.9 L368.9 464.6 L369.3 464.2 L369.7 463.9 L370.1 463.6 L370.5 463.3 L370.9 463.0 L371.3 462.8 L371.7 462.5 L372.1 462.3 L372.5 462.1 L372.9 461.9 L373.3 461.7 L373.7 461.6 L374.1 461.4 L374.5 461.2 L374.9 461.1 L375.3 461.0 L375.7 460.9 L376.1 460.8 L376.5 460.7 L376.9 460.6 L377.3 460.5 L377.7 460.4 L378.1 460.3 L378.5 460.3 L378.9 460.2 L379.3 460.2 L379.7 460.1 L380.1 460.1 L380.5 460.0 L380.9 460.0 L381.3 459.9 L381.7 459.9 L382.1 459.9 L382.5 459.8 L382.9 459.8 L383.3 459.8 L383.7 459.7 L384.1 459.7 L384.5 459.7 L384.9 459.7 L385.3 459.7 L385.7 459.7 L386.1 459.6 L386.5 459.6 L386.9 459.7 L387.3 459.7 L387.7 459.7 L388.1 459.8 L388.5 459.8 L388.9 459.8 L389.3 459.9 L389.7 460.0 L390.1 460.0 L390.5 460.1 L390.9 460.2 L391.3 460.2 L391.7 460.3 L392.1 460.3 L392.5 460.4 L392.9 460.5 L393.3 460.5 L393.7 460.6 L394.1 460.6 L394.5 460.7 L394.9 460.7 L395.3 460.8 L395.7 460.9 L396.1 460.9 L396.5 461.0 L396.9 461.1 L397.3 461.2 L397.7 461.4 L398.1 461.5 L398.5 461.7 L398.9 461.8 L399.3 462.0 L399.7 462.2 L400.1 462.3 L400.5 462.5 L400.9 462.7 L401.3 463.0 L401.7 463.2 L402.1 463.5 L402.5 463.8 L402.9 464.1 L403.3 464.5 L403.7 464.8 L404.1 465.2 L404.5 465.6 L404.9 466.0 L405.3 466.4 L405.7 466.8 L406.1 467.2 L406.5 467.6 L406.9 468.1 L407.3 468.6 L407.7 469.0 L408.1 469.5 L408.5 470.1 L408.9 470.6 L409.3 471.1 L409.7 471.7 L410.1 472.2 L410.5 472.8 L410.9 473.3 L411.3 473.9 L411.7 474.5 L412.1 475.0 L412.5 475.6 L412.9 476.3 L413.3 476.9 L413.7 477.5 L414.1 478.1 L414.5 478.8 L414.9 479.4 L415.3 480.0 L415.7 480.6 L416.1 481.2 L416.5 481.8 L416.9 482.4 L417.3 483.0 L417.7 483.6 L418.1 484.2 L418.5 484.7 L418.9 485.3 L419.3 485.9 L419.7 486.4 L420.1 487.0 L420.5 487.5 L420.9 488.0 L421.3 488.4 L421.7 488.9 L422.1 489.4 L422.5 489.8 L422.9 490.3 L423.3 490.7 L423.7 491.2 L424.1 491.6 L424.5 491.9 L424.9 492.3 L425.3 492.6 L425.7 492.9 L426.1 493.2 L426.5 493.4 L426.9 493.7 L427.3 493.9 L427.7 494.1 L428.1 494.3 L428.5 494.5 L428.9 494.7 L429.3 494.9 L429.7 495.0 L430.1 495.2 L430.5 495.3 L430.9 495.4 L431.3 495.4 L431.7 495.5 L432.1 495.5 L432.5 495.6 L432.9 495.6 L433.3 495.7 L433.7 495.7 L434.1 495.7 L434.5 495.7 L434.9 495.7 L435.3 495.6 L435.7 495.5 L436.1 495.4 L436.5 495.3 L436.9 495.2 L437.3 495.0 L437.7 494.9 L438.1 494.7 L438.5 494.6 L438.9 494.3 L439.3 494.1 L439.7 493.8 L440.1 493.4 L440.5 493.1 L440.9 492.7 L441.3 492.2 L441.7 491.8 L442.1 491.4 L442.5 490.9 L442.9 490.5 L443.3 490.1 L443.7 489.7 L444.1 489.2 L444.5 488.8 L444.9 488.3 L445.3 487.8 L445.7 487.3 L446.1 486.8 L446.5 486.3 L446.9 485.8 L447.3 485.3 L447.7 484.8 L448.1 484.3 L448.5 483.8 L448.9 483.3 L449.3 482.8 L449.7 482.3 L450.1 481.8 L450.5 481.3 L450.9 480.8 L451.3 480.3 L451.7 479.8 L452.1 479.3 L452.5 478.9 L452.9 478.5 L453.3 478.1 L453.7 477.7 L454.1 477.4 L454.5 477.0 L454.9 476.7 L455.3 476.3 L455.7 476.0 L456.1 475.8 L456.5 475.5 L456.9 475.4 L457.3 475.3 L457.7 475.2 L458.1 475.1 L458.5 475.1 L458.9 475.0 L459.3 475.0 L459.7 475.0 L460.1 475.1 L460.5 475.2 L460.9 475.4 L461.3 475.6 L461.7 475.8 L462.1 476.1 L462.5 476.4 L462.9 476.7 L463.3 477.1 L463.7 477.5 L464.1 478.0 L464.5 478.5 L464.9 479.0 L465.3 479.6 L465.7 480.2 L466.1 480.9 L466.5 481.6 L466.9 482.5 L467.3 483.4 L467.7 484.3 L468.1 485.3 L468.5 486.3 L468.9 487.5 L469.3 488.8 L469.7 490.2 L470.1 491.6 L470.5 493.1 L470.9 494.7 L471.3 496.3 L471.7 497.9 L472.1 499.6 L472.5 501.4 L472.9 503.3 L473.3 505.2 L473.7 507.1 L474.1 509.0 L474.5 510.9 L474.9 512.8 L475.3 514.7 L475.7 516.6 L476.1 518.6 L476.5 520.5 L476.9 522.5 L477.3 524.5 L477.7 526.6 L478.1 528.7 L478.5 530.8 L478.9 532.9 L479.3 535.1 L479.7 537.2 L480.1 539.4 L480.5 541.5 L480.9 543.6 L481.3 545.7 L481.7 547.7 L482.1 549.7 L482.5 551.7 L482.9 553.7 L483.3 555.7 L483.7 557.7 L484.1 559.6 L484.5 561.5 L484.9 563.4 L485.3 565.2 L485.7 567.0 L486.1 568.7 L486.5 570.4 L486.9 572.1 L487.3 573.7 L487.7 575.4 L488.1 577.0 L488.5 578.6 L488.9 580.1 L489.3 581.5 L489.7 582.9 L490.1 584.2 L490.5 585.3 L490.9 586.4 L491.3 587.5 L491.7 588.6 L492.1 589.6 L492.5 590.6 L492.9 591.4 L493.3 592.1 L493.7 592.7 L494.1 593.1 L494.5 593.4 L494.9 593.7 L495.3 593.9 L495.7 594.1 L496.1 594.2 L496.5 594.2 L496.9 594.0 L497.3 593.6 L497.7 593.1 L498.1 592.6 L498.5 592.0 L498.9 591.4 L499.3 590.6 L499.7 589.8 L500.1 588.8 L500.5 587.7 L500.9 586.5 L501.3 585.2 L501.7 583.9 L502.1 582.5 L502.5 581.1 L502.9 579.6 L503.3 577.9 L503.7 576.1 L504.1 574.3 L504.5 572.3 L504.9 570.3 L505.3 568.3 L505.7 566.2 L506.1 564.2 L506.5 562.1 L506.9 560.1 L507.3 558.1 L507.7 556.1 L508.1 554.1 L508.5 552.0 L508.9 550.0 L509.3 547.9 L509.7 545.8 L510.1 543.7 L510.5 541.6 L510.9 539.5 L511.3 537.3 L511.7 535.2 L512.1 533.0 L512.5 530.8 L512.9 528.6 L513.3 526.3 L513.7 524.0 L514.1 521.9 L514.5 519.9 L514.9 518.0 L515.3 516.1 L515.7 514.3 L516.1 512.6 L516.5 510.9 L516.9 509.4 L517.3 507.8 L517.7 506.3 L518.1 504.7 L518.5 503.1 L518.9 501.5 L519.3 500.0 L519.7 498.4 L520.1 496.7 L520.5 495.1 L520.9 493.4 L521.3 491.6 L521.7 489.7 L522.1 487.7 L522.5 485.7 L522.9 483.7 L523.3 481.8 L523.7 480.1 L524.1 478.5 L524.5 476.9 L524.9 475.5 L525.3 474.1 L525.7 472.9 L526.1 471.7 L526.5 470.7 L526.9 469.6 L527.3 468.7 L527.7 467.8 L528.1 467.0 L528.5 466.2 L528.9 465.4 L529.3 464.7 L529.7 464.0 L530.1 463.3 L530.5 462.7 L530.9 462.1 L531.3 461.6 L531.7 461.1 L532.1 460.6 L532.5 460.1 L532.9 459.7 L533.3 459.2 L533.7 458.8 L534.1 458.5 L534.5 458.1 L534.9 457.8 L535.3 457.5 L535.7 457.2 L536.1 457.0 L536.5 456.7 L536.9 456.5 L537.3 456.3 L537.7 456.1 L538.1 455.9 L538.5 455.7 L538.9 455.5 L539.3 455.4 L539.7 455.2 L540.1 455.1 L540.5 455.0 L540.9 454.9 L541.3 454.7 L541.7 454.6 L542.1 454.5 L542.5 454.4 L542.9 454.3 L543.3 454.2 L543.7 454.1 L544.1 454.1 L544.5 454.0 L544.9 453.9 L545.3 453.8 L545.7 453.8 L546.1 453.7 L546.5 453.7 L546.9 453.6 L547.3 453.6 L547.7 453.5 L548.1 453.5 L548.5 453.4 L548.9 453.4 L549.3 453.3 L549.7 453.3 L550.1 453.2 L550.5 453.2 L550.9 453.2 L551.3 453.1 L551.7 453.1 L552.1 453.1 L552.5 453.0 L552.9 453.0 L553.3 453.0 L553.7 452.9 L554.1 452.9 L554.5 452.9 L554.9 452.9 L555.3 452.8 L555.7 452.8 L556.1 452.8 L556.5 452.8 L556.9 452.8 L557.3 452.7 L557.7 452.7 L558.1 452.7 L558.5 452.7 L558.9 452.7 L559.3 452.7 L559.7 452.6 L560.1 452.6 L560.5 452.6 L560.9 452.6 L561.3 452.6 L561.7 452.6 L562.1 452.6 L562.5 452.5 L562.9 452.5 L563.3 452.5 L563.7 452.5 L564.1 452.5 L564.5 452.5 L564.9 452.5 L565.3 452.5 L565.7 452.4 L566.1 452.4 L566.5 452.4 L566.9 452.4 L567.3 452.4 L567.7 452.4 L568.1 452.4 L568.5 452.4 L568.9 452.4 L569.3 452.4 L569.7 452.3 L570.1 452.3 L570.5 452.3 L570.9 452.3 L571.3 452.3 L571.7 452.3 L572.1 452.3 L572.5 452.3 L572.9 452.3 L573.3 452.3 L573.7 452.2 L574.1 452.2 L574.5 452.2 L574.9 452.2 L575.3 452.2 L575.7 452.2 L576.1 452.2 L576.5 452.2 L576.9 452.2 L577.3 452.2 L577.7 452.2 L578.1 452.2 L578.5 452.1 L578.9 452.1 L579.3 452.1 L579.7 452.1 L580.1 452.1 L580.5 452.1 L580.9 452.1 L581.3 452.1 L581.7 452.1 L582.1 452.1 L582.5 452.1 L582.9 452.1 L583.3 452.1 L583.7 452.0 L584.1 452.0 L584.5 452.0 L584.9 452.0 L585.3 452.0 L585.7 452.0 L586.1 452.0 L586.5 452.0 L586.9 452.0 L587.3 452.0 L587.7 452.0 L588.1 452.0 L588.5 451.9 L588.9 451.9 L589.3 451.9 L589.7 451.9 L590.1 451.9 L590.5 451.9 L590.9 451.9 L591.3 451.9 L591.7 451.9 L592.1 451.9 L592.5 451.9 L592.9 451.9 L593.3 451.8 L593.7 451.8 L594.1 451.8 L594.5 451.8 L594.9 451.8 L595.3 451.8 L595.7 451.8 L596.1 451.8 L596.5 451.8 L596.9 451.8 L597.3 451.8 L597.7 451.7 L598.1 451.7 L598.5 451.7 L598.9 451.7 L599.3 451.7 L599.7 451.7 L600.1 451.7 L600.5 451.7 L600.9 451.7 L601.3 451.7 L601.7 451.7 L602.1 451.6 L602.5 451.6 L602.9 451.6 L603.3 451.6 L603.7 451.6 L604.1 451.6 L604.5 451.6 L604.9 451.6 L605.3 451.6 L605.7 451.6 L606.1 451.6 L606.5 451.5 L606.9 451.5 L607.3 451.5 L607.7 451.5 L608.1 451.5 L608.5 451.5 L608.9 451.5 L609.3 451.5 L609.7 451.5 L610.1 451.5 L610.5 451.4 L610.9 451.4 L611.3 451.4 L611.7 451.4 L612.1 451.4 L612.5 451.4 L612.9 451.4 L613.3 451.4 L613.7 451.4 L614.1 451.4 L614.5 451.3 L614.9 451.3 L615.3 451.3 L615.7 451.3 L616.1 451.3 L616.5 451.3 L616.9 451.3 L617.3 451.3 L617.7 451.3 L618.1 451.2 L618.5 451.2 L618.9 451.2 L619.3 451.2 L619.7 451.2 L620.1 451.2 L620.5 451.2 L620.9 451.1 L621.3 451.1 L621.7 451.1 L622.1 451.1 L622.5 451.1 L622.9 451.1 L623.3 451.1 L623.7 451.0 L624.1 451.0 L624.5 451.0 L624.9 451.0 L625.3 451.0 L625.7 451.0 L626.1 451.0 L626.5 450.9 L626.9 450.9 L627.3 450.9 L627.7 450.9 L628.1 450.9 L628.5 450.9 L628.9 450.8 L629.3 450.8 L629.7 450.8 L630.1 450.8 L630.5 450.8 L630.9 450.8 L631.3 450.8 L631.7 450.7 L632.1 450.7 L632.5 450.7 L632.9 450.7 L633.3 450.7 L633.7 450.7 L634.1 450.7 L634.5 450.6 L634.9 450.6 L635.3 450.6 L635.7 450.6 L636.1 450.6 L636.5 450.6 L636.9 450.6 L637.3 450.5 L637.7 450.5 L638.1 450.5 L638.5 450.5 L638.9 450.5 L639.3 450.5 L639.7 450.5 L640.1 450.4 L640.5 450.4 L640.9 450.4 L641.3 450.4 L641.7 450.4 L642.1 450.4 L642.5 450.4 L642.9 450.4 L643.3 450.4 L643.7 450.3 L644.1 450.3 L644.5 450.3 L644.9 450.3 L645.3 450.3 L645.7 450.3 L646.1 450.3 L646.5 450.3 L646.9 450.3 L647.3 450.3 L647.7 450.3 L648.1 450.3 L648.5 450.3 L648.9 450.2 L649.3 450.2 L649.7 450.2 L650.1 450.2 L650.5 450.2 L650.9 450.2 L651.3 450.2 L651.7 450.2 L652.1 450.2 L652.5 450.2 L652.9 450.2 L653.3 450.2 L653.7 450.2 L654.1 450.1 L654.5 450.1 L654.9 450.1 L655.3 450.1 L655.7 450.1 L656.1 450.1 L656.5 450.1 L656.9 450.1 L657.3 450.1 L657.7 450.1 L658.1 450.1 L658.5 450.1 L658.9 450.1 L659.3 450.1 L659.7 450.0 L660.1 450.0 L660.5 450.0 L660.9 450.0 L661.3 450.0 L661.7 450.0 L662.1 450.0 L662.5 450.0 L662.9 450.0 L663.3 450.0 L663.7 450.0 L664.1 450.0 L664.5 450.0 L664.9 450.0 L665.3 450.0 L665.7 450.0 L666.1 450.0 L666.5 450.0 L666.9 450.0 L667.3 449.9 L667.7 449.9 L668.1 449.9 L668.5 449.9 L668.9 449.9 L669.3 449.9 L669.7 449.9 L670.1 449.9 L670.5 449.9 L670.9 449.9 L671.3 449.9 L671.7 449.9 L672.1 449.9 L672.5 449.9 L672.9 449.9 L673.3 449.9 L673.7 449.9 L674.1 449.9 L674.5 449.9 L674.9 449.9 L675.3 449.9 L675.7 449.9 L676.1 449.9 L676.5 449.9 L676.9 449.9 L677.3 449.9 L677.7 449.9 L678.1 449.9 L678.5 449.9 L678.9 449.9 L679.3 449.9 L679.7 449.9 L680.1 449.9 L680.5 449.9 L680.9 449.9 L681.3 450.0 L681.7 450.0 L682.1 450.0 L682.5 450.0 L682.9 450.0 L683.3 450.0 L683.7 450.0 L684.1 450.1 L684.5 450.2 L684.9 450.2 L685.3 450.3 L685.7 450.4 L686.1 450.5 L686.5 450.6 L686.9 450.7 L687.3 450.8 L687.7 451.0 L688.1 451.1 L688.5 451.3 L688.9 451.5 L689.3 451.6 L689.7 451.8 L690.1 452.0 L690.5 452.3 L690.9 452.5 L691.3 452.8 L691.7 453.0 L692.1 453.3 L692.5 453.6 L692.9 454.0 L693.3 454.3 L693.7 454.6 L694.1 455.0 L694.5 455.4 L694.9 455.8 L695.3 456.2 L695.7 456.7 L696.1 457.2 L696.5 457.7 L696.9 458.2 L697.3 458.8 L697.7 459.3 L698.1 459.9 L698.5 460.6 L698.9 461.2 L699.3 461.9 L699.7 462.7 L700.1 463.4 L700.5 464.3 L700.9 465.1 L701.3 466.0 L701.7 467.0 L702.1 467.9 L702.5 469.0 L702.9 470.1 L703.3 471.4 L703.7 472.7 L704.1 474.1 L704.5 475.5 L704.9 477.0 L705.3 478.6 L705.7 480.4 L706.1 482.3 L706.5 484.3 L706.9 486.3 L707.3 488.4 L707.7 490.3 L708.1 492.1 L708.5 493.8 L708.9 495.5 L709.3 497.3 L709.7 499.1 L710.1 501.0 L710.5 503.1 L710.9 505.2 L711.3 507.4 L711.7 509.8 L712.1 512.2 L712.5 514.9 L712.9 517.7 L713.3 520.8 L713.7 524.2 L714.1 528.0 L714.5 532.0 L714.9 536.2 L715.3 540.6 L715.7 545.0 L716.1 549.3 L716.5 553.7 L716.9 558.1 L717.3 562.7 L717.7 567.3 L718.1 572.1 L718.5 576.9 L718.9 581.7 L719.3 586.6 L719.7 591.5 L720.1 596.5 L720.5 601.4 L720.9 606.5 L721.3 611.8 L721.7 617.3 L722.1 623.1 L722.5 629.2 L722.9 635.8 L723.3 642.7 L723.7 649.9 L724.1 657.2 L724.5 664.8 L724.9 672.5 L725.3 680.6 L725.7 689.0 L726.1 697.5 L726.5 706.1 L726.9 714.7 L727.3 723.4 L727.7 732.1 L728.1 741.0 L728.5 750.0 L728.9 759.1" stroke="#f00" stroke-width="2.8" fill="none" stroke-linejoin="round"/>
</g>
<path d="M220.6 711.6v-11.3M220.6 420.0v11.3M354.3 711.6v-11.3M354.3 420.0v11.3M488.0 711.6v-11.3M488.0 420.0v11.3M621.7 711.6v-11.3M621.7 420.0v11.3M86.9 681.4h11.3M755.4 681.4h-11.3M86.9 631.2h11.3M755.4 631.2h-11.3M86.9 580.9h11.3M755.4 580.9h-11.3M86.9 530.6h11.3M755.4 530.6h-11.3M86.9 480.3h11.3M755.4 480.3h-11.3M86.9 430.1h11.3M755.4 430.1h-11.3" stroke="#000" stroke-width="1.5" fill="none"/>
<rect x="86.9" y="420.0" width="668.5" height="291.6" fill="none" stroke="#000" stroke-width="1.5"/>
<text x="83.9" y="740.2" text-anchor="middle" font-family="Liberation Sans, sans-serif" font-size="18.3" fill="#000">3773.6</text>
<text x="217.6" y="740.2" text-anchor="middle" font-family="Liberation Sans, sans-serif" font-size="18.3" fill="#000">3774</text>
<text x="351.3" y="740.2" text-anchor="middle" font-family="Liberation Sans, sans-serif" font-size="18.3" fill="#000">3774.4</text>
<text x="485.0" y="740.2" text-anchor="middle" font-family="Liberation Sans, sans-serif" font-size="18.3" fill="#000">3774.8</text>
<text x="618.7" y="740.2" text-anchor="middle" font-family="Liberation Sans, sans-serif" font-size="18.3" fill="#000">3775.2</text>
<text x="752.4" y="740.2" text-anchor="middle" font-family="Liberation Sans, sans-serif" font-size="18.3" fill="#000">3775.6</text>
<text x="71.6" y="690.8" text-anchor="end" font-family="Liberation Sans, sans-serif" font-size="18.3" fill="#000">0.75</text>
<text x="71.6" y="640.6" text-anchor="end" font-family="Liberation Sans, sans-serif" font-size="18.3" fill="#000">0.80</text>
<text x="71.6" y="590.3" text-anchor="end" font-family="Liberation Sans, sans-serif" font-size="18.3" fill="#000">0.85</text>
<text x="71.6" y="540.0" text-anchor="end" font-family="Liberation Sans, sans-serif" font-size="18.3" fill="#000">0.90</text>
<text x="71.6" y="489.7" text-anchor="end" font-family="Liberation Sans, sans-serif" font-size="18.3" fill="#000">0.95</text>
<text x="71.6" y="439.5" text-anchor="end" font-family="Liberation Sans, sans-serif" font-size="18.3" fill="#000">1.00</text>
<text x="332.9" y="391.4" textLength="159.8" lengthAdjust="spacingAndGlyphs" font-family="Liberation Sans, sans-serif" font-size="18.3" fill="#000">Lambda (angstrom)</text>
<text x="332.9" y="767.1" textLength="159.8" lengthAdjust="spacingAndGlyphs" font-family="Liberation Sans, sans-serif" font-size="18.3" fill="#000">Lambda (angstrom)</text>
<text transform="translate(33.3 254.9) rotate(-90)" textLength="131" lengthAdjust="spacing" font-family="Liberation Serif, serif" font-size="18.4" fill="#000">Arbitrary Flux</text>
<text transform="translate(22.9 630.7) rotate(-90)" textLength="131" lengthAdjust="spacing" font-family="Liberation Serif, serif" font-size="18.4" fill="#000">Arbitrary Flux</text>
<text x="498.6" y="231.1" textLength="21.1" lengthAdjust="spacingAndGlyphs" font-family="Liberation Serif, serif" font-size="20.7" font-weight="bold" fill="#000" stroke="#000" stroke-width="0.35">Sr</text>
<text x="529.6" y="231.1" textLength="5.7" lengthAdjust="spacingAndGlyphs" font-family="Liberation Serif, serif" font-size="20.7" font-weight="bold" fill="#000" stroke="#000" stroke-width="0.8">I</text>
<text x="535.8" y="231.1" textLength="5.7" lengthAdjust="spacingAndGlyphs" font-family="Liberation Serif, serif" font-size="20.7" font-weight="bold" fill="#000" stroke="#000" stroke-width="0.8">I</text>
<text x="551.3" y="231.1" textLength="46.5" lengthAdjust="spacingAndGlyphs" font-family="Liberation Serif, serif" font-size="20.7" font-weight="bold" fill="#000" stroke="#000" stroke-width="0.35">4077</text>
<text x="608.1" y="231.1" textLength="11.7" lengthAdjust="spacingAndGlyphs" font-family="Liberation Serif, serif" font-size="20.7" font-weight="bold" fill="#000" stroke="#000" stroke-width="0.7">A</text>
<text x="498.3" y="254.2" textLength="49.0" lengthAdjust="spacingAndGlyphs" font-family="Liberation Serif, serif" font-size="20.7" font-weight="bold" fill="#f00" stroke="#f00" stroke-width="0.35">A(Sr)</text>
<text x="559.4" y="254.2" textLength="11.1" lengthAdjust="spacingAndGlyphs" font-family="Liberation Serif, serif" font-size="20.7" font-weight="bold" fill="#f00" stroke="#f00" stroke-width="0.35">=</text>
<text x="582.3" y="254.2" textLength="40.6" lengthAdjust="spacingAndGlyphs" font-family="Liberation Serif, serif" font-size="20.7" font-weight="bold" fill="#f00" stroke="#f00" stroke-width="0.35">0.12</text>
<text x="498.3" y="277.6" textLength="49.0" lengthAdjust="spacingAndGlyphs" font-family="Liberation Serif, serif" font-size="20.7" font-weight="bold" fill="#00f" stroke="#00f" stroke-width="0.35">A(Sr)</text>
<text x="559.4" y="277.6" textLength="11.1" lengthAdjust="spacingAndGlyphs" font-family="Liberation Serif, serif" font-size="20.7" font-weight="bold" fill="#00f" stroke="#00f" stroke-width="0.35">=</text>
<text x="582.3" y="277.6" textLength="78.9" lengthAdjust="spacingAndGlyphs" font-family="Liberation Serif, serif" font-size="20.7" font-weight="bold" fill="#00f" stroke="#00f" stroke-width="0.35">0.5,&#8722;0.5</text>
<text x="120.3" y="632.1" textLength="12.0" lengthAdjust="spacingAndGlyphs" font-family="Liberation Serif, serif" font-size="20.7" font-weight="bold" fill="#000" stroke="#000" stroke-width="0.6">Y</text>
<text x="142.3" y="632.1" textLength="5.9" lengthAdjust="spacingAndGlyphs" font-family="Liberation Serif, serif" font-size="20.7" font-weight="bold" fill="#000" stroke="#000" stroke-width="0.8">I</text>
<text x="148.6" y="632.1" textLength="5.9" lengthAdjust="spacingAndGlyphs" font-family="Liberation Serif, serif" font-size="20.7" font-weight="bold" fill="#000" stroke="#000" stroke-width="0.8">I</text>
<text x="164.5" y="632.1" textLength="45.4" lengthAdjust="spacingAndGlyphs" font-family="Liberation Serif, serif" font-size="20.7" font-weight="bold" fill="#000" stroke="#000" stroke-width="0.35">3774</text>
<text x="220.9" y="632.1" textLength="11.3" lengthAdjust="spacingAndGlyphs" font-family="Liberation Serif, serif" font-size="20.7" font-weight="bold" fill="#000" stroke="#000" stroke-width="0.7">A</text>
<text x="120.3" y="657.2" textLength="39.6" lengthAdjust="spacingAndGlyphs" font-family="Liberation Serif, serif" font-size="20.7" font-weight="bold" fill="#f00" stroke="#f00" stroke-width="0.35">A(Y)</text>
<text x="171.5" y="657.2" textLength="12.0" lengthAdjust="spacingAndGlyphs" font-family="Liberation Serif, serif" font-size="20.7" font-weight="bold" fill="#f00" stroke="#f00" stroke-width="0.35">=</text>
<text x="196.7" y="657.2" textLength="53.8" lengthAdjust="spacingAndGlyphs" font-family="Liberation Serif, serif" font-size="20.7" font-weight="bold" fill="#f00" stroke="#f00" stroke-width="0.35">&#8722;0.65</text>
<text x="120.3" y="682.3" textLength="39.6" lengthAdjust="spacingAndGlyphs" font-family="Liberation Serif, serif" font-size="20.7" font-weight="bold" fill="#00f" stroke="#00f" stroke-width="0.35">A(Y)</text>
<text x="171.5" y="682.3" textLength="12.0" lengthAdjust="spacingAndGlyphs" font-family="Liberation Serif, serif" font-size="20.7" font-weight="bold" fill="#00f" stroke="#00f" stroke-width="0.35">=</text>
<text x="196.7" y="682.3" textLength="198.2" lengthAdjust="spacingAndGlyphs" font-family="Liberation Serif, serif" font-size="20.7" font-weight="bold" fill="#00f" stroke="#00f" stroke-width="0.35">&#8722;0.4,&#8722;0.8,&#8722;1.2,none</text>
</svg>
</body></html>
